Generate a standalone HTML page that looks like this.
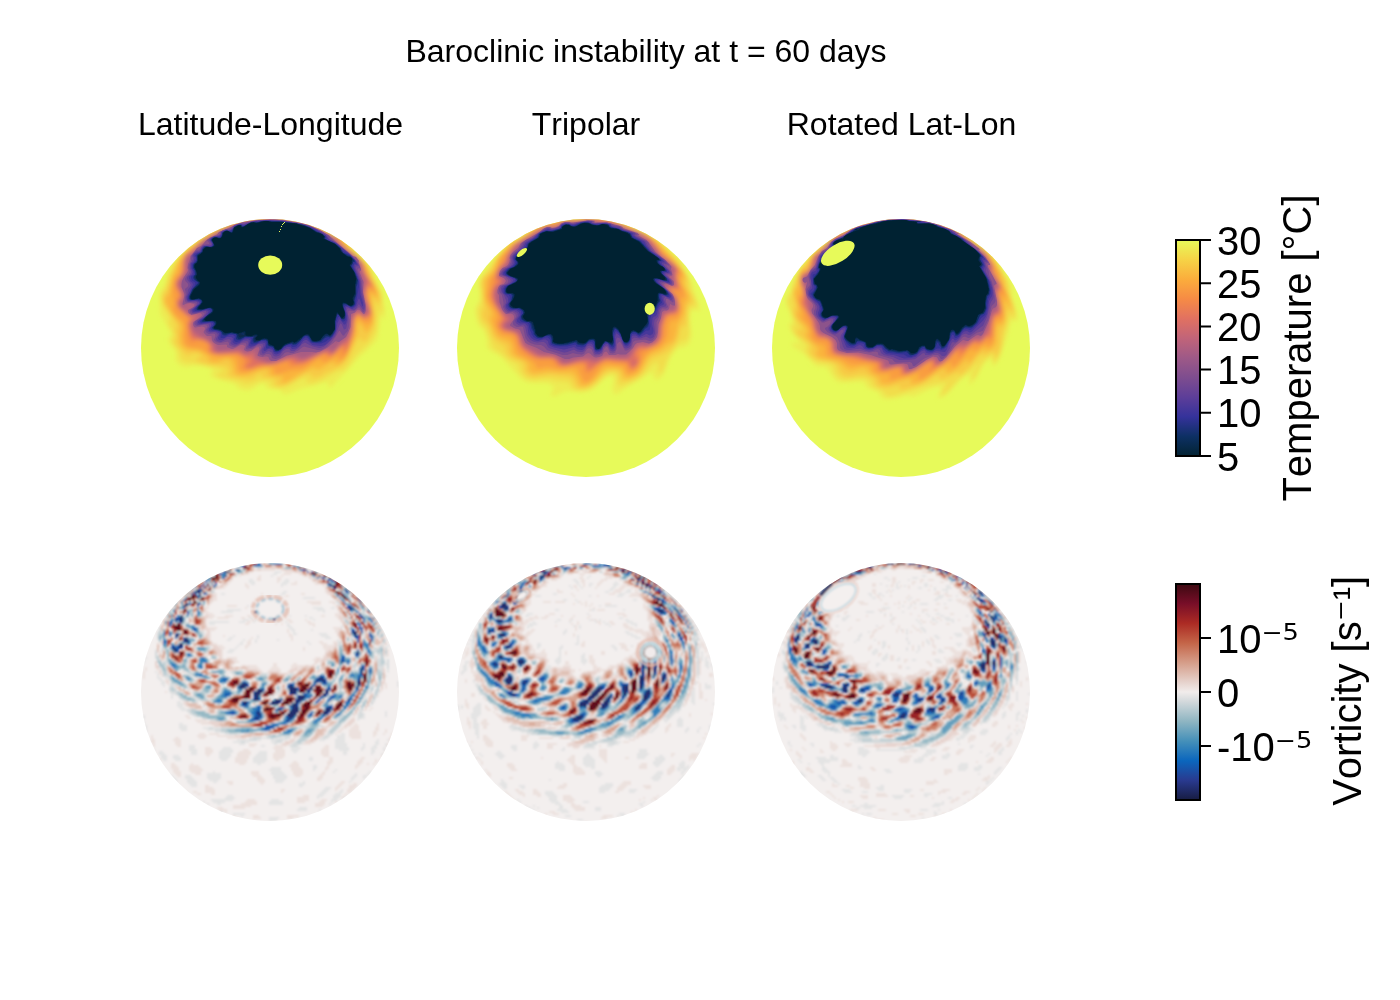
<!DOCTYPE html>
<html><head><meta charset="utf-8"><title>Baroclinic instability</title>
<style>html,body{margin:0;padding:0;background:#fff}svg{display:block}
text{font-family:"Liberation Sans",sans-serif;fill:#000;font-kerning:none}
.sup{font-family:"DejaVu Sans",sans-serif}
</style></head><body>
<svg width="1400" height="1000" viewBox="0 0 1400 1000">
<defs>
<linearGradient id="gT" x1="0" y1="0" x2="0" y2="1"><stop offset="0.0000" stop-color="rgb(231,250,90)"/><stop offset="0.0909" stop-color="rgb(246,211,70)"/><stop offset="0.1818" stop-color="rgb(251,173,60)"/><stop offset="0.2727" stop-color="rgb(246,139,69)"/><stop offset="0.3636" stop-color="rgb(225,113,97)"/><stop offset="0.4545" stop-color="rgb(193,100,121)"/><stop offset="0.5455" stop-color="rgb(158,89,135)"/><stop offset="0.6364" stop-color="rgb(126,77,143)"/><stop offset="0.7273" stop-color="rgb(93,62,153)"/><stop offset="0.8182" stop-color="rgb(53,50,155)"/><stop offset="0.9091" stop-color="rgb(13,48,100)"/><stop offset="1.0000" stop-color="rgb(3,35,51)"/></linearGradient>
<linearGradient id="gB" x1="0" y1="0" x2="0" y2="1"><stop offset="0.0000" stop-color="rgb(60,9,17)"/><stop offset="0.0909" stop-color="rgb(120,14,40)"/><stop offset="0.1818" stop-color="rgb(172,43,36)"/><stop offset="0.2727" stop-color="rgb(196,101,72)"/><stop offset="0.3636" stop-color="rgb(213,157,137)"/><stop offset="0.4545" stop-color="rgb(230,210,204)"/><stop offset="0.5000" stop-color="rgb(241,236,235)"/><stop offset="0.5455" stop-color="rgb(210,216,219)"/><stop offset="0.6364" stop-color="rgb(142,181,194)"/><stop offset="0.7273" stop-color="rgb(69,144,185)"/><stop offset="0.8182" stop-color="rgb(11,102,189)"/><stop offset="0.9091" stop-color="rgb(41,58,143)"/><stop offset="1.0000" stop-color="rgb(23,28,66)"/></linearGradient>
</defs>
<rect width="1400" height="1000" fill="#fff"/>
<text x="646" y="62" font-size="32" text-anchor="middle">Baroclinic instability at t = 60 days</text>
<text x="270.5" y="135" font-size="32" text-anchor="middle">Latitude-Longitude</text>
<text x="586" y="135" font-size="32" text-anchor="middle">Tripolar</text>
<text x="901.5" y="135" font-size="32" text-anchor="middle">Rotated Lat-Lon</text>
<!--SPHERES-->
<defs><clipPath id="c0"><circle cx="270" cy="348" r="129"/></clipPath><clipPath id="c1"><circle cx="586" cy="348" r="129"/></clipPath><clipPath id="c2"><circle cx="901" cy="348" r="129"/></clipPath><clipPath id="c3"><circle cx="270" cy="692" r="129"/></clipPath><clipPath id="c4"><circle cx="586" cy="692" r="129"/></clipPath><clipPath id="c5"><circle cx="901" cy="692" r="129"/></clipPath><filter id="b0" x="-5%" y="-5%" width="110%" height="110%"><feGaussianBlur stdDeviation="4"/></filter><filter id="b1" x="-5%" y="-5%" width="110%" height="110%"><feGaussianBlur stdDeviation="1.3"/></filter><filter id="b2" x="-5%" y="-5%" width="110%" height="110%"><feGaussianBlur stdDeviation="0.5"/></filter><filter id="b3" x="-5%" y="-5%" width="110%" height="110%"><feGaussianBlur stdDeviation="0.9"/></filter></defs><g clip-path="url(#c0)"><circle cx="270" cy="348" r="130" fill="#e7fa5a"/><g transform="translate(141 219) scale(0.5)" fill-rule="evenodd"><g filter="url(#b0)"><path fill="#edeb53" d="M293 350l27-11 28-6 24-8 2 1 0 10 2 1 4-1 35-36 21-24 6-6 6-3 15-17 5-3 2-3 4-9 4-36 2-8 2 2 4 10 1-3 0-16-5-34 4 5 0-2-8-17-14-27 0-2 2 1-1-2-12-16-22-24 63-72-224 0-234 0 55 66-22 22-8 10-7 18-8 24-2 4-4 2-3 10 1 40 4 6 18 32 0 4-5 6 0 4 3 8 11 14 1 6-1 10 3 7 6 5 10 4 6 0 10-3 10 0 14 2 14 5 3 2-7 8 1 2 3 4 8 3 33 9 5 2 6 8 10 4 8 1 7-1 4-2 11-8 6-3 6 0 2 1 1 6 3 2 26 4 3 2 2 6z"/><path fill="#f2dd4b" d="M281 338l13-4 22-12 8-4 4 0 2 1 1 7 3 2 6 1 10-2 16-7 26-15 4-2 6 1 4-1 10-11 14-20 14-14 10-7 4-6 8-13 4-4 2-9 4-33 2-7 2 2 4 10 2-2-2-15-4-22-10-28-15-28 1-2-12-14-22-22 53-64-205 0-198 0 37 54-19 14-13 14-6 8-7 17-4 4 0-1 0-4 10-16-7 6-9 26-5 22-8 12-1 8 3 14 11 18 5 10 0 2-5 2-1 2 3 6 7 12 3 6-1 6-4 6 0 4 3 4 11 14 5 18 4 2 4 2 26 4 46 10 3 2 0 2-12 6-1 2 1 2 9 4 32 6 16 8 10-1 20-7 14-1 7 3 0 8 3 2 6 1zM454 94l0-1 1 1z"/><path fill="#f7ca44" d="M280 334l8-2 8-3 24-14 10-5 8-1 6 8 6 0 8-2 12-8 12-4 10-5 13-8 7-8 16-32 8-13 2 0 3 7 3 1 8-3 4-6 9-20 2-12 0-14-4-32 1-1 2 2 6 13 2 0 2-6 4 0 0-7-4-14-13-25-2-8-1-5-3-7-13-18-30-30 43-58-187 0-161 0 22 40-9 5-29 21-9 9-7 9-6 10-13 34-6 20-6 9-2 5 0 8 3 8 25 40 0 2-4 6 4 16-3 10 1 2 4 6 18 19 4 0 4-3 6-2 8 1 6 3 1 2-1 2-10 4 3 4 13 4 12 3 28 3 6 2 4 4 0 4-3 8 3 2 10 3 32 4 9-3 7-8 6-2 1 2-1 4 1 2 5 1 22 3 2 2-1 8 0 2 5 1zM420 63l-2-3 3 2zM422 64l-1 0 1-1z"/><path fill="#fab43e" d="M286 328l13-6 21-13 22-11 4-1 6 4 4 0 22-14 6-2 2 1 2 5 2 2 4-1 4-3 10-8 8-13 14-34 2-8 1-14 1-5 2-1 2 1 8 14 4 5 4-2 8-11 2-9 1-12-5-34-1-8 1-2 2 0 8 11 2 1 2-8-2-10-14-28-5-14 1-2-2-5-12-13-32-26 0-2 8 5-13-13 34-50-22 0-25 42-30-16 11-26-208 0 8 20-1 2-32 14-20 12-32 26-6 7-4 8-12 31-8 36-2 2-4 4-2 6 2 8 11 18 19 24 1 6-3 8 0 4 1 18 3 6 5 4 5 3 20 2 10 4 13 9 1 2-1 6 7 2 10 1 15-7 7 0 4 2 2 2 5 12 2 12 4 4 7 1 12-1 28-10 8-2 6 0 4 2-1 8 3 3 6 1 20 1 0 3-3 8 1 1z"/><path fill="#f99d40" d="M275 310l28-8 13 0 6-1 6-3 22-15 8-3 2 0 2 6 4 1 8-2 18-12 2 1 1 8 1 2 4-1 4-3 6-6 4-8 10-25 4-13 2-22 2-7 2-2 4 1 6 9 2 2 6-1 6 1 3-3 2-8 0-10-6-32-1-14 2-2 2 1 8 11 2-4-2-8-4-10-11-20-2-8-2-6-5-8-5-6-36-32-3-2 10 4-10-9-14-9-36-18 9-22-43 0-3 12-3 0-10-2 1-10-125 0 5 18-23 9-30 17-27 20-9 8-6 8-5 12-4 20-3 5-6 4-4 13-2 18 4 24-1 4-2 4 0 4 5 10 6 5 8 5 3 6 2 12-2 12 1 12 1 6 5 4 8 4 18 1 18 11 10 4 8 2 24-1 8 2 6 5 2 20 2 2 4 2 12 1 26-9 18-2 11 2 0 2-2 8 3 1z"/><path fill="#f2854b" d="M215 300l23-6 30-3 22-7 4 0 2 2 1 2-1 4 2 2 28-4 10-4 14-10 15-6 5 0 4 6 4 0 6-4 18-15 2 0 0 1-1 12 1 2 2 0 3-4 4-6 8-22 4-18 1-19 4-9 6-4 2 2 6 7 2 2 7-5 5 2 1-2 2-6-1-10-3-10-5-9-2-11 2-6 2-12 2 1 8 8 1-1-1-6-5-10-11-18-3-6 2-4-6-10-13-13-20-17-12-10-2-3 6 2 0-1-6-4-18-10-36-17-22-6-32-5 1-8-38 0 1 6-12 1-4-1 0-6-23 0 1 10-1 0-5 1-14 4-38 15-32 19-18 17-8 4-5 6-7 14-2 24-4 6-8 10-1 10 1 4 6 9 2 5-1 4-5 4-1 4 0 4 2 8 5 6 19 16-4 10 0 6 2 20 4 8 0 4 3 1 6-4 6-1 9 2 6 2 7 6 0 2-2 6 1 4 5 4 6 2 12 1 24-1 7 0 7 2 6 4 6 7 1 3-5 8 1 4 3 2z"/><path fill="#df7062" d="M219 298l21-7 18 0 10-2 28-8 6 1 3 4 3 2 8 1 10-2 42-21 4 1 4 6 4 0 6-4 14-15 6-3 2 0 0 3 0 8 0 2 6-9 7-21 2-12 2-20 4-8 5-5 2 0 10 9 2-1 6-4 4 1 0-1 2-5-2-9-7-15-2-10-1-6 3-8 1-12 2 1 8 8 1-1-1-5-16-25-2-8 1-4-5-8-12-13-24-19-13-12 7 2-6-5-16-9-40-18-24-6-29-4 0-8-28 0 0 6-31 2-2 1-14 2-18 5-36 14-31 20-9 8-12 13-2 1-4 0-6 6-3 6-2 8 0 16-1 4-4 8-8 10-2 8 2 4 6 12 2 6-1 4-6 6 0 6 1 5 4 5 15 14 9 4-5 8-2 6 5 23 6 4 16 2 6 2 6 3 4 4 2 4-2 8 2 4 4 2 12 2 36-2 20 9 8 5 1 2-2 4-9 6 0 2 4 2z"/><path fill="#c56676" d="M266 288l26-9 10-2 6 1 6 6 12-1 46-20 4 1 2 6 4-1 6-4 14-15 12-7 2-5 4-7 2-11 2-20 5-10 5-3 2 0 8 8 2 1 6-6 4-3 1-3-8-22-2-16 3-10 0-13 2 0 6 5-10-16-4-10-2-6 1-2-1-4-8-11-10-9-10-6-11-8-15-16 6 0-12-6-38-19-12-4-20-5-35-6 1-6-16 0 0 6-44 3-22 5-14 5-26 12-30 17-12 10-16 18-2 1-2-1-4 4-4 12 1 18-4 8-9 12-1 6 1 6 7 12 2 6-2 4-6 8 0 4 2 6 5 4 4 4 10 9 8 1 6-1 3 1-1 2-8 5-6 7 0 8 5 14 7 6 18 5 10 7 6 6-2 8 1 2 5 3 8 1 40-3 2 1 4 4 10 2 12-4 0 1 0 5 1 4 3 2 10 6 14 3z"/><path fill="#a85c83" d="M264 288l10-3 20-9 12-2 7 0 7 5 6 0 28-9 22-10 2 0 2 6 2 1 2-1 4-3 12-14 12-11 4-6 5-14 2-20 2-6 7-6 4-2 2 2 6 7 2 1 4-3 2-5 1-8-7-30 0-8 3-8-4-16 1-4-6-18 0-2 1-2 0-2-5-6-7-8-7-4-4-2-19-16-14-14 5 0-1 0-47-24-12-4-18-4-44-6-28 1-28 3-16 4-14 5-22 10-10 7-14 6-13 10-7 6-22 25 0 1-2-2-2 1-1 7 1 1 2 1-2 6 0 12-14 20-1 4 1 6 7 14 1 6 0 4-7 10 0 4 1 3 4 4 8 1 0 6 7 6 15-1 4 1 0 2-2 4-13 8-1 8 2 4 6 8 8 3 0 3 16 8 16 14 3 4-3 4 2 2 6 1 14-1 12 0 16-5 4 3 0 5 4 2 6 0 4 0 8-6 6-1 1 2-2 8 1 5 14 4 7 5 7 2zM92 180l-2 0 0-2 1-4 1-2 6-1 4 1-2 4zM118 228l-3-4 1-2 2 0 2 0 0 2z"/></g><g filter="url(#b1)"><path fill="#8c528b" d="M270 284l6-3 16-8 10-2 18-5 10 0 12 0 8 1 8-2 14-7 18-14 1 0 1 5 0-5 1 2 3 0 14-10 5-10 4-10 1-26 8-3 4-5 4-1 2 1 6 7 2 1 2-2 2-6 0-8-6-28 1-20-8-20 1-2 2-1 0-3-5-14 1-2-6-8-6-2-36-30-4-4-9-8-15-8-25-12-14-4-28-4-25-3-26 1-38 4-16 6-12 6-10 4-10 4-4 5-14 6-9 7-3 4-6 6-8 4-8 10-5 6-2 10-3 6-1 8 1 4-1 4-7 10-4 8-1 6 0 6 5 12 1 4-4 18 1 2 8-3 6-1 8 2 1 2-2 4-11 6 1 6 6 4 17-4 3 2 1 2-1 2-5 4-11 8-1 4 1 4 3 3 14-2 5 1 1 4-3 6 1 2 6 6 9 0 1 8 2 4 4 3 6 3 16-1 2 1 0 4 2 1 8 3 4-1 13-7 5 0 4 2-2 8 6 3 8-1 10-7 5-1 2 4-4 12 1 2 8 2 6-1 4 0 3 1 1 4 4 4z"/><path fill="#744892" d="M269 280l9-3 10-10 6-1 6 2 4 0 10-5 8-6 4-2 28 7 8-1 9-5 9-8 10-14 6-10 2 0 2 4 4 5 2 0 2-3 5-6 3-10 1-12-3-12 1-6 3-1 8 1 10-8 2 2 6 8 2 0 2-5 0-9-5-26-2-22-8-22 1-3 4-1 0-2-5-10-7-8-32-28-14-10-4-6-15-10-21-9-26-7-33-6-15 0-30 0-12 2-18 5-7-1-12 4-9 8-8 1-5 1-7 4 0 4-2 2-17 6-7 4 3 4 2 2-1 2-12 2-8 9-6 2-6 7-3 4-1 10-4 8-1 6 2 4 0 4-2 4-5 6-2 4 1 4 4 4 2 4-2 4-5 4 2 10-2 8 0 6 2 3 12 0 6 1 2 2-1 4-9 6-2 2 0 4 2 3 6 1 16-4 5 2 0 2-4 6-14 8-2 4 0 2 3 3 2 1 14-3 6 2 1 3-4 6 1 4 2 2 4 2 8-1 4 1 1 4-3 8 4 4 8 2 10-2 6-1 2 3 0 4 2 1 4 2 4 1 4-1 10-6 8-1 2 1 1 3-1 6 0 2 4 1 10-2 8-6 6 0 2 1 1 2-4 10 1 5 6 2 6-3 6 0 4 2 2 6z"/><path fill="#5e3f99" d="M274 274l4-2 6-8 6-4 6-1 2 2 2 3 6 0 9-6 7-8 6-3 2 1 7 4 7 3 14 3 8-3 9-7 13-14 2-5 8-20 2 0 2 2 4 10 4-2 2-8 2-11 0-6-3-10 1-4 2-2 10 4 2 0 4-3 4-7 2-2 2 3 6 8 2 0 1-3 0-6-6-24-2-24-10-26 1-3 5-1 0-2-5-8-8-10-30-24-16-10-4-6-19-12-17-8-18-5-34-5-34-2-19 2-9 1-14 5-10 0-7 2-5 2-2 4-4 3-4 1-6-1-8 3-2 2 0 4-4 3-10 2-7 3-3 4 4 6 1 2-1 2-4 1-10 0-5 3-3 7-8 2-6 5-1 4 1 4 0 2-2 6-3 2-1 6 0 4 2 6 0 4-2 4-4 2-2 4 1 4 5 6 2 4-2 4-4 6-1 8-3 6 1 6 3 4 14-1 4 1 1 2-1 4-11 10 0 2 2 4 5 0 18-4 4 0 1 2 0 2-3 4-4 4-11 8-2 4 1 3 4 1 13-2 6 0 1 2 0 4-3 4 0 4 5 3 10-1 4 3 2 3-4 8 2 4 8 2 10-5 6-1 3 2 1 2-1 4 1 2 4 2 4 1 6-2 10-6 8-1 2 1 1 3-2 8 1 1 4 1 6-2 10-6 8 0 2 1 1 3-4 8 1 6 2 1 2 0 6-4 4-1 6 3 2 5 2 2 4 1z"/><path fill="#47379a" d="M273 270l5-2 8-9 6-3 7 0 3 4 8-1 8-6 6-9 4-2 4 0 11 10 17 2 8-2 12-11 8-12 2-5 3-16 3-7 2 0 8 10 2 0 2-3 2-6 0-6-3-14 1-6 4 0 8 4 4-2 4-4 4-12 2-3 2 3 4 11 2 2 0-1 0-6-5-16-2-28-10-26 0-6 1-1 4 1 1-2-5-8-9-10-29-24-14-7-7-9-24-14-13-4-20-5-30-5-32-1-28 3-16 6-6-2-8 2-6 3-2 4-4 3-4 1-6-1-6 3-4 2 0 4-3 3-11 1-5 3-3 4 4 6 0 5-4 2-12-1-4 4-4 7-8 3-4 2-1 4 2 2 0 4-2 6-4 2-1 4 0 6 3 6 0 4-2 4-4 2-1 4 2 6 5 4 1 4-11 22-1 7 2 3 2 0 14 0 4 1 2 1 0 4-13 12 0 2 3 2 6 0 18-4 5 2 0 2-2 4-6 6-10 6-2 2-1 4 2 1 4 1 14-2 5 0 1 2 0 4-4 6 0 2 1 2 3 1 10 0 6 3 1 2-3 8 2 4 6 0 10-6 8 0 4 2-1 8 3 3 4 1 6-2 10-7 8-1 4 3-2 9 1 2 3 1 8-2 10-6 6 0 4 1 1 4-4 8 1 4 2 0 6-4 4 0 5 2 3 7 4 2z"/><path fill="#313295" d="M276 266l4-3 6-7 6-3 8-1 2 4 2 0 6-1 6-6 8-9 4-3 4 0 2 2 6 8 3 1 17 1 8-3 14-10 7-12 1-17 4-10 2-2 2 1 4 8 2 1 2 0 3-3 1-10-4-14 2-4 6-1 6 4 2 0 4-2 3-3 7-38 0-8-4-12-8-18 2-6 0-1 4 0 0-1-2-6-7-6-5-5-12-7-12-12-6-5-13-5-2-2-1-6-4-2-25-14-10-4-19-5-30-4-32-2-8 1-8 2-4-1-8 1-6 2-10 6-3 0-3-3-8 2-5 3-7 7-4 1-6-1-7 3-1 2-1 4-3 4-4 1-6-1-6 2-3 4 5 6-1 6-5 2-8-2-3 0-4 4-3 8-8 3-3 3-1 2 2 2 0 6-3 4-4 4-1 4 0 4 3 6 1 6-1 2-4 2-1 4 2 5 5 3 2 2-2 6-6 8-2 6-4 6-1 4 0 2 4 3 14-1 6 3 1 3-1 2-6 4-5 6 0 2 1 2 8 0 16-4 6 2 1 2-2 4-5 6-12 8-2 2 0 2 2 2 4 0 14-2 4 1 2 1 0 4-2 2-3 4 0 2 3 3 10 0 6 3 2 2-1 8 1 2 6 0 10-6 8 0 3 2 1 2-2 4 1 4 1 1 4 1 6-2 10-6 10 0 3 2-2 8 1 2 2 1 8-1 10-6 6 0 4 1 1 3-1 8 0 2 2 1 6-2 2 0 4 3 2 5 1 1 5 1z"/><path fill="#1c3179" d="M275 264l5-3 6-7 6-3 8-2 2 1 2 2 6-1 6-5 8-9 4-3 4 0 3 2 5 8 2 2 8 1 10-1 8-8 6-2 4 1 4-3 4-6 3-8 0-16 3-12 4 0 6 9 4 0 2-3 1-8-4-14 0-4 3-1 4 0 8 5 5-2 3-4-1-6 4-14 0-14 2-6 1-6-5-14-8-16 3-8 4 0 0-2-4-4-6-7-8-3-5-2-6-10-9-8-6-3-6-1-9-6-1 0 1-4-5-5-12-5-14-9-12-5-16-3-30-4-30-1-8 0-8 3-4 0-2-1-8 1-16 8-2-1-2-2-8 1-5 3-5 8-1 2-9-3-8 3-2 2 0 4-2 5-4 1-8-2-5 2-3 4 4 7 1 3-1 2-5 2-9-1-4 1-3 4-2 6-10 6 1 10-2 4-5 4-1 2 0 6 3 4 1 6 0 4-3 2-1 4 3 4 6 4 1 2-11 12-7 16 0 4 4 2 14-1 4 0 2 3 1 4-10 10-1 2 2 2 8 1 14-5 7 2 1 4-2 4-16 12-3 4 1 2 4 0 16-1 3 1 2 2 0 2-1 3-4 5 2 3 14 3 3 2 1 5 4 2 4 0 8-4 6 0 5 1 2 2-1 8 4 2 4 0 10-6 4 0 12 0 0 2-1 2 0 4 1 2 2 2 6-1 8-5 10 0 3 4 0 4 1 4 9 2 3 2 2 6 2 1z"/><path fill="#0c2f60" d="M274 264l6-4 6-6 6-3 10-3 2 2 6-1 8-6 6-8 4-2 6 0 4 3 4 8 4 2 4 0 8-2 12-10 4 0 4 1 4-4 6-11 0-16 4-14 2 0 2 1 4 8 2 1 4 0 2-4 0-8-4-12 0-6 2-1 4 1 10 5 4-2 3-3-1-8 4-12 0-16 3-12-5-14-9-14 4-4 1-5 2-1-2-4-6-5-6-2-8-5-6-10-10-8-20-10-1-2 1-2-4-4-6-4-6-2-14-8-13-6-15-3-30-4-18 0-12-1-6 0-12 3-4-1-8 1-16 9-2-1-2-3-6 1-7 3-5 10-4 0-6-3-4 1-5 4-1 5-2 4-4 1-6-2-6 2-3 4 5 8-1 4-5 3-8-2-4 1-4 4-2 6-9 6-1 2 1 4-1 6-2 3-4 3-1 6 1 4 2 2 2 6-1 4-3 2 0 4 5 6 4 2 1 2-12 12-7 14 0 4 1 2 2 2 14-2 4 1 3 1 1 4-9 10-1 4 1 2 9 0 14-4 3 0 3 2 1 4-2 2-14 12-4 6 5 1 16-1 3 2 2 4-2 4-4 2 1 4 14 3 4 3 2 4 4 1 12-3 10 2 2 1 1 7 3 2 4-1 8-4 18 0 2 1-3 2 0 4 1 3 2 1 7-2 7-3 8 0 4 3 0 5 2 4 8 2 4 7 2 2z"/><path fill="#082a4c" d="M274 262l6-2 6-7 4-3 12-3 2-1 2 2 4-1 10-7 4-6 4-2 4 0 4 1 6 10 4 2 4 0 8-2 6-8 6-4 4 0 4 3 4-4 6-10 0-16 4-15 2 0 6 7 2 3 4-1 1-4 1-6-5-14 1-5 2-1 4 1 10 5 4-2 2-4-1-8 4-10 0-18 2-12-5-14-7-10-1-4 4-2 0-6 2-2-4-6-8-2-8-6-4-4-2-5-10-9-21-10-2-2 3-2-4-4-6-4-8-2-12-8-18-6-10-3-32-3-16 0-14-2-16 4-4 0-2-2-6 1-16 9-3 0-1-4-6 1-8 4-2 8-2 2-4 0-4-3-6 0-4 4-1 6-3 4-4 0-6-1-6 2-2 3 4 8 0 4-6 3-8-1-4 1-4 5-1 4-3 4-4 1-3 3 0 10-2 4-4 2-1 6 3 6 2 6 0 4-3 2 0 4 5 6 3 2 1 2-2 4-10 8-7 14 0 4 4 3 12-2 4 1 4 2 1 4-8 10-1 2 0 3 8 0 14-4 4 1 3 2 1 4-2 2-13 10-4 6 5 2 14 0 4 1 2 3 0 2-5 6 1 4 14 2 2 2 4 4 2 1 12-2 10 1 4 2 2 6 2 1 10-3 12 1 10-2 1 1-4 4 0 2 1 3 2 1 6 0 8-4 6 0 4 2 0 6 2 4 9 2 3 7zM206 232l-8-2 6-2 2 1z"/><path fill="#032333" d="M274 262l5-2 5-7 4-3 14-5 2 0 1 1 1 1 4-2 18-14 4-1 4 1 6 11 4 2 4 0 8-2 6-8 4-4 4-1 6 4 4-4 6-10-1-15 4-16 1-2 2 2 4 6 4 4 3-2 2-2 0-8-5-14 1-4 1-1 6 1 6 5 4 0 4-2 1-3-2-10 5-10 0-16 2-12-4-14-9-14 1-1 3-3 1-8-2-3-8-2-8-6-5-5-1-4-10-10-22-10-2-2 3-2-5-6-12-3-12-9-19-6-9-3-20-1-8-2-22 0-6-2-6 0-16 4-4 0-2-1-6 1-6 2-6 5-6 2-2-1-1-4-5 1-8 5-2 8-2 2-2 0-6-4-5 0-5 4-1 6-3 4-4 1-6-2-5 1-3 4 5 10 0 2-5 3-10-1-4 2-4 4 0 4-10 8 0 10-2 4-4 2-1 6 3 6 2 6 0 4-2 2 0 4 5 6 3 2 0 2-1 4-11 9-7 13 0 4 1 2 4 1 12-3 4 2 2 2 2 4-8 10-1 2 1 2 6 0 16-3 2 0 5 3 0 2-1 4-4 4-9 6-4 6 4 2 13-1 6 1 1 4-1 4-4 4 0 2 2 1 10 2 5 3 3 3 4 1 12-2 12 3 14-5 1 2 0 6 1 1 10 1 8-3 4 0 1 1 0 2-4 4 1 4 6 0 10-4 6 1 3 3 0 4 2 4 9 4 3 6z"/></g></g><ellipse cx="270.2" cy="265.1" rx="12" ry="9.6" fill="#e7fa5a"/><path d="M279 231h1v1h-1zM280 229h1v1h-1zM281 226h1v1h-1zM282 224h1v1h-1zM283 223h1v1h-1zM284 222h1v1h-1z" fill="#e7fa5a"/></g><g clip-path="url(#c1)"><circle cx="586" cy="348" r="130" fill="#e7fa5a"/><g transform="translate(457 219) scale(0.5)" fill-rule="evenodd"><g filter="url(#b0)"><path fill="#edeb53" d="M196 354l22-10 28 3 10-1 8-2 10-5 20-19 12-6 4 1 3 3 0 4-2 18 2 8 3 3 6-2 18-13 25-14 23-15 2 0 2 1 1 10 2 2 3 1 4 0 6-4 6-7 12-32 10-14 8-7 8 0 4-1 9-8 2-6 2-8-3-34 1-12 3-5 6-1 4 0 6 4-1-8-3-12-14-40-15-28 1 0 4 2-2-4-9-12-19-18-18-16-12-8 31-48-139 0-179 0 21 38-10 7-28-45-48 0 50 62-42 49-5 9-4 12-1 8 2 14 0 10-2 7-6 11-2 8 5 24 3 5 10 10 4 11 3 10-2 8 1 4 6 7 17 9 8 6 19 22 18 19 7 5 13 4 30 0 6 2 7 4 3 2 0 2-6 10-1 4 3 2z"/><path fill="#f2dd4b" d="M256 342l8-2 6-4 8-5 18-17 6-4 6-2 6 1 4 3 2 4 0 12 2 5 4 2 10-3 18-8 11-6 11-10 14-16 8-4 3 0 2 2-1 16 2 3 2 0 6-6 10-25 9-14 15-18 4-2 6 1 6-8 3-11-2-32 1-12 2-4 2-1 4-1 8-3 0-1 0-4-13-28-1-2 2-6-3-10-7-14-14-20 0-1 8 5-1-2-13-14-24-23-16-12-19-11 19-36-277 0 18 36-21 12-4 1-32-49-25 0 44 58-26 30-13 22-10 10-4 5-2 7 3 32-1 10-6 12 1 12 3 13 12 14 14 37 3 4 13 9 12 11 20 10 2 4 2 8 3 6 7 7 6 5 14 2 28-2 20 5 16 1 6 2 6 10 4 3 10 2z"/><path fill="#f7ca44" d="M255 338l7-2 8-4 8-6 16-17 6-3 6-2 10-1 6 3 3 4 2 12 3 2 10 0 14-5 9-5 8-8 13-21 4-5 24-10 12-7 8-8 6-7 4-8 5-20 3-6 2-1 4 1 2-2 1-8 2-28 3-5 6-3 2-2-2-10-11-24 0-6 3-2 0-5-5-9-8-12-16-20-16-16-1-2 4 0-4-4-11-8-15-11-34-17 0-2 9-24-235 0 15 32-1 0-36 22-10 10-19 22-9 20-17 18-3 4-1 8 3 12 1 20 2 14-1 4-4 8 1 10 13 16 5 16 5 10 8 7 12 7 2 4 3 10 5 6 6 5 15 5 6 4 2 4 1 12 3 4 3 4 6 2 6 2 34-4 36 4 4 2 6 4 5 12 3 3 8 2z"/><path fill="#fab43e" d="M256 334l8-3 6-5 8-7 13-15 5-4 4-2 16 0 10 2 4 4 4 10 4 3 8 0 8-4 8-4 6-7 12-23 6-7 6-4 14-5 16-13 8-3 3-3 5-10 4-22 12-22 3-20 7-12-2-8-9-18-2-6 0-2 5-8 0-4-4-8-8-9-17-21-19-18-1-2 3-2-6-4-14-10-14-8-45-20 5-16-87 0 0 6-19 2-4 0-1-8-80 0 11 26-38 25-14 9-8 7-14 19-8 22-12 14-5 8-2 26 1 10 2 7 9 15 2 6 0 2-4 8 0 4 11 28 3 4 8 6 13 5 6 4 2 7 1 12 4 4 5 4 16 6 6 4 3 6 0 10 4 4 4 2 5 1 28-4 22 2 22 0 4 2 6 6 8 17 4 2z"/><path fill="#f99d40" d="M261 326l9-6 18-23 4-4 6-2 8 0 26 3 3 4 4 10 3 2 8-1 9-5 7-8 9-20 5-6 8-6 18-8 9-10 7-14 1-18 3-8 4-4 8 0 2-1 7-11 2-12-3-19 2-1 6 1 2-4-1-9-8-18-2-8 0-4 4-2 1-2-1-8-7-10-23-22-20-22-1-2 4 0 0-2-12-8-18-10-57-22 3-12-53 0-1 6-56 5-34 9-14 6-43 26-9 8-10 11-8 7-5 8-3 12-4 8-4 9-8 9-2 4-1 14-3 14 0 6 4 10 11 18 4 6 0 6-4 10 2 10 5 8 4 6 6 3 14 2 4 4 3 5 6 20 3 6 30 16 4 4 2 6 2 3 6 0 14-3 26 5 10-1 14-2 8 0 4 4 10 22 4 2z"/><path fill="#f2854b" d="M265 306l19-16 14-7 9 1 13 2 18 1 3 3 5 11 4 1 6-3 6-7 3-6 2-10 0-10 31-14 6-4 4-6 3-8 1-20 6-17 8-5 12-1 5-5 1-4 0-10-3-12-4-8-11-12-1-2 21 6 2-2-6-18-2-9 0-5 5-4-2-6-11-12-22-17-2-5-21-26 5 2 0-2-18-10-42-17-30-9-22-3-22 0-36 3-16 3-4 5-8 2-4 0-2-1-4 0-26 10-38 24-6 5-5 6-11 18-4 9-8 9-5 8-5 12-2 13-4 11-3 14 0 4 4 10 15 24 3 6 1 4-7 10 0 4 2 4 5 5 4 2 16 3 6 4 4 4 3 14 2 4 4 6 5 5 12 8 12 6 8 1 16 0 10 1 2 3 6 8 6 3 10 0 23-5 12 0 5 2 0 10 1 2 3 3z"/><path fill="#df7062" d="M265 300l5-2 5-4 13-8 6-4 6-1 42 4 2 3 4 10 2 1 4-2 6-5 3-8-1-6-5-4 0-2 0-6 2-2 3-4 4-2 12 1 8-3 10-4 6-6 4-4 2-6 2-22 6-18 6-5 16-3 4-6 1-6-1-8-3-10-5-6-9-10-2-6 3-1 12 5 4-4 1-2-4-12-1-12 0-3 4-2 0-3-3-6-7-6-25-20-3-8-13-16-9-8 5 0-11-7-18-7-14-4-8-5-8-3-29-8-13 1-2-1 3 0-2-2-19-1-48 4-10 2-6 5-6 3-6 0-4-2-4 1-14 5-50 31-6 5-11 17-5 16-10 8-4 8-4 12 0 4 8 3 1 3-12 10-4 8-1 8 2 10 3 8 19 28-2 4-5 8-1 4 2 4 6 5 16 3 8 4 4 6 5 16 3 5 6 5 12 9 11 5 7 2 20-1 8 2 4 3 6 8 4 3 12 0 24-7 12 0 5 4 1 2-1 6 1 2z"/><path fill="#c56676" d="M218 290l24-6 12-2 8 1 14 5 18-8 4-1 30 2 10 0 6-2 4-4 9-15 7-5 6-1 8 1 6 0 10-4 6-5 3-4 3-8 2-20 6-22 4-3 20-4 2-4 1-9-4-14-13-16-4-6 1-2 3-1 12 5 2-2 1-6-2-8-1-14 0-4 3-2 0-2-10-12-24-18-3-4 0-4-7-8-6-8-14-10-3-4-3-2-11-5-17-5-4-2-2-2-9-4-24-6-21 0-2-2 1-2-18 0-24 3-12-1-14 2-4 2-6 4-6 3-6 1-6-2-12 4-49 30-6 4-14 20-2 4-1 8-2 4-10 9-4 5-3 8-1 6 2 2 8 2 1 4-2 4-11 8-3 8-1 8 2 12 4 10 14 19 6 3 2 2-1 4-5 3-4 5-2 4 1 2 5 5 14 3 10 4 4 5 4 15 4 6 24 18 10 3 18 0 10 1 6 4 8 9 4 2zM355 292l3-6-1-2-1-1-4 2-1 3 1 4z"/><path fill="#a85c83" d="M221 288l21-7 18-3 4 0 12 4 6-1 16-6 30 3 12-1 6-5 10-15 6-5 8-2 10 3 4 0 8-3 6-5 4-5 2-6 2-22 6-22 4-4 6 0 8-4 6 0 3-4 1-8-3-12-16-18-3-6 2-2 4 0 10 4 2-2 1-8-4-6 2-4-1-10 1-8-12-14-15-10-6-6-3-4 0-2-8-8-5-8-17-10-1-2 2-2-4-2-11-6-15-3-6-3 0-2-8-4-25-6-21 0-2-1-1-1 2 0-2-2-15 0-28 4-10-1-14 2-3 1-5 6-6 2-6 1-6-3-12 4-8 7-38 21-2 2-7 10-7 6-6 8-2 6 0 8-2 4-11 8-5 5-2 8 0 4 10 4 1 5-3 5-9 5-3 4-1 10 2 18 7 14 8 10 2 2 10 2 3 4-3 6-9 6-2 4 2 2 3 3 22 7 4 6 4 14 4 6 4 4 16 7 8 7 6 2 18 1 8 1 9 4 9 9 4 1z"/></g><g filter="url(#b1)"><path fill="#8c528b" d="M224 280l8-3 20-2 6-5 4-2 4 1 8 7 4 1 6-1 6-2 4-7 4-2 2 1 4 6 2 0 10 0 6-2 4 1 12 0 6-5 8-8 4-7 4-3 12-2 12 3 6-2 6-5 4-6 2-10 1-16 5-12 2-12 4-3 6 0 4-3 2-10 6 3 4 0 0-9-2-8-3-6-13-12-4-6 1-2 3-1 12 5 4-2 0-4-1-4-9-8 2-2 4-1 1-1-3-12 1-4-1-2-9-10-22-18-14-20-4-4-15-8-2-2 3 0-4-4-9-3-15-5-5-2-1-2-5-2-26-7-24 0-2-1 2-2-6-1-10 0-28 4-4 0-4-1-8 0-8 3-4 5-8 3-6 1-4-2-6 0-8 4-4 4-20 12-11 6-9 6-6 10-10 8-5 6-2 6 1 2-1 6-3 6-4 3-7 3-5 6-2 6 0 4 10 4 3 4 1 2-4 6-8 2-3 4-2 6 0 6 3 4 1 14 3 8 1 4 3 6 6 6 10-1 4 2 2 3 0 6-7 10-1 2 1 2 9 5 6 1 4 2 9 22 2 4 5 3 18 7 14 8 22 5 20 9z"/><path fill="#744892" d="M284 272l6-3 4-9 4-4 2 0 2 2 4 10 6 1 4-2 3-7 1-10 4-4 2 0 2 2 8 15 2 0 4-1 6-4 2-5 2-7 4-3 11-1 9-1 10 3 4-1 4-4 3-5 2-6 0-22 5-9 3-13 3-5 8 0 4-3-4-10 0-6 4 0 10 7 1-3 0-6-3-6-16-16-4-6 1-2 3-1 4 1 10 4 2 0 1-2 0-2-1-4-7-8-3-4 2-1 6 0 1-1-1-4-9-12 0-2 5 1 0-1-8-10-22-16-9-12-2-6-4-4-20-10 0-2 2-2-1 0-8-4-18-5-9-7-9-1-8-4-10-2-22 1-4-1 0-1 1-2-2 0-9-1-30 6-4-1-4-1-8 0-7 3-5 5-6 3-10 1-2-2-4 0-6 1-16 12-10 8-12 4-7 6-6 10-5 6-6 4-5 6-2 4 1 2 0 6-3 6-4 4-8 4-5 6-2 4 1 2 10 4 4 4 2 4-2 4-3 2-10 4-4 6 1 6 5 6 3 14 0 6-1 4 1 2 3 6 4 3 2 1 9-2 6 4 1 6-5 8-1 4 1 4 3 2 4 2 2 0 6-1 4 1 5 22 4 6 6 4 9 3 12 1 6 3 6 7 32 10 8 0 12-4 8 2 10 1 4-2 6-9 4-2 5 2 5 12 4 1z"/><path fill="#5e3f99" d="M284 270l6-4 2-9 6-4 2 0 2 1 4 8 2 2 4 1 4-2 1-3 1-19 2-4 2 0 4 2 4 8 4 10 4 2 6-2 4-4 1-5 1-8 4-3 12 2 12-4 8 4 4-1 3-2 3-8-2-18 1-8 7-7 2-13 4-5 8-2 2-1 0-2-4-10 0-4 2-2 2 0 10 6 3-2-1-6-4-6-16-14-4-6 1-2 3-1 6 1 10 4 2 0 1-2 0-2-2-4-8-8-2-2 0-2 1-1 6 0 2-1-1-4-8-8-3-4 0-3 4 1 1 0 0-2-7-8-23-16-7-10-3-6-3-4-20-10-1-2 2-2-1-2-7-2-15-4-10-6-12-2-6-4-10-2-20 1-6-1-1-4-9 0-26 6-6 0-6-2-6 0-6 2-6 6-6 3-8 2-8-3-5 2-16 10-9 8-12 6-6 4-2 4-1 2-3 4-5 6-7 4-5 6-1 4 1 4 0 4-2 6-5 4-8 4-6 6-1 4 2 2 10 4 5 4 2 4-1 2-5 4-12 4-2 6 1 6 5 6 4 10 0 6-3 6 1 4 3 4 3 3 4 0 8-1 7 4 1 6-5 8 0 4 1 2 5 4 3 1 6-1 3 2 2 4 3 15 6 8 6 4 8 2 8-1 6 0 4 3 4 7 2 2 30 9 6-1 14-5 6 4 10 1 4-2 6-9 4-2 2 0 6 4 3 11 3 2z"/><path fill="#47379a" d="M284 266l6-4 4-10 4-2 4 0 4 8 2 2 4 1 2-2 3-5-1-18 2-7 2 0 4 3 6 9 4 11 2 2 2 1 4-1 4-5 2-3 1-8 1-4 2-1 6 0 6 4 4-2 10-5 2 0 6 3 5-3 2-6-3-14 1-12 3-3 2 0 3-3 4-14 3-4 6-2 2-2-3-10-1-6 2-1 2 0 12 5 2-2-1-4-3-4-18-18-4-4 2-3 4 0 14 5 4 0 0-1-1-5-9-8-2-4 2-3 6 1 2-2-2-4-12-12 0-2 2-2 2 1 1-1-7-8-21-14-8-10-4-8-3-2-12-6-6-4-2-2 1-2-2-2-17-5-12-5-12-3-2-1 0-3-5-1-9-2-18 2-6-2-4-2-4-1-12 1-16 5-6 0-6-2-4 0-8 2-4 6-5 3-11 2-8-2-6 2-12 6-10 10-10 6-7 4-5 10-7 6-6 4-6 6-1 6 1 2 1 6-2 4-5 4-8 4-6 6-1 2 1 4 15 6 5 4-1 2-3 4-6 4-8 2-4 6 0 4 1 4 7 6 3 4 0 8-4 6 1 6 3 3 2 2 14-1 6 4 2 6-5 8-1 4 1 2 5 3 10 0 2 2 3 3 2 16 6 8 5 4 8 2 10-3 6 0 4 3 2 8 3 2 7 3 20 4 20-5 8 5 8 1 4-2 6-9 4-2 4 0 2 1 2 3 4 12 4 2z"/><path fill="#313295" d="M283 264l5-3 4-10 6-4 4 1 4 6 2 2 4 1 2-2 1-5-1-12 0-6 2-6 2-2 2 1 4 3 4 8 6 13 2 2 2 1 4-2 4-4 1-4 1-7 2-5 6-1 9 5 5-4 8-7 4 0 3-1 2-8-1-12 2-8 2-4 4 0 2-2 8-16 5-4 1-1-3-9 0-6 1-1 2 0 12 5 3-2-1-4-3-6-8-6-10-8-5-6 2-2 6-1 12 4 6 1 0-2-2-4-9-8-2-4 2-2 7 0 0-4-11-10-3-4 0-2 0-1 5-1-1-2-8-6-16-12-18-20-14-7-4-3 0-4-3-2-15-5-10-4-12-3-7-6-11-1-8 2-8 0-7-1-5-3-4-1-12 1-14 6-6-1-4-2-6 0-8 2-2 2 0 4-4 2-14 3-4 1-6-2-8 3-8 5-4 5-3 3-9 5-7 5-3 4 0 2-3 4-17 13-4 7 0 2 3 6-1 4-6 6-9 4-6 6 0 2 2 4 5 2 11 4 3 2 0 2-1 4-4 2-13 6-4 6 0 6 2 4 8 2 2 4-1 10-4 6 1 4 5 4 5 1 8-1 8 4 1 6-4 8 1 5 4 3 10 2 3 2 3 12 3 6 0 2 4 6 5 3 8 2 10-4 6 0 4 4 1 5 0 4 1 1 6 3 10 1 16 0 16-4 2 1 0 2 2 1 10 2 6-2 6-8 8-2 4 5 2 12 3 2z"/><path fill="#1c3179" d="M282 262l6-2 4-10 5-4 3 0 10 8 2-2 2-6-2-8 0-10 2-5 2-3 2 0 4 4 6 8 5 14 3 3 2 0 4-1 3-4 1-4 1-10 3-3 4-1 6 2 2 3 4 0 4-3 6-8 6-4 2-6-1-14 2-6 3-3 4 0 4-3 2-4 4-10 5-6-3-8 1-6 3-1 10 4 5-1-1-4-5-6-17-14-5-6 1-2 6 0 4 0 10 4 5 0-1-4-10-10-1-4 1-2 8 1 1-1-1-2-14-14-1-2 1-2 4 0-2-4-22-16-18-20-14-6-6-9-6-3-10-2-6-4-16-3-2-2-2-3-4-2-10 0-6 2-6 0-8-2-8-3-6 0-8 1-8 4-6 2-5 0-5-3-8 0-4 2-3 3-1 2-4 2-14 4-10 0-8 2-8 4-2 5-3 3-13 8-5 4-1 6-4 3-16 13-3 4-1 4 4 6-1 4-6 6-9 3-6 7 0 4 3 2 15 6 3 4 0 2-3 2-15 8-4 4-1 4 0 4 2 3 10 1 2 4-2 10-5 6 1 4 2 3 4 2 14 0 6 4 2 3 0 2 0 2-4 4 0 6 6 5 10 1 2 2 3 12 4 6 0 4 7 7 4 1 4 0 8-4 8 0 2 1 2 3 1 6 0 2 1 3 8 3 8 1 14-1 16-5 2 1 2 2 2 2 10 1 4-2 8-7 6-2 4 2 1 2 1 14 2 2z"/><path fill="#0c2f60" d="M285 260l3-3 6-10 2-2 4 0 8 6 4-1 1-6-1-10 0-8 1-4 2-4 3 1 4 3 6 9 6 15 2 1 2 1 4-2 3-4 1-11 4-5 2-1 4 0 4 2 2 2 2 0 5-3 7-9 4-3 3-6-1-12 2-8 2-3 6 0 3-3 6-14 4-4-2-10 1-4 2-2 12 4 3-2-1-4-5-6-17-12-4-6 2-2 4-1 14 4 6 0-1-5-9-8-2-4 2-2 6 0 1-2-2-4-9-6-4-4 0-4 5-2-2-2-22-16-17-19-15-7-5-9-6-3-10-2-8-4-14-3-3-1-2-4-3-1-10-1-6 2-6 1-8-2-6-3-8-1-8 2-9 5-5 1-6-1-4-3-6 0-7 3-2 2 0 2-3 2-16 5-10-1-10 3-5 3-3 8-15 8-5 4-1 6-4 4-17 12-3 8 4 6 0 4-7 6-9 4-6 6 0 4 3 2 3 2 11 4 3 2 1 2 0 2-3 2-15 8-4 6-1 4 2 4 3 2 7 0 3 2-3 12-4 4 0 6 5 4 6 1 8-1 7 4 2 4 0 2-4 6 1 6 6 4 4 2 4 0 4 2 1 2 2 8 4 8 0 4 5 6 4 1 6 0 10-5 6 0 2 2 1 2 2 6-1 4 1 2 5 2 10 1 14-1 18-5 2 1 0 2 2 2 10 1 6-2 6-7 8-1 2 1 2 4 0 10 1 4 3 1z"/><path fill="#082a4c" d="M285 260l3-4 6-9 2-3 2 0 10 5 3-1 1-6-1-10 0-8 1-5 2-2 4 1 4 3 6 9 4 13 4 3 2 1 4-1 2-4 2-12 2-5 4-1 2 0 6 2 2 2 2 0 5-4 5-8 4-3 4-7-1-12 1-6 3-4 7-1 4-5 7-14-1-12 0-2 2-2 12 3 4-1-2-4-4-6-16-12-5-6 1-3 4-1 6 1 10 3 4 0-2-6-8-8-1-2 1-3 7 1 1-4-4-4-8-4-3-4-1-4 2-2 2 0 1 0-2-4-21-14-18-19-14-7-2-3-1-3-3-2-6-3-8-3-8-4-14-2-4-2 0-3-4-2-10-1-6 3-6 0-6-1-9-4-9 0-6 1-8 5-6 2-4-1-6-3-6-1-6 3-2 2 0 3-4 2-16 5-10-1-10 3-4 3-1 3-3 4-14 8-5 4-1 6-4 4-6 6-6 2-5 4-4 8 1 2 4 4 0 4-7 6-9 4-5 6-1 3 3 3 3 2 11 4 3 2 1 2-3 5-16 7-4 6 0 6 2 2 10 1 4 3 0 2-3 8-5 6 0 6 2 2 4 2 14 0 7 4 2 6-4 6 0 4 5 5 6 2 4 0 4 3 6 16 0 4 6 7 4 1 4 0 12-5 6 0 3 5 1 4-1 4 1 2 6 3 8 1 16-2 16-5 2 1 1 2 3 2 8 2 6-3 6-6 8-1 2 1 2 3 0 10 2 4 2 2z"/><path fill="#032333" d="M283 260l3-3 7-11 3-2 2 0 10 3 2-1 2-6-2-8 0-8 1-6 3-3 4 1 5 4 4 8 5 14 3 4 3 0 2 0 4-4 2-6 0-8 3-4 3-2 4 1 6 4 4-1 2-3 12-15 1-6-1-10 2-6 4-4 4 0 2-1 4-5 5-14 0-10 1-3 2-2 12 2 2-1 0-2-4-6-5-4-11-7-5-5-1-4 2-2 6 0 12 4 4-1 1-1-1-2-9-10-1-4 2-1 6 0 1-1 0-2-3-4-6-3-6-5-1-4 0-2 5 0-2-4-9-6-11-7-18-19-15-8-5-8-6-3-8-2-9-5-13-1-9-7-7-2-8 3-6 0-8-1-6-3-10-1-6 2-10 5-4 1-6-1-4-3-8 0-4 3-2 1 0 4-2 1-16 5-14-1-7 3-5 2 0 4-3 4-14 8-5 4-2 6-4 5-16 12-3 3-1 4 5 6 0 4-5 5-11 5-5 6-1 2 3 4 4 2 10 3 4 2 0 3-1 2-5 4-13 6-4 6 0 6 3 2 10 0 4 3-3 9-6 8 0 4 5 4 6 2 8-1 8 5 2 4-1 4-3 4 1 4 7 6 8 0 4 2 5 16 0 6 2 2 3 4 4 1 6 0 10-5 6 0 4 4 1 6-1 4 1 2 5 2 8 1 6 0 26-7 2 0 2 3 2 2 10 1 4-2 6-6 8-1 4 1 1 2 1 14 2 3z"/></g></g><ellipse cx="521.9" cy="252.5" rx="6.3" ry="2.5" transform="rotate(-39 521.9 252.5)" fill="#e7fa5a"/><ellipse cx="649.7" cy="308.8" rx="5.1" ry="6.1" fill="#e7fa5a"/></g><g clip-path="url(#c2)"><circle cx="901" cy="348" r="130" fill="#e7fa5a"/><g transform="translate(772 219) scale(0.5)" fill-rule="evenodd"><g filter="url(#b0)"><path fill="#edeb53" d="M235 360l15-2 22-6 4 0 2 4 6-1 34-16 16-4 4 0 0 3-6 18 2 3 4-1 12-8 26-28 16-11 3-1 1 2-2 18 2 1 4-2 9-13 15-27 10-9 2-2 2 2 4 14 2 0 4-4 6-10 5-12 9-27 4-13 6-24 2-2 2 0 6 4 1-2 1-6-2-16-10-30 0-2 5 0-2-6-9-20-13-22 5 5 0-1-13-20-1-1 72-64 0-27-306 0-222 0 0 11 78 74-23 31-5 10-8 26-2 3-4 0-1 5 0 16 8 20 3 12 0 4-6 4 0 6 10 17 12 15-2 2-12-3-2 1 0 4 4 4 22 15 20 21 6 3 12 0 6 3 10 16 9 10 7 2 8 1 28-2 10 0 3 3 3 6 4 4 18 7 4 3 4 8 4 2 6 2z"/><path fill="#f2dd4b" d="M242 354l62-19 44-9 1 2-1 2-10 20 0 2 4 0 10-7 21-23 24-20 13-14 2 0 0 2-10 21-2 7 0 2 2 0 6-6 11-24 15-15 4-3 2 1 4 14 2 0 4-4 4-9 4-10 7-32 10-34 1-3 2-1 8 5 2-3 0-6-4-16-12-34 0-2 6 2-2-7-9-17-14-20 1-1 6 5-2-2-24-30 69-74-285 0-181 0 55 66-22 23-13 17-13 25-7 29-1 3-4 1-1 2-1 4 2 6 5 12 10 26-1 4-6 4 0 4 2 6 8 9 18 15 2 6-4 4 0 4 7 10 9 8 8 4 20 3 9 3 3 4 4 14 8 8 6 2 6 2 32-4 10 2 7 4 3 8 4 4 20 8 6 8 2 2 6 1zM452 95l0-1 1 0z"/><path fill="#f7ca44" d="M258 342l18-4 20-6 14-7 20-13 4 0 1 8 3 1 10-3 22-11 2 1 2 3 4 0 16-13 18-23 6-5 2 0 4 3 4 1 10-8 4-1 2 2 4 9 2 0 2-5 6-17 2-24 8-24 2-25 2 0 12 7 0-4-4-15-14-37-1-6 5 3 1-3-7-12-18-27 8 6-1-3-10-10-15-15-33-27 27-44-204 0-141 0 35 52-10 8-14 10-9 10-7 11-8 6-8 13-7 22-5 10-2 8-1 8 6 22-5 8 0 6 5 12 11 14 2 4-2 3-8 2-1 1 0 4 4 4 18 14 6 6 1 6-3 8 2 4 4 4 5 4 6 4 26 4 9 4 4 4 5 13 6 5 6 2 6 1 22-4 10 1 10 4 6 3 3 3 2 8 5 5 8 2 12 0 24-5 1 2-3 6z"/><path fill="#fab43e" d="M284 330l10-2 10-5 28-20 10-5 5 0 1 8 2 2 6-1 16-10 18-18 1 1 1 9 0 1 2-1 20-22 6-7 4-1 6 5 8-3 8-9 2-4 1-26 2-8 3-3 6 2 2-2 2-5 2-14-2-24 0-4 4 1 8 10 2 0 0-1-4-16-18-45 0-3 4 3 0-3-20-30 7 4-10-10-15-14-40-28 21-38-185 0-131 0 30 48-17 15-10 6-8 9-6 10-4 14-2 3-4 2-4-3-2 2-4 8-2 10-2 21 0 1-6 1-1 7 8 32 0 4-5 6 1 4 5 8 12 12 4 6 1 6-5 6 2 4 24 23 0 3-4 6 0 4 3 2 7 4 26 5 8 2 7 5 11 10 4 2 8 0 16-5 10 1 8 10 18 10 3 10 4 2 11 1 30-10 14-2 3 1-1 8 0 2z"/><path fill="#f99d40" d="M238 322l28-6 28-9 1 1-3 10 0 2 2 2 6-1 10-5 22-16 24-15 2 1 0 8 1 2 3 1 4-2 8-8 16-20 8-7 4 0 2 4 2 1 4-2 14-12 4-1 6 5 2 0 2-2 4-6 2-7 2-26 2-8 4-4 8 1 3-5 0-16-5-26 1-2 3-1 8 4 0-1-4-15-20-44 0-5-16-23 7 5-9-8-6-5-2 1-25-18-1-2 5 2-7-6-26-14 13-30-236 0 12 28-21 10-20-38-17 0 26 44-25 23-8 5-6 4-6 10-3 14-3 7-4 4-8 1-3 6-2 6 0 8 4 16 0 6-1 3-6 4-1 3 2 10 9 20 1 4-3 4 0 2 10 12 6 8 2 8-1 10 4 6 7 6 14 3 4 3 2 6-1 10 1 2 8 4 24 5 12 8 6 2 8 1 20-2 12 2 3 2 1 10 6 4 12 2 18 0 0 2-6 8 2 2z"/><path fill="#f2854b" d="M265 312l7-2 12-5 26-17 8-2 2 1 1 3-8 14 1 1 30-17 8-7 16-17 4-1 1 1 0 4-1 8 0 2 2 0 6-6 11-14 11-10 4 0 6 4 4-2 13-12 3 0 4 4 2 0 2-4 1-4 1-25 2-9 4-6 8-1 2-3 1-2-1-12-6-19-1-9 1-3 4 0 3-3 0-6-5-10-13-20-1-4 4 1 2 0-1-3-10-16 2-2-1-2-5-6-17-16-32-22 6 1-4-3-16-9-19-7 2-2 8-22-64 0-1 9-3-1 1-8-96 0 3 12-17 6-3 0-5-18-17 0 8 22-43 24-8 6-18 20-10 5-6 9-1 12-5 10-6 6-6 2-3 2-2 6 0 8 5 12 1 14-1 5-4 5 0 6 2 4 18 30 3 14 7 20 4 3 14 0 5 3 3 2 2 4 2 16 4 6 16 4 22 4 14 4 35 6 3 3 0 9 4 4 10 0 20-6 6 0 4 0 2 2-1 10 3 2z"/><path fill="#df7062" d="M268 310l6-2 12-5 24-16 8-4 4 0 1 3 0 10 1 0 4-1 10-4 8-7 20-20 6-5 4-1 2 7 2 1 24-21 4-1 6 4 2-1 14-13 4-1 4 0 2-25 2-11 4-4 8-3 3-4 0-10-7-30 1-4 6 0 0-6-3-8-15-26-1-3 4 1 2 0-11-20 0-2-6-8-11-11-36-25 4 0-2-1-14-8-22-9 9-22-52 0-2 10-1 0-16-2-1-2 1-6-84 0 2 12-1 0-27 8-10 4-40 22-7 4-23 24-10 6-3 6 1 8-9 16-5 5-8 3-2 4 0 10 5 12 2 18-1 4-3 6 0 4 20 32 3 16 6 13 4 5 16 2 6 5 4 5 0 14 3 6 5 2 8 2 30 3 18 6 28 5 4 4-1 8 1 3 4 1 8 0 22-6 8 0 3 2-1 8 1 2zM342 15l-2-1 2 0z"/><path fill="#c56676" d="M274 306l14-5 22-16 10-4 3-1 3 2 2 10 2 0 6-2 14-10 16-19 8-7 4-1 6 4 22-16 4 0 4 4 4-1 6-8 9-12 9-32 4-3 7-3 2-4-1-10-6-28 2-4 4-1 1-5-3-8-15-26-1-3 4 1 1-2-3-6-10-14 2-2-6-6-12-12-34-22 4 0-20-11-22-9 3 0 6-20-40 0-2 10-1 1-28-5 1-6-31 0 0 6-4 1-5-1 0-6-35 0 2 12-28 7-14 5-47 26-27 29-6 4 0 1 2 2 0 2-2 8-14 18-2 3-6 2-3 5 0 8 5 12 4 28 1 10 4 10 11 18 2 14 2 6 4 5 2 3 16 4 10 6 2 6 1 12 3 6 4 2 10 3 32 2 19 7 25 4 5 4 0 2-2 6 1 2 2 2 8-1 22-5 10 0 3 4-1 6 1 2 3 1zM338 14l-1 0 2 0z"/><path fill="#a85c83" d="M276 304l11-4 21-16 12-6 4 0 3 2 3 9 8-1 11-8 17-21 10-9 4-1 6 3 2-1 20-13 2 0 6 3 2-1 6-7 6-9 12-34 2-4 8-4 1-2 0-10-6-30 1-3 5-1 0-4-18-32-1-5 4 1 2-2-5-8-11-14 2 0 1-2-19-16-34-22 6 0-2-1-16-8-25-9 2-2 6-18-31 0-3 12-1 0 0-1-36-5 0-6-17 0 0 6-17 1-8-1-1-6-24 0 2 10-43 13-10 5-38 22-10 12-15 14-4 6-5 16-6 7-8 12-8 3-2 5 0 6 5 11 3 20 2 5 6 11-2 6 0 6 14 22 1 12 1 4 6 8 18 6 8 6 3 6 0 12 3 4 6 4 8 2 32 1 24 7 24 6 3 2-1 8 2 3 6 0 24-5 8 1 3 3 0 6 1 2 4 1zM336 13l-2-1 2 0z"/></g><g filter="url(#b1)"><path fill="#8c528b" d="M278 300l10-4 22-15 12-6 7 1 2 2 3 6 2 1 4-1 9-8 17-21 12-10 4-3 8 2 2 0 16-11 4-1 6 2 4-4 11-24 7-24 2-3 6-3 2-4 0-8-6-30 1-2 4-2 0-2-17-32 0-4 4 0 0-2-9-14-14-14 1-1 2 1-1-2-18-14-27-16 6 0-1 0-17-9-28-9 0-2-3 0-1-1-30-6-32-3-12 0-34 3-49 13-10 6-15 10-18 8-8 6-8 12-10 6-6 8-3 6-5 14-9 10-7 13-8 3-1 4 1 3 4 3 4-2 0 2-3 12 1 8 1 6 3 6 8 8 2 4 0 4-3 6 1 6 14 20 2 6 0 6 2 4 5 4 17 8 7 6 3 6 0 10 2 4 4 2 14 4 22-1 26 5 11 4 21 6 3 2 2 6 3 1 24-2 8 1 2 2 2 8zM412 61l0-1 1 0z"/><path fill="#744892" d="M285 294l5-4 14-11 18-7 10 0 2 2 4 6 4-1 8-7 14-20 12-10 6-6 4-1 4 2 4 1 16-11 8-2 4-2 10-21 7-28 6-6 2-4-2-12-5-26-6-14-1-8-5-14 2-2 2 0 1-2-11-13-21-19-5-6-31-20 3-2-14-6-32-10 0-2-4-1-22-3-28-3-30 0-28 5-42 12-10 4-16 12-15 6-8 6-8 14-11 6-4 6-3 4-6 20-9 7-3 5-2 8 2 10 1 6-6 8-1 8 4 8 10 12 3 4 1 6-3 6 0 6 6 8 10 9 4 0 10-4 4 0-2 7-6 6-4 2 0 2 5 6 19 10 5 10 1 12 4 4 10 3 26-1 18 3 14-2 4 2 1 5 3 1 20 6 4 1 6 6 4 1 26-1 4 2 2 6z"/><path fill="#5e3f99" d="M270 282l16-2 16-12 4 1 0 3 4 0 8-1 8-3 6 0 4 2 4 4 4 0 4-2 3-6 5-8 1-6 3-5 2-1 4 1 4-2 6-7 4-6 4-2 4-1 6 3 4-1 24-18 8-17 7-28 2-4 3-4 1-4-1-16-4-14-11-22 2-6-4-12 1-1 4 0 0-1-12-14-25-22-4-4-29-18-1-2 1 0-47-18-19-2-28-3-27 1-27 4-40 10-11 6-20 14-16 6-7 8-5 10-13 9-4 4-8 24-4 4-6 5-2 6-1 4 3 8 0 8-1 4-5 8 0 8 4 5 10 11 4 6 1 4-3 8 0 4 3 6 3 4 6 4 2 1 14-6 4 0 2 1 0 6-9 12 0 4 2 2 5 5 6 2 6-3 6-6 5 0 0 4-5 6-1 6 5 17 3 5 3 1 6 1 22-3 10 4 8 2 6-1 8-3 4-1 4 2 2 6 6 4 18 4 13 6z"/><path fill="#47379a" d="M278 278l10-3 10-10 4-2 4 0 2 4 6 2 6-1 6-3 4-1 16 2 4-6 4-11 6-9 2-1 4 4 2-1 6-4 6-9 4-4 6-1 6 3 4-2 22-22 5-7 3-6 2-10 2-16 6-10 1-6-1-10-4-12-13-24 3-8-4-12 4 0 1-2-12-12-26-22-6-6-31-20-19-6-25-6-3-2-43-5-30 2-22 3-42 12-8 4-18 14-14 5-6 5-3 4-3 8-19 16-10 30-6 2-3 4-1 6 4 22-6 6-1 6 2 5 16 15 2 4 1 6-3 8 1 6 5 6 6 3 14-6 4 0 4 1-1 6-9 12-1 2 2 6 5 3 6 1 12-9 4-1 2 1 0 5-4 8-1 6 7 16 2 3 14 1 8-5 4-1 4 2 5 6 9 2 6-1 10-4 6 0 3 1 4 8 5 4 16 2 20 7z"/><path fill="#313295" d="M279 276l9-4 10-10 4-3 4 1 4 4 6 2 6-1 4-4 4-2 6 0 2 3 6-2 6-5 10-23 2-1 1 1 3 6 2 0 6-3 5-9 5-5 6-1 6 2 4-2 11-10 7-12 8-6 4-12 2-20 5-10 1-6-4-21-14-23 4-8-5-12 1-1 2-1 1-2-12-12-25-18-4-6-16-8-10-7-16-9-16-5-16-3-13 0 6-2-39-5-28 2-18 3-48 13-28 18-12 6-6 4-2 3 0 4-2 4-19 16-7 20-2 6 2 2-2 4-2 3-6 2-1 1 1 16 1 4 2 2 0 4-1 4-6 6-1 2 5 8 10 9 4 7 2 6-3 12 0 2 5 4 4 3 14-6 6 0 4 1 1 2-1 4-10 12 0 6 4 5 6 1 10-8 6-2 3 0 1 2 0 4-4 10 0 6 6 12 5 4 5 1 4-1 8-5 6-1 6 2 2 8 8 2 8-1 8-5 6 0 4 1 2 5 8 7 22 3 12 1 6 4 6 1z"/><path fill="#1c3179" d="M282 272l8-3 8-11 4-2 3 0 3 5 4 2 6 1 4-1 2-1 4-8 2-6 2-1 1 1 1 4 4 4 0 3 6-1 4-4 4-8 3-6 3-10 2-3 2-1 2 1 2 3 0 3 4 1 4-3 6-8 4-5 4-1 8 1 4-1 10-9 6-14 8-5 3-5 2-6-1-8 2-11 1-5 3-2 1-2 1-8-4-20-14-25 4-5-5-10 0-6 3-1-1-1-13-13-21-15-5-6-18-10-10-7-21-9-11-4-14-2-12 1-3-1 0-2 8 0-1-1-24-1-4-2-8 0-28 1-14 2-24 6-30 9-26 18-10 4-6 4-3 4 1 2 0 2-18 18-1 2 2 0 0 2-6 6-5 6-2 10 2 2 0 4-4 5-6 7-2 4 1 10 1 2 4 2 0 4-2 4-5 8 1 6 2 2 12 8 4 10 1 6-4 8 0 2 3 5 6 2 2 0 10-5 8 0 4 1 1 3-1 2-11 14 0 6 5 4 4 1 2-1 10-9 6-1 2 1 2 3 0 2-5 12-1 6 4 6 8 7 8 1 4-2 1-4 3-1 8 0 6 3 2 8 6 3 8-2 8-5 8 0 4 2 5 6 7 5 4 0 16 3 14-2 3 2 5 5z"/><path fill="#0c2f60" d="M281 272l9-4 6-10 4-3 6 0 2 5 6 2 4 0 4-1 4-7 2-9 2-1 5 2 5 11 4-1 4-5 6-9 2-13 3-3 3-2 2 1 2 2 2 5 2 0 4-2 6-9 6-5 2-1 6 1 6-1 8-7 7-14 3-4 4 0 2-3 4-9-1-10 2-10 1-4 3-4 2-8-5-22-14-24 3-2 2-4-5-8 0-6 2-2 0-2-12-11-23-17-4-4-19-10-8-7-19-7-2-2-11-4-14-1-12 0-4-1 0-2 7 0-1-1-22-1-6-2-34 1-14 2-24 6-29 9-7 6-20 12-12 5-4 3-2 4 1 2 0 2-15 14-3 4 2 2-1 2-6 6-6 8-1 8 2 2 0 4-12 16 1 10 4 2 2 4-2 6-5 8 0 2 3 6 4 4 6 2 2 4 4 12 0 4-4 6 1 4 3 3 4 2 14-6 8 0 4 1 0 2 0 2-12 14-1 4 1 4 4 3 4 1 14-10 4-1 3 1 1 6-5 14 0 2 3 6 10 7 4 1 4 0 2-2 2-4 2-1 14 3 1 2 1 6 4 4 10-1 8-6 8 0 4 1 6 7 6 4 4 0 16 3 16-2 2 1 4 6z"/><path fill="#082a4c" d="M284 270l6-4 6-10 4-2 6 0 2 5 4 2 6 1 4-2 3-4 2-12 3-3 2 1 4 4 4 9 4 0 4-5 6-9 2-13 2-4 2-1 4 0 2 2 2 5 4 0 4-4 4-7 6-5 2-1 4 2 4 0 8-4 4-5 2-9 3-5 4-2 3-1 4-3 3-8-1-10 2-12 1-4 4-2 1-10-5-20-14-24 0-2 3-1 1-3 0-2-5-6 2-10-9-10-25-18-4-4-19-10-5-6-10-5-13-3-1-2-10-4-6-1-22 0-2-1-1-2 7 0-22-2-6-2-34 1-12 2-26 6-29 9-2 2 0 2-17 8-6 6-12 4-6 4-2 4 3 2-1 2-14 12-3 6 1 2-1 2-7 7-5 7-2 6 1 2 2 0 0 4-4 8-8 10 1 10 5 2 1 4-1 4-7 12 4 6 5 3 4 1 2 4 5 14 0 4-4 4 1 5 2 3 4 2 16-5 8 0 3 1-1 4-10 13-2 3 1 4 3 4 4 1 14-9 4-1 4 1 1 2 0 2-6 16 0 2 5 6 8 6 4 1 4-1 1-8 3-1 16 7 2 2 0 6 4 3 8 0 10-6 8-1 4 1 7 7 5 4 6-1 14 4 16-2 3 1 5 6zM172 22l-1 0 2 0zM170 23l-1-1 1 0 1 0z"/><path fill="#032333" d="M284 268l6-3 4-9 6-3 6 0 2 5 4 2 6 1 4-1 3-4 2-14 3-3 2 1 5 4 3 10 4 0 4-5 6-9 1-12 3-6 4-1 2 1 2 2 2 4 2 1 4-3 5-8 7-6 2-1 2 2 4 1 6-2 7-6 5-14 4-3 4-1 3-4 3-8 0-8 1-12 2-4 3-4 1-8-5-22-14-24 4-2 0-2-6-8 3-8 0-2-1-2-9-10-25-17-3-3-8-6-11-4-4-6-8-4-16-4-2-2 1 0-9-4-6-1-22 1-3-2 0-2 6 0-23-2-4-2-16 0-26 2-18 6-14 2-18 6 0 2-3 2-9 3-14 6-7 5 1 2-3 2-1 1 0-2-13 5-4 4 0 2 3 0-2 4-13 12-3 6 1 0 0 2-13 15-2 7 0 2 3 0 0 4-4 8-9 10 2 9 1 1 3 2 2 4-2 5-5 9-1 3 4 5 4 2 4 1 3 5 5 14-4 8 1 6 3 2 4 1 4 0 4-3 6-2 8 0 4 2 1 2-1 2-12 13-1 5 0 2 3 4 4 1 4-1 6-6 4-3 6-1 2 1 2 3 0 2-6 17 3 5 9 7 4 1 4-2 0-7 2-2 2 0 7 5 9 3 2 1 2 7 4 3 7 0 9-7 10 0 3 1 8 8 5 3 4-1 16 4 14-2 4 2 4 4zM168 22l3-2-1 0-4 2z"/></g></g><ellipse cx="837.8" cy="253.3" rx="19" ry="8.9" transform="rotate(-32 837.8 253.3)" fill="#e7fa5a"/></g><g clip-path="url(#c3)"><circle cx="270" cy="692" r="130" fill="#f3efee"/><g transform="translate(141 564) scale(2)" fill="none" stroke-width="1.02" filter="url(#b2)"><path stroke="#212d6e" d="M0 0m48 3h1m33 0h1m-41 1h2m-2 2h1m54 3h1m-65 1h1m60 0h1m0 1h2m-68 1h1m66 0h2m-70 1h1m1 0h1m71 0h1m-76 1h3m-1 1h1m-1 1h1m-2 1h1m-7 3h2m4 0h1m-8 1h2m81 1h2m-2 1h1m1 0h1m2 2h1m-90 1h1m-2 1h2m89 0h1m-94 1h1m1 0h2m-1 1h1m85 5h2m-90 1h1m87 0h2m-91 1h2m88 0h1m-86 1h1m-2 1h3m-2 1h2m-5 1h2m-2 1h2m-5 1h1m2 0h1m-4 1h2m-1 1h1m90 0h1m-1 1h1m-9 4h1m9 3h1m-1 1h1m-1 1h1m-1 1h1m-22 2h2m18 0h1m-22 1h4m17 0h1m-23 1h1m3 0h1m16 0h2m-60 1h3m55 0h2m-61 1h4m21 0h2m9 0h1m22 0h1m-60 1h3m22 0h4m6 0h2m22 0h1m-51 1h3m13 0h4m6 0h1m8 0h1m-37 1h4m13 0h4m5 0h1m8 0h2m-38 1h4m15 0h2m14 0h2m-36 1h2m20 0h3m9 0h1m-35 1h2m19 0h4m-26 1h3m8 0h3m8 0h3m22 0h1m-53 1h2m12 0h5m7 0h2m-28 1h2m12 0h4m7 0h2m-3 1h3m-2 1h3m14 0h2m-27 1h2m5 0h4m13 0h3m-37 1h1m15 0h5m12 0h3m-36 1h2m13 0h5m13 0h2m-34 1h1m13 0h4m-20 1h2m15 0h2m-3 1h1"/><path stroke="#1557ad" d="M0 0m59 0h1m-9 1h1m29 2h1m-41 1h1m41 0h1m1 0h1m-47 1h2m0 2h1m48 0h1m-58 1h1m59 0h1m1 0h1m-64 1h1m4 1h1m-8 1h1m5 0h1m57 0h1m-66 2h1m72 1h2m-72 1h1m-4 5h1m-2 1h1m74 0h2m-2 1h1m-81 2h1m84 0h1m-86 1h1m86 1h1m-94 1h2m-1 1h1m92 0h1m-97 1h1m3 0h1m95 0h1m-102 1h1m94 1h1m-84 1h1m82 0h2m-85 1h2m77 0h2m3 0h1m-6 1h1m4 0h1m-97 1h1m99 0h1m-7 1h1m5 0h2m-99 1h1m89 0h2m6 0h1m-8 1h1m6 0h1m-105 1h1m9 0h1m-7 2h2m1 0h1m-4 1h1m1 0h2m1 0h1m-3 1h1m88 2h1m0 1h1m-9 1h2m-2 1h2m1 1h1m6 2h1m0 1h1m2 1h1m-1 1h1m-25 2h1m18 0h1m-22 1h1m2 0h1m-51 1h2m44 0h1m4 0h1m15 0h1m-58 1h1m36 0h1m1 0h1m1 0h1m-40 1h1m20 0h2m10 0h1m4 0h2m-40 1h1m19 0h1m19 1h2m-34 1h1m16 0h1m4 0h1m8 0h1m-9 1h1m-43 1h3m29 0h1m2 0h1m4 0h1m10 0h1m-52 1h1m13 0h1m21 0h1m3 0h1m1 0h1m7 0h1m2 0h2m-41 1h1m33 0h1m3 0h2m8 0h1m-35 1h1m6 0h1m10 0h1m5 0h1m9 0h1m-52 1h1m25 0h1m7 0h1m15 0h1m-54 1h1m27 0h1m-28 1h2m25 0h1m15 0h1m-37 1h2m9 0h2m4 0h1m16 0h1m2 0h1m-38 1h1m8 0h1m-24 1h3m10 0h1m1 0h1m34 0h1m-50 1h2m10 0h1m26 0h2m7 0h1m-37 1h2m25 0h1m6 0h1m-36 1h1m2 0h1m13 0h1m-19 1h4m15 0h1m-3 1h2m-11 2h4m-5 1h4m-4 1h1"/><path stroke="#2d7fbb" d="M0 0m58 0h1m7 0h4m-21 1h2m6 0h3m16 0h1m-30 2h1m32 0h1m-40 2h1m-1 1h1m44 0h1m1 1h1m2 0h1m2 1h1m0 1h2m-66 1h1m61 0h1m-68 1h1m-2 1h1m5 0h1m-6 2h1m-2 1h1m1 0h1m3 0h1m-4 1h1m69 0h1m0 1h1m-79 1h1m78 0h1m8 0h1m-9 1h1m-78 1h1m77 0h1m-82 2h1m83 1h1m-78 1h1m-1 1h1m-11 1h1m90 0h1m1 1h1m2 0h1m-100 1h1m98 0h1m-101 1h1m2 0h1m90 1h2m-96 1h1m8 0h1m1 1h1m1 0h1m-17 3h1m5 0h1m-4 1h1m91 0h1m-86 1h1m-11 1h1m0 1h1m11 0h1m83 0h1m2 0h1m-101 1h1m11 0h1m87 0h2m-1 1h2m-1 1h1m-6 1h1m4 0h1m-96 1h1m94 0h2m-92 1h2m89 0h1m-92 1h2m75 0h2m5 0h1m-78 1h2m-3 1h4m70 0h1m-74 1h3m68 0h1m-87 1h2m12 0h1m73 0h1m-89 1h3m10 0h3m80 0h1m-96 1h1m12 0h2m83 0h1m-17 1h1m10 0h1m1 0h1m-3 1h1m-83 1h3m75 0h1m3 0h1m4 0h1m-86 1h3m57 0h1m1 0h1m12 0h3m1 0h1m1 0h1m-88 1h1m16 0h3m65 0h1m-70 1h2m-2 1h3m10 0h1m33 0h1m2 0h1m-29 1h1m14 0h1m-1 1h1m9 0h1m7 0h1m-47 1h1m11 0h1m12 0h1m4 0h1m28 0h1m4 0h1m-71 1h1m6 0h1m44 0h1m12 0h2m-68 1h4m11 0h1m50 0h1m-67 1h1m39 0h1m1 0h1m22 0h1m-67 1h2m1 0h1m39 0h1m1 0h1m4 0h1m6 0h1m1 0h2m4 0h2m-48 1h1m22 0h2m5 0h1m6 0h1m2 0h1m5 0h1m-68 1h2m19 0h1m21 0h1m7 0h1m3 0h1m-57 1h3m10 0h1m37 0h1m4 0h1m8 0h1m1 0h1m-52 1h1m10 0h1m27 0h1m9 0h2m-54 1h1m2 0h1m4 0h2m14 0h1m18 0h1m1 0h1m6 0h2m-48 1h2m43 0h2m-47 1h2m1 0h1m-18 1h2m3 0h1m7 0h2m28 0h1m-43 1h2m10 0h2m3 0h1m37 0h2m-44 1h1m3 0h1m11 0h1m10 0h1m6 0h1m6 0h1m-38 1h1m11 0h1m3 0h1m12 0h2m-37 1h1m17 0h1m2 0h1m11 0h3m-19 1h1m14 0h2m-22 1h6m-10 1h1m4 0h1m-7 1h1m-9 1h1m6 0h2m1 0h1m9 0h3m-4 1h3"/><path stroke="#639fbd" d="M0 0m64 0h2m4 0h1m-15 1h1m3 0h1m17 0h2m-2 1h1m-30 1h1m29 0h1m-32 1h2m37 0h1m-46 1h1m-3 1h1m-8 1h2m5 0h1m-7 2h1m1 0h1m-2 1h1m-9 1h1m4 0h1m4 0h1m62 0h1m1 1h1m-2 1h1m-2 1h1m0 1h1m1 0h1m-2 1h1m-81 1h1m80 0h1m4 0h1m-89 2h1m3 0h1m6 0h1m-12 1h1m88 0h1m-5 1h1m4 0h1m-92 1h2m85 0h1m3 0h1m-95 1h1m11 0h1m78 0h1m5 0h1m-98 1h1m12 0h1m75 0h1m1 0h1m6 0h1m-86 1h1m-15 1h1m3 0h1m3 0h1m4 0h1m-8 1h1m91 0h1m2 0h1m-101 1h1m4 0h1m93 0h1m-104 1h1m95 0h1m2 0h1m-97 1h1m100 0h1m-93 1h3m78 1h1m-78 1h1m-18 1h1m2 0h1m12 0h2m-14 1h1m3 0h1m85 0h1m-95 1h1m17 0h1m-21 1h1m1 0h1m11 0h1m-12 1h1m11 0h3m84 0h1m-100 2h1m2 0h1m8 0h1m88 0h1m-103 1h2m4 0h1m93 0h1m-84 1h4m80 0h1m-98 1h1m13 0h3m82 0h1m-99 1h1m90 0h1m-8 1h1m8 0h1m-85 1h1m-12 2h1m7 0h1m76 0h1m2 0h1m1 0h1m-91 1h2m13 0h1m69 0h1m2 0h1m1 0h1m-91 1h1m2 0h1m12 0h1m64 0h2m2 0h2m-83 1h1m2 0h1m73 0h1m-79 1h2m90 0h1m-93 1h1m97 0h1m-80 1h5m57 0h1m16 0h1m-86 1h1m17 0h1m57 0h3m-82 1h2m3 0h1m53 0h1m13 0h1m6 0h1m6 0h1m-100 1h2m5 0h1m1 0h1m7 0h2m9 0h1m15 0h2m24 0h3m12 0h1m5 0h2m6 0h1m-99 1h2m5 0h2m18 0h1m15 0h2m11 0h2m25 0h1m-83 1h3m22 0h1m7 0h1m62 0h1m-95 1h2m28 0h1m10 0h1m1 0h1m24 0h1m2 0h1m2 0h2m18 0h1m-81 1h2m13 0h1m11 0h2m31 0h1m15 0h1m2 0h2m-82 1h3m17 0h1m6 0h1m1 0h1m51 0h1m-73 1h1m1 0h1m6 0h1m34 0h1m26 0h1m-65 1h2m56 0h1m4 0h1m-84 1h2m10 0h1m4 0h1m38 0h1m11 0h2m7 0h1m5 0h1m-84 1h3m8 0h1m4 0h1m14 0h1m38 0h1m5 0h1m5 0h1m-81 1h1m7 0h5m41 0h1m12 0h2m10 0h2m-74 1h1m2 0h1m14 0h1m10 0h1m31 0h1m6 0h1m3 0h1m-74 1h1m3 0h1m13 0h1m53 0h1m-34 1h1m28 0h1m-14 1h2m8 0h1m-50 1h2m1 0h1m12 0h1m2 0h1m2 0h1m31 0h1m-62 1h2m7 0h2m14 0h1m3 0h1m20 0h1m4 0h2m-62 1h2m12 0h1m12 0h1m31 0h2m-59 1h1m4 0h1m42 0h1m-14 1h1m7 0h1m12 0h1m-61 1h4m13 0h1m32 0h1m-50 1h2m18 0h1m11 0h1m-19 1h3m14 0h1m3 0h1m13 0h1m-24 1h1m6 0h1m13 0h2m-20 1h1m-9 1h1m5 0h1m-20 1h6m1 0h6m4 0h1m11 0h1m6 0h3m-36 1h4m17 0h1m3 0h1m6 0h3m-14 1h3m8 0h1"/><path stroke="#96b9c5" d="M0 0m52 0h1m-5 1h1m28 0h1m2 0h2m-10 1h3m-24 1h1m-8 1h1m5 0h1m-17 2h1m-3 2h1m1 0h1m60 2h1m-62 1h1m58 0h1m-58 1h1m-10 1h1m75 0h1m-74 1h1m1 0h1m71 0h1m-82 1h1m73 0h1m-69 2h1m71 1h1m2 0h1m-76 1h1m80 0h1m-94 1h1m13 0h1m71 0h2m-85 1h1m2 0h1m-7 1h1m10 0h1m82 0h1m-88 1h2m85 0h1m-98 1h1m9 0h1m-10 1h1m9 0h1m-13 1h1m8 0h1m2 0h1m3 0h1m82 0h1m-98 1h1m88 0h1m7 0h1m-6 1h1m5 0h1m-96 1h1m2 0h1m90 0h1m4 0h1m-106 1h1m7 0h1m2 0h1m-2 1h1m93 0h1m-93 1h1m3 0h1m88 0h1m-107 1h1m13 0h1m83 0h1m9 0h1m-105 1h1m98 0h1m3 0h1m-91 1h2m80 0h1m4 0h1m2 0h1m-110 1h2m19 0h1m85 0h1m3 0h1m-92 1h1m84 0h1m1 0h1m-108 1h1m93 0h1m-84 1h1m91 0h1m2 0h1m-100 1h1m4 0h2m-11 2h1m1 0h1m17 0h1m66 0h1m-87 1h1m14 0h1m3 0h1m66 0h2m19 0h1m-108 1h1m85 0h2m8 0h1m5 0h1m-103 1h1m8 0h1m76 0h1m15 0h1m-103 1h1m85 0h1m14 0h2m-103 1h1m15 0h1m2 0h1m3 0h1m62 0h1m2 0h2m4 0h1m-96 1h1m7 0h1m11 0h1m-25 1h1m6 0h1m4 0h2m10 0h1m60 0h2m-87 1h1m11 0h1m6 0h1m81 0h1m-101 1h1m8 0h2m75 0h1m2 0h1m-89 1h1m7 0h4m5 0h1m69 0h1m16 0h1m-105 1h1m6 0h1m3 0h2m15 0h2m72 0h1m-87 1h2m6 0h1m5 0h1m5 0h3m55 0h1m1 0h1m5 0h1m-88 1h1m12 0h2m6 0h1m1 0h2m39 0h1m6 0h2m5 0h1m10 0h1m-101 1h1m5 0h3m17 0h1m43 0h1m11 0h1m21 0h1m-89 1h1m2 0h1m4 0h1m18 0h1m2 0h2m9 0h3m4 0h1m4 0h1m7 0h1m6 0h1m4 0h2m4 0h1m8 0h1m-105 1h1m2 0h1m6 0h1m12 0h1m12 0h1m6 0h1m2 0h1m9 0h1m6 0h1m7 0h1m9 0h1m3 0h1m5 0h2m5 0h2m4 0h1m-104 1h1m36 0h1m7 0h2m13 0h1m16 0h1m1 0h1m3 0h1m7 0h1m6 0h1m-97 1h1m2 0h1m51 0h1m21 0h1m3 0h1m-80 1h3m9 0h1m58 0h2m14 0h1m-67 1h2m25 0h1m-38 1h3m10 0h1m3 0h1m62 0h1m-80 1h2m6 0h1m4 0h1m15 0h1m16 0h1m3 0h1m29 0h1m-94 1h2m6 0h1m2 0h1m17 0h1m36 0h1m12 0h3m9 0h1m-91 1h3m4 0h1m3 0h1m6 0h1m55 0h1m-74 1h4m4 0h1m1 0h1m5 0h1m31 0h2m6 0h1m13 0h1m8 0h1m2 0h1m-81 1h4m9 0h1m45 0h1m12 0h1m1 0h1m-43 1h3m22 0h1m11 0h1m16 0h1m-61 1h1m4 0h1m24 0h1m6 0h2m3 0h1m1 0h1m13 0h2m2 0h1m-63 1h1m7 0h1m8 0h2m39 0h1m-57 1h1m2 0h1m5 0h1m18 0h1m-36 1h1m8 0h1m25 0h1m11 0h1m13 0h1m-79 1h5m7 0h1m8 0h1m11 0h1m7 0h1m17 0h1m17 0h2m-78 1h6m5 0h3m61 0h2m-75 1h12m13 0h1m5 0h1m27 0h1m2 0h1m9 0h2m-71 1h5m33 0h1m11 0h2m11 0h2m3 0h2m-65 1h1m2 0h1m11 0h1m22 0h1m9 0h1m13 0h2m-54 1h5m3 0h1m12 0h1m5 0h1m9 0h1m13 0h1m-15 1h1m2 0h1m-4 1h3m-38 1h5m4 0h1m15 0h3m6 0h3m-44 1h4m39 0h1m-43 1h6m4 0h2m29 0h1m-16 1h1m3 0h1m6 0h1m1 0h2m-19 1h1m14 0h3"/><path stroke="#bccdd3" d="M0 0m41 3h1m-6 3h1m48 0h1m1 1h1m4 0h1m1 2h1m1 1h1m-71 2h1m68 0h1m5 0h1m-78 1h1m74 0h1m-76 1h1m10 0h1m-3 1h1m68 0h1m2 0h1m-84 1h1m7 0h1m66 0h1m5 0h1m-4 1h1m-73 1h1m-12 1h1m10 0h1m79 0h1m-93 1h1m13 0h1m-15 1h1m92 0h1m-95 2h1m7 0h1m1 1h1m76 0h1m-89 1h1m9 0h1m5 0h1m80 0h1m-1 1h1m1 0h1m-101 1h1m0 1h1m87 0h1m9 0h1m-11 1h2m10 0h1m-93 1h1m80 0h1m14 1h1m-96 1h1m80 0h1m-96 2h1m8 0h1m10 0h1m-21 1h2m19 0h1m77 0h1m11 0h1m-111 2h1m7 0h1m5 0h2m77 0h1m1 1h1m10 0h1m4 0h1m-97 1h1m90 0h1m4 0h1m-104 1h1m80 1h2m-90 1h1m21 0h1m66 0h1m10 0h1m2 0h1m4 0h2m-109 1h1m20 0h1m78 0h1m5 0h2m-108 1h1m18 0h2m73 0h1m11 0h3m1 0h1m-98 1h1m80 0h1m6 0h1m6 0h1m-99 1h1m12 0h2m72 0h1m10 0h1m-113 1h1m13 0h2m11 0h1m1 0h1m66 0h1m2 0h1m7 0h1m4 0h1m-113 1h1m6 0h1m104 0h1m-113 1h1m4 0h1m79 0h1m2 0h1m23 0h2m-112 1h2m8 0h1m1 0h1m70 0h2m12 0h1m3 0h1m8 0h1m-112 1h1m1 0h1m10 0h1m83 0h1m7 0h1m-105 1h1m77 0h1m10 0h1m-88 1h1m8 0h1m16 0h1m2 0h1m76 0h1m-108 1h2m10 0h2m21 0h1m3 0h1m46 0h1m8 0h1m1 0h1m9 0h2m-109 1h2m12 0h1m15 0h1m49 0h1m9 0h1m11 0h1m4 0h3m-107 1h1m11 0h1m6 0h1m6 0h1m18 0h4m10 0h2m12 0h2m12 0h1m11 0h1m-100 1h1m10 0h1m4 0h1m13 0h1m12 0h1m39 0h1m5 0h1m9 0h1m-88 1h1m25 0h1m-38 1h1m4 0h1m3 0h2m34 0h1m10 0h2m21 0h1m1 0h1m22 0h1m-80 1h2m43 0h1m21 0h1m11 0h1m-101 1h1m48 0h1m30 0h2m17 0h1m-104 1h1m5 0h2m8 0h1m60 0h1m6 0h2m14 0h1m2 0h1m-104 1h2m17 0h1m5 0h1m16 0h1m10 0h1m4 0h1m25 0h1m15 0h1m2 0h1m-101 1h1m8 0h1m2 0h2m14 0h2m2 0h1m48 0h2m16 0h1m-100 1h1m7 0h1m4 0h1m7 0h1m6 0h2m1 0h1m10 0h1m17 0h1m1 0h1m20 0h1m5 0h1m9 0h1m-99 1h1m57 0h1m15 0h1m17 0h1m-92 1h1m4 0h1m2 0h1m64 0h1m22 0h1m-95 1h1m7 0h3m2 0h1m15 0h2m1 0h1m41 0h1m2 0h1m12 0h1m-87 1h1m31 0h1m17 0h1m17 0h1m16 0h2m-75 1h2m55 0h1m-42 1h1m5 0h1m12 0h1m16 0h1m19 0h2m-40 1h1m37 0h1m-86 1h2m12 0h1m3 0h1m3 0h1m58 0h1m-82 1h2m11 0h1m14 0h1m30 0h1m-59 1h2m10 0h1m9 0h1m5 0h1m6 0h1m21 0h1m13 0h1m2 0h1m-73 1h2m15 0h1m50 0h1m2 0h1m1 0h1m-71 1h2m9 0h1m18 0h1m38 0h1m-64 1h1m4 0h1m17 0h1m38 0h1m-43 1h1m10 0h1m20 0h1m10 0h1m-37 1h1m8 0h1m10 0h1m13 0h2m-16 1h1m3 0h1m8 0h2m-51 1h2m5 0h1m2 0h1m15 0h1m3 0h1m4 0h1m3 0h1m8 0h2m-58 1h3m29 0h1m4 0h1m4 0h1m12 0h2m-55 1h2m12 0h1m37 0h2m-27 1h1m15 0h1m-22 1h2m1 0h3m10 0h1m3 0h1m-20 1h1m14 0h3m-4 1h3m-4 1h2"/><path stroke="#d5dadc" d="M0 0m63 0h1m-16 2h1m9 0h2m11 0h1m-22 1h1m36 0h1m-48 1h1m5 0h1m41 0h1m-41 1h1m-2 1h1m38 1h1m2 0h1m2 1h1m-60 1h1m-1 3h1m2 2h1m59 1h1m-73 1h1m6 0h1m72 1h1m-87 1h1m79 1h1m3 0h1m-4 1h1m-69 1h1m81 0h1m-89 1h1m87 0h2m-96 1h2m93 0h1m-5 1h2m-92 1h1m82 0h1m4 0h1m1 0h1m-81 1h1m72 0h1m11 0h1m-94 1h2m77 0h1m-90 1h1m3 1h1m99 0h1m-96 1h1m93 0h1m-104 1h1m106 0h1m-111 1h1m-1 1h1m94 0h1m2 0h1m9 0h2m-89 1h1m80 0h1m7 0h1m-112 1h1m-1 1h1m19 0h1m76 0h1m12 0h2m-112 1h1m3 0h1m3 0h1m13 0h1m74 0h1m5 0h1m7 0h1m-13 1h1m-99 1h1m9 0h1m6 0h1m72 0h1m5 0h1m-7 1h1m16 0h1m-84 1h1m86 0h1m-94 1h1m6 0h1m81 0h2m4 0h1m-113 1h1m3 0h1m96 0h1m4 0h2m4 0h1m-116 1h1m14 0h2m87 0h1m4 0h2m-111 1h1m4 0h1m88 0h1m14 0h1m1 0h2m2 0h1m-116 1h2m17 0h1m10 0h1m78 0h1m-110 1h1m16 0h1m91 0h1m-108 1h1m83 0h2m12 0h1m10 0h2m1 0h1m1 0h1m-113 1h2m10 0h1m83 0h1m10 0h2m3 0h1m-112 1h1m5 0h2m82 0h1m1 0h1m13 0h2m1 0h1m1 0h1m-112 1h1m75 0h1m18 0h1m1 0h1m5 0h1m2 0h3m2 0h1m-112 1h1m10 0h1m82 0h1m11 0h1m1 0h1m2 0h1m-114 1h1m8 0h1m15 0h1m52 0h1m17 0h1m1 0h1m10 0h2m-95 1h1m2 0h1m4 0h1m7 0h1m2 0h1m5 0h1m59 0h1m8 0h1m-108 1h1m10 0h1m21 0h1m13 0h3m12 0h1m10 0h1m-76 1h3m10 0h1m17 0h1m32 0h1m4 0h1m22 0h1m11 0h1m2 0h1m1 0h1m-104 1h1m11 0h1m48 0h1m17 0h1m21 0h1m1 0h1m-107 1h1m7 0h1m34 0h1m4 0h1m14 0h1m6 0h2m-23 1h1m11 0h1m1 0h1m20 0h1m1 0h1m-86 1h3m36 0h1m8 0h1m36 0h1m13 0h1m3 0h1m-104 1h1m15 0h1m3 0h1m23 0h1m2 0h1m32 0h1m18 0h1m1 0h1m2 0h1m-106 1h1m1 0h1m6 0h1m11 0h1m4 0h1m2 0h1m23 0h1m1 0h1m-56 1h1m2 0h1m12 0h1m38 0h1m36 0h1m6 0h1m3 0h1m-103 1h3m1 0h1m6 0h1m1 0h2m4 0h1m33 0h1m22 0h1m2 0h1m3 0h1m2 0h1m12 0h1m3 0h1m-102 1h1m3 0h1m10 0h1m-7 1h1m39 0h1m49 0h2m-99 1h1m6 0h1m5 0h1m3 0h1m6 0h1m20 0h1m-44 1h1m5 0h1m1 0h1m3 0h1m7 0h1m11 0h1m54 0h1m1 0h1m5 0h1m-92 1h1m1 0h1m7 0h1m5 0h1m73 0h1m-1 1h1m-85 1h1m36 0h1m10 0h1m26 0h1m-40 1h1m5 0h1m17 0h1m15 0h1m-85 1h2m2 0h1m10 0h1m1 0h1m69 0h1m-87 1h1m7 0h1m33 0h1m34 0h1m7 0h1m-85 1h1m8 0h1m43 0h1m7 0h1m18 0h1m3 0h2m-84 1h1m14 0h3m1 0h1m24 0h1m28 0h1m3 0h1m4 0h2m-13 1h2m3 0h1m5 0h1m-75 1h2m15 0h1m49 0h1m-56 1h1m36 0h1m13 0h1m2 0h1m-19 1h1m13 0h1m-29 1h1m9 0h5m5 0h2m5 0h1m2 0h1m-66 1h2m4 0h8m31 0h1m2 0h1m5 0h1m6 0h1m2 0h1m-62 1h3m47 0h1m6 0h1m2 0h1m-58 1h2m15 0h1m2 0h3m13 0h1m4 0h1m4 0h1m9 0h1m-53 1h4m45 0h3m-33 1h1m6 0h5m17 0h2m-38 1h4m3 0h2m1 0h2m4 0h2m5 0h1m3 0h1m7 0h2m-39 1h4m10 0h3m7 0h1m3 0h1m-33 1h2m15 0h3m7 0h1m2 0h1m-5 1h4m-5 1h3"/><path stroke="#e4e4e4" d="M0 0m71 0h1m-25 1h1m27 0h1m-29 1h1m12 0h1m21 0h1m-41 1h1m43 0h1m-36 1h1m15 0h3m-21 1h1m16 0h2m-3 1h1m-12 2h2m16 0h2m-20 1h3m14 0h3m-19 1h2m13 0h3m-3 1h1m-35 2h1m61 0h1m-28 1h2m28 0h1m-62 1h2m28 0h2m-8 1h1m4 0h1m-6 1h1m16 0h6m11 0h1m-80 1h1m44 0h1m40 0h1m-88 1h1m4 0h1m1 0h1m6 0h1m31 0h1m32 0h1m-36 1h1m1 0h1m2 0h1m30 0h1m-80 1h1m33 0h1m14 1h1m17 0h5m4 0h2m-54 1h7m15 0h1m22 0h4m16 0h1m-69 1h6m12 0h2m7 0h1m23 0h1m14 0h1m-85 1h1m44 0h1m37 0h1m-89 1h1m3 0h1m2 0h1m43 0h1m5 0h1m7 0h1m-58 1h1m28 0h2m11 0h1m1 0h1m14 0h2m-64 1h1m28 0h3m3 0h1m12 0h1m15 0h1m14 0h1m2 0h1m-83 1h2m10 0h10m5 0h3m4 0h1m11 0h1m3 0h1m-49 1h1m9 0h3m36 0h1m38 0h1m-86 1h1m45 0h2m25 0h1m9 0h1m6 0h1m-44 1h2m24 0h1m-26 1h2m8 0h1m34 0h1m-113 1h1m10 0h1m11 0h1m44 0h1m-46 1h1m44 0h2m11 0h4m18 0h1m4 0h1m4 0h1m-107 1h1m15 0h1m14 0h1m11 0h1m31 0h4m16 0h2m-68 1h2m12 0h1m33 0h3m-87 1h1m1 0h1m16 0h1m15 0h2m6 0h1m5 0h1m10 0h1m29 0h1m5 0h1m17 0h1m-73 1h1m6 0h1m25 0h1m14 0h1m4 0h1m-79 1h1m23 0h2m33 0h1m13 0h1m1 0h1m19 0h2m-108 1h1m9 0h1m7 0h1m1 0h1m13 0h1m49 0h1m17 0h1m2 0h1m3 0h1m-114 1h1m36 0h1m70 0h1m-112 1h1m19 0h1m16 0h3m-37 1h1m32 0h3m72 2h2m2 0h1m-122 1h2m9 0h1m105 0h2m1 0h1m-121 1h1m10 0h1m10 0h1m10 0h1m81 0h1m-116 1h1m8 0h1m23 0h1m-22 1h1m9 0h1m7 0h1m74 0h1m15 0h1m-100 1h1m3 0h1m61 0h1m31 0h1m-113 1h1m21 0h1m55 0h1m19 0h1m5 0h1m5 0h1m-96 1h1m4 0h1m6 0h2m11 0h2m56 0h1m15 0h1m-117 1h1m2 0h1m11 0h1m2 0h1m18 0h1m78 0h1m-116 1h1m12 0h3m14 0h1m6 0h1m17 0h1m10 0h1m1 0h1m23 0h1m-93 1h1m16 0h1m17 0h1m19 0h1m34 0h2m22 0h1m-115 1h2m2 0h2m7 0h1m6 0h1m-20 1h2m39 0h1m32 0h1m9 0h1m1 0h1m1 0h2m19 0h1m-109 1h2m26 0h1m79 0h1m9 0h1m-119 1h2m2 0h1m7 0h1m10 0h1m25 0h1m38 0h1m13 0h1m15 0h1m-118 1h1m2 0h1m1 0h1m24 0h1m27 0h1m45 0h1m12 0h1m-57 1h1m41 0h1m1 0h1m-94 1h2m26 0h1m62 0h1m-101 1h1m10 0h1m43 0h1m3 0h1m11 0h1m29 0h1m-101 1h2m16 0h1m16 0h1m4 0h1m11 0h2m17 0h1m25 0h1m1 0h1m1 0h1m1 0h1m-104 1h1m2 0h1m4 0h1m8 0h1m4 0h1m7 0h1m19 0h1m35 0h1m-87 1h1m11 0h1m37 0h1m2 0h1m2 0h1m39 0h3m3 0h1m-98 1h1m7 0h1m5 0h1m25 0h1m26 0h1m23 0h1m3 0h1m-98 1h2m8 0h1m57 0h1m23 0h1m5 0h1m-99 1h3m16 0h1m56 0h1m15 0h1m1 0h1m-95 1h3m34 0h2m51 0h1m5 0h1m-96 1h3m10 0h1m17 0h1m54 0h1m-86 1h3m5 0h1m12 0h2m9 0h1m56 0h1m-87 1h1m49 0h1m36 0h1m11 0h1m-99 1h1m12 0h1m64 0h1m5 0h1m2 0h1m10 0h1m-122 1h1m24 0h1m81 0h1m2 0h1m10 0h1m-122 1h1m28 0h1m64 0h1m12 0h1m1 0h2m-78 1h1m8 0h1m2 0h3m21 0h1m24 0h1m2 0h1m9 0h1m-108 1h1m-1 1h1m17 0h2m68 0h1m10 0h1m-100 1h2m16 0h4m38 0h1m29 0h1m-90 1h1m16 0h4m8 0h3m2 0h4m16 0h2m22 0h2m-80 1h1m17 0h3m10 0h4m-35 1h1m34 0h3m18 0h2m33 0h1m-52 1h2m4 0h2m18 0h1m6 0h1m4 0h1m19 0h2m-40 1h1m16 0h1m11 0h1m2 0h1m3 0h4m-48 1h2m4 0h3m5 0h4m2 0h1m15 0h1m2 0h1m4 0h4m-54 1h6m4 0h2m5 0h3m3 0h2m16 0h3m5 0h5m16 0h1m4 0h1m-78 1h4m2 0h2m11 0h2m3 0h1m5 0h1m4 0h1m15 0h5m15 0h2m-70 1h3m14 0h2m7 0h1m4 0h1m16 0h6m8 0h1m5 0h2m3 0h1m-99 1h3m33 0h2m12 0h1m3 0h1m18 0h6m8 0h1m4 0h2m4 0h1m-99 1h3m14 0h4m30 0h5m17 0h7m6 0h2m3 0h3m3 0h1m-116 1h1m17 0h4m12 0h6m29 0h4m20 0h5m6 0h1m4 0h2m4 0h1m-113 1h2m14 0h3m11 0h7m13 0h4m13 0h2m23 0h2m12 0h2m-108 1h3m13 0h3m11 0h6m13 0h5m38 0h2m12 0h1m4 0h1m-111 1h3m3 0h3m20 0h6m12 0h6m-53 1h3m3 0h4m19 0h5m12 0h7m21 0h2m-75 1h2m4 0h3m20 0h3m13 0h7m21 0h2m-30 1h6m-4 1h2m26 1h2m-23 1h5m16 0h2m-24 1h6m16 0h1m10 0h1m-62 1h1m28 0h6m25 0h1m17 0h1m-82 1h7m25 0h7m35 0h1m5 0h1m-99 1h1m6 0h3m8 0h7m26 0h7m33 0h2m3 0h2m-98 1h2m5 0h4m7 0h7m26 0h7m32 0h2m4 0h1m-96 1h2m5 0h4m7 0h5m28 0h5m33 0h1m-89 1h1m5 0h5m8 0h2m29 0h4m10 0h1m22 0h1m-81 1h4m51 0h3m-57 1h3m51 0h2m11 1h3m-4 1h3m6 0h1m-11 1h3m6 0h2m-12 1h3m5 0h3m-57 1h3m42 0h3m5 0h4m3 0h1m-62 1h5m41 0h1m7 0h3m2 0h2m-68 1h11m19 0h4m26 0h3m-67 1h1m4 0h6m22 0h7m24 0h1m-63 1h1m4 0h2m24 0h7m23 0h1m-16 2h4m-5 1h5m6 0h1m-51 1h2m5 1h6m-2 1h1m13 1h5m-5 1h4"/><path stroke="#ece1de" d="M0 0m60 0h1m15 0h1m-5 1h1m-17 1h1m4 0h1m21 0h2m-28 1h1m2 0h7m3 0h1m13 0h1m-46 1h1m14 0h2m16 0h5m7 0h1m4 0h1m-38 1h2m17 0h4m4 0h1m-31 1h1m9 0h1m10 0h1m10 0h1m1 0h1m6 0h1m-33 1h2m8 0h2m15 0h1m-41 1h1m12 0h2m8 0h2m15 0h1m-43 1h2m23 0h1m8 0h1m8 0h2m-54 1h1m5 0h1m2 0h1m8 0h1m22 0h3m9 0h3m-52 1h1m2 0h2m9 0h2m37 0h1m-52 1h2m11 0h1m38 1h1m-1 1h1m-57 1h2m22 0h1m19 0h2m11 0h1m-57 1h1m34 0h2m-53 1h1m14 0h2m23 0h1m-26 1h2m59 0h1m8 0h1m-77 1h1m4 0h1m47 0h7m4 0h3m-78 1h1m14 0h1m31 0h1m18 0h5m6 0h1m14 0h1m-97 1h1m13 0h1m3 0h1m9 0h5m49 0h1m2 0h1m1 0h1m-89 1h3m7 0h1m7 0h2m18 0h1m8 0h1m1 0h1m2 0h1m-53 1h1m17 0h1m65 0h1m2 0h1m-84 1h1m8 0h1m4 0h2m78 0h1m-86 1h1m4 0h4m32 0h1m28 0h3m-69 1h1m2 0h3m5 0h4m7 0h2m3 0h1m8 0h1m22 0h2m5 0h2m1 0h1m5 0h1m-74 1h3m2 0h6m6 0h2m5 0h1m10 0h1m3 0h1m25 0h1m18 0h1m-86 1h1m22 0h2m12 0h1m3 0h2m7 0h1m16 0h1m10 0h1m-79 1h1m20 0h2m19 0h2m7 0h2m33 0h1m-87 1h1m19 0h2m13 0h1m2 0h1m13 0h3m15 0h1m-17 1h1m16 0h2m-72 1h5m58 0h4m-71 1h1m1 0h2m1 0h3m36 0h1m23 0h2m12 0h1m-102 1h1m23 0h1m38 0h1m23 0h2m5 0h1m-73 1h1m1 0h1m39 0h1m42 0h1m1 0h1m-99 1h1m2 0h1m9 0h1m6 0h1m32 0h2m22 0h1m4 0h1m17 0h1m-108 1h1m19 0h1m20 0h1m19 0h1m28 0h1m13 0h1m-102 1h1m16 0h1m19 0h1m20 0h1m26 0h1m-68 1h1m17 0h2m34 0h2m5 0h2m6 0h1m17 0h1m-87 1h2m15 0h2m35 0h3m3 0h1m18 0h1m-107 1h1m25 0h1m2 0h3m11 0h2m37 0h6m21 0h1m2 0h1m-83 1h3m10 0h1m28 0h1m9 0h5m12 0h1m12 0h1m-88 1h1m5 0h1m40 0h1m10 0h2m1 0h1m2 0h1m6 0h1m1 0h1m7 0h1m7 0h1m-115 1h1m30 0h1m51 0h1m30 0h1m-114 1h1m21 0h1m7 0h1m82 0h1m-97 1h1m4 0h2m4 0h1m1 0h1m50 0h1m11 0h1m1 0h1m4 0h1m6 0h1m3 0h1m1 0h1m-115 1h1m18 0h1m11 0h1m2 0h5m39 0h3m24 0h1m-104 1h1m24 0h1m9 0h2m38 0h2m1 0h1m18 0h1m-62 1h2m39 0h2m15 0h2m8 0h2m-71 1h1m19 0h2m8 0h2m8 0h2m13 0h1m3 0h1m-92 1h1m16 0h1m7 0h2m4 0h1m4 0h1m1 0h6m8 0h2m7 0h7m2 0h1m9 0h1m-93 1h1m4 0h1m46 0h5m6 0h4m6 0h2m1 0h2m16 0h2m23 0h1m-120 1h1m5 0h2m18 0h1m13 0h1m5 0h1m9 0h2m4 0h6m4 0h1m3 0h1m26 0h1m-105 1h1m11 0h1m6 0h2m38 0h1m2 0h1m5 0h1m3 0h1m2 0h1m10 0h1m1 0h1m1 0h1m9 0h1m-101 1h1m7 0h2m3 0h1m16 0h1m11 0h1m29 0h1m7 0h1m6 0h1m-88 1h1m8 0h1m5 0h1m17 0h1m11 0h3m30 0h1m4 0h1m-84 1h1m25 0h1m7 0h1m2 0h1m32 0h1m-60 1h2m13 0h1m5 0h1m1 0h1m8 0h1m9 0h2m61 0h1m-106 1h1m8 0h2m3 0h1m32 0h1m4 0h1m5 0h1m3 0h1m-62 1h1m55 0h2m1 0h1m48 0h2m-105 1h1m4 0h1m98 0h1m-106 1h1m26 0h1m77 0h1m-88 1h1m9 0h2m15 0h1m38 0h1m17 0h2m-109 1h1m7 0h1m3 0h1m14 0h1m27 0h1m45 0h1m5 0h1m-86 1h1m34 0h1m24 0h1m7 0h1m10 0h1m-90 1h2m29 0h1m8 0h1m3 0h1m33 0h1m6 0h1m2 0h1m5 0h1m-86 1h1m21 0h1m50 0h1m-65 1h1m40 0h1m6 0h1m11 0h1m10 0h1m-93 1h1m8 0h1m18 0h1m14 0h1m-44 1h1m6 0h1m28 0h2m-37 1h1m1 1h1m8 0h1m56 0h1m24 0h1m-87 1h4m78 0h2m1 0h1m-82 1h1m3 0h1m60 0h1m-64 1h2m35 0h1m28 0h1m5 0h1m-86 1h2m82 0h1m-84 1h2m80 0h2m-80 1h6m11 0h1m6 0h1m9 0h1m35 0h1m6 0h1m-77 1h6m33 0h1m15 0h1m19 0h1m2 0h1m-77 1h5m46 0h1m11 0h1m8 0h1m2 0h1m1 0h1m10 0h1m-83 1h1m55 0h1m2 0h1m5 0h1m1 0h2m1 0h3m9 0h1m-26 1h1m6 0h3m2 0h4m8 0h2m-54 1h1m12 0h1m2 0h1m17 0h2m3 0h5m8 0h2m3 0h1m-31 1h1m5 0h2m4 0h6m6 0h2m4 0h1m3 0h1m-98 1h3m2 0h5m12 0h1m15 0h1m29 0h1m6 0h6m6 0h2m3 0h1m3 0h1m-121 1h1m22 0h5m5 0h9m13 0h1m43 0h6m6 0h1m8 0h1m-121 1h1m11 0h2m10 0h3m11 0h7m2 0h1m23 0h2m11 0h1m15 0h5m14 0h2m-121 1h2m9 0h4m54 0h1m8 0h1m40 0h1m-120 1h2m10 0h3m66 0h1m37 0h1m-119 1h1m10 0h3m34 0h4m12 0h1m3 0h1m6 0h4m38 0h1m-118 1h1m11 0h2m34 0h3m10 0h6m19 0h2m29 0h1m-92 1h3m31 0h5m20 0h3m-62 1h4m15 0h3m13 0h5m18 0h4m28 0h1m-91 1h4m13 0h6m12 0h5m18 0h4m28 0h1m-91 1h3m13 0h7m11 0h6m18 0h4m27 0h1m-89 1h1m14 0h6m12 0h6m19 0h3m26 0h1m-74 1h7m12 0h5m23 0h2m14 0h2m8 0h1m-112 1h1m37 0h6m14 0h2m25 0h2m13 0h2m6 0h1m1 0h1m-73 1h6m23 0h2m15 0h3m12 0h3m6 0h1m1 0h1m-105 1h2m8 0h1m23 0h3m23 0h4m14 0h2m13 0h2m3 0h1m2 0h1m-102 1h3m6 0h5m45 0h5m14 0h1m13 0h2m-94 1h4m5 0h6m45 0h5m12 0h2m13 0h1m-92 1h3m5 0h7m44 0h6m11 0h1m-77 1h4m5 0h5m25 0h4m17 0h5m10 0h1m-75 1h3m7 0h3m25 0h4m17 0h5m9 0h2m-74 1h2m36 0h4m17 0h3m9 0h2m-33 1h3m27 0h3m-33 1h4m26 0h2m-47 1h3m13 0h3m38 0h2m-58 1h2m14 0h1m38 0h2m5 0h2m-76 1h2m64 0h2m4 0h4m-76 1h4m61 0h2m5 0h3m-75 1h5m33 0h2m25 0h1m5 0h3m-80 1h2m4 0h5m33 0h1m32 0h2m-77 1h2m5 0h2m65 0h1m-22 1h3m17 0h1m-24 1h6m16 0h1m-48 1h4m21 0h6m6 0h3m-41 1h6m20 0h4m7 0h3m5 0h1m-48 1h8m29 0h5m-46 1h9m32 0h4m-53 1h3m5 0h6m-13 1h4m-1 1h1m3 2h1m9 0h3m14 0h6m-32 1h2m7 0h4m13 0h3"/><path stroke="#e7d4cf" d="M0 0m62 0h1m-2 1h1m4 0h1m-21 1h1m15 0h6m-25 1h1m12 0h1m1 0h2m11 0h5m2 0h1m-34 1h1m31 0h3m2 0h1m-36 1h1m3 0h1m28 0h1m2 0h1m-49 1h1m7 0h1m2 0h1m35 0h1m1 0h1m-43 1h1m2 0h1m38 0h1m-45 1h1m3 0h1m43 0h1m-53 2h1m5 0h1m47 0h3m-54 1h1m62 0h1m-65 1h2m52 0h1m10 0h1m-78 1h1m8 0h1m57 0h1m-61 1h2m58 0h2m-65 1h1m4 0h1m58 0h2m8 0h1m-73 1h1m3 0h1m70 0h1m-89 1h1m15 0h1m-9 1h1m6 0h2m63 0h1m-66 1h1m76 0h1m-4 1h1m-11 1h2m-74 1h1m4 0h1m66 0h1m2 0h1m5 0h1m1 0h1m2 0h1m-95 1h1m10 0h1m72 0h1m9 0h1m-82 1h1m67 0h1m-74 1h1m73 0h1m15 0h1m-91 1h1m5 0h2m65 0h1m4 0h1m9 0h1m2 0h1m-106 1h1m11 0h1m7 0h1m66 0h2m1 0h2m-93 1h1m13 0h1m74 0h1m2 0h1m13 0h1m-93 1h1m74 0h2m-85 1h1m8 0h1m91 0h1m-108 1h1m16 0h2m2 0h1m68 0h1m-90 1h1m9 0h1m6 0h1m2 0h1m86 0h1m-105 1h1m14 0h1m2 0h1m65 0h2m1 0h1m10 0h1m-81 1h1m68 0h1m17 0h1m-88 1h1m64 0h1m3 0h1m-90 1h1m8 0h1m9 0h2m68 0h1m14 0h1m-105 1h1m13 0h1m5 0h1m65 0h1m2 0h1m14 0h1m2 0h2m-94 1h1m81 0h1m-101 1h1m89 0h1m1 0h1m17 0h1m-113 1h1m1 0h1m24 0h1m61 0h1m7 0h1m13 0h1m2 0h1m-96 1h1m1 0h1m1 0h1m4 0h2m59 0h1m-72 1h1m9 0h3m57 0h1m-86 1h1m25 0h3m54 0h1m14 0h1m11 0h1m-114 1h1m15 0h1m8 0h1m4 0h2m53 0h1m4 0h1m2 0h1m10 0h1m8 0h1m-113 1h1m7 0h1m15 0h1m4 0h2m52 0h1m17 0h1m10 0h1m-91 1h1m7 0h1m52 0h1m-54 1h1m51 0h4m10 0h1m11 0h1m-108 1h1m26 0h1m2 0h3m2 0h1m42 0h1m1 0h3m2 0h1m9 0h1m11 0h1m-111 1h1m38 0h1m40 0h1m2 0h1m19 0h1m-104 1h1m32 0h1m4 0h1m51 0h1m18 0h1m-110 1h2m32 0h1m9 0h1m30 0h2m1 0h2m5 0h2m3 0h1m2 0h1m1 0h1m2 0h1m2 0h1m7 0h1m-109 1h1m6 0h1m25 0h1m4 0h1m2 0h1m3 0h1m23 0h1m2 0h1m2 0h1m6 0h1m14 0h1m10 0h1m-84 1h1m9 0h5m4 0h6m17 0h3m1 0h1m9 0h3m24 0h1m4 0h1m-113 1h1m42 0h1m6 0h1m4 0h5m5 0h2m2 0h1m3 0h1m5 0h1m15 0h1m16 0h1m-85 1h1m21 0h1m4 0h1m4 0h4m4 0h1m4 0h1m2 0h1m16 0h1m14 0h1m-69 1h1m31 0h1m14 0h1m5 0h1m-47 1h1m26 0h1m31 0h1m-95 1h1m14 0h1m26 0h1m10 0h1m4 0h1m30 0h1m10 0h1m-109 1h1m29 0h1m14 0h1m23 0h1m2 0h1m30 0h2m2 0h2m-99 1h1m40 0h1m3 0h1m2 0h1m16 0h1m31 0h1m-104 1h1m40 0h1m11 0h1m6 0h1m20 0h1m18 0h1m2 0h1m-97 1h1m11 0h1m2 0h1m30 0h1m15 0h1m11 0h1m10 0h1m10 0h1m-92 1h1m9 0h1m30 0h1m26 1h1m12 0h1m-74 1h1m28 0h1m28 0h1m19 0h1m-40 1h1m9 0h1m27 0h1m-81 1h2m25 0h2m22 0h1m2 0h1m12 0h2m12 0h1m-94 2h2m7 0h1m59 0h1m3 0h1m9 0h1m8 0h1m-93 1h1m8 0h1m58 0h1m10 0h1m-79 1h1m48 0h1m23 0h1m12 0h1m2 0h2m-89 1h2m3 0h1m69 0h1m2 0h1m8 0h1m-80 1h1m17 0h1m35 0h1m19 0h2m-15 2h1m11 0h1m-63 2h1m25 0h1m11 0h1m-33 1h1m32 0h1m21 0h2m-73 1h8m16 0h1m34 0h2m2 0h1m6 0h2m-71 1h4m10 0h3m22 0h1m21 0h1m6 0h2m-68 1h3m37 0h1m15 0h2m7 0h1m-36 1h1m5 0h1m16 0h3m-1 1h1m-30 1h1m23 0h1m3 0h1m-40 1h2m11 0h2m24 0h1m-45 1h3m5 0h5m16 0h3m7 0h1m2 0h2m-41 1h2m33 0h1m2 0h1m-14 1h2m7 0h1m1 0h2m-16 1h4m6 0h4m-15 1h3"/><path stroke="#e0c1b6" d="M0 0m53 1h1m11 0h1m-22 1h2m9 0h1m12 0h3m9 0h1m-36 1h1m6 0h1m0 1h1m26 0h1m-38 1h1m6 0h1m37 0h1m-3 3h2m1 0h2m-60 1h1m8 0h2m46 0h1m-61 1h1m12 0h1m-7 1h1m4 0h1m60 0h1m-75 1h2m1 0h1m4 0h1m1 0h1m-13 1h1m5 0h2m-11 1h2m71 0h1m-75 1h2m11 0h1m-15 1h2m1 0h1m11 0h1m59 0h1m3 0h1m-4 1h1m-77 1h1m11 0h1m65 0h1m11 0h1m-12 1h1m6 0h2m-90 1h1m2 0h1m11 0h1m-17 1h1m6 0h1m-2 1h1m76 0h1m-70 1h1m67 0h1m-70 1h1m-18 1h1m2 0h1m2 0h1m95 0h1m-15 1h1m-86 1h1m12 0h3m-19 1h1m17 0h1m73 0h1m2 0h1m-98 1h1m12 0h1m6 0h1m72 0h1m-94 1h1m18 0h2m69 0h1m2 0h1m-95 1h1m19 0h2m-22 1h1m10 0h1m8 0h2m71 0h1m14 0h1m-109 1h1m9 1h1m4 0h1m73 0h1m1 0h1m10 0h1m-97 1h1m10 0h1m71 0h1m3 0h1m8 0h2m-95 1h1m3 0h1m75 0h1m4 0h1m7 0h1m-82 1h2m79 0h1m-95 1h1m14 0h1m66 0h1m5 0h1m10 0h2m1 0h1m-103 1h1m15 0h1m82 0h3m-94 1h1m7 0h1m68 0h1m13 0h2m-111 1h1m17 0h1m81 0h1m-101 1h1m88 0h1m17 0h1m-108 1h1m11 0h2m4 0h1m8 0h2m59 0h1m-83 1h1m11 0h2m9 0h1m56 0h2m14 0h1m-93 1h1m8 0h1m3 0h1m4 0h2m55 0h2m3 0h1m3 0h1m1 0h1m-96 1h2m82 0h2m-85 1h2m14 0h1m79 0h1m2 0h1m-86 1h1m3 0h1m9 0h2m3 0h2m51 0h1m-80 1h1m2 0h1m3 0h1m3 0h1m7 0h1m3 0h3m1 0h2m45 0h1m25 0h1m-94 1h1m11 0h1m2 0h1m1 0h1m2 0h1m45 0h1m7 0h1m9 0h2m4 0h1m-102 1h1m24 0h1m5 0h1m45 0h2m12 0h1m-78 1h1m10 0h1m3 0h1m1 0h2m1 0h2m1 0h3m28 0h2m1 0h1m1 0h1m4 0h1m-79 1h1m2 0h1m14 0h1m48 0h1m1 0h2m-51 1h1m22 0h3m22 0h1m1 0h1m2 0h1m29 0h2m-84 1h3m14 0h1m16 0h1m11 0h1m22 0h1m12 0h1m4 0h1m-102 1h1m29 0h1m6 0h1m13 0h1m4 0h1m1 0h1m42 0h1m-73 1h2m12 0h1m11 0h1m1 0h1m24 0h1m18 0h1m-103 1h1m50 0h1m5 0h1m17 0h1m6 0h1m3 0h1m-79 1h1m27 0h1m9 0h1m-35 1h1m2 0h1m23 0h1m30 0h1m11 0h1m13 0h1m1 0h1m-55 1h1m-46 1h2m10 0h1m40 0h1m19 0h1m3 0h1m-77 1h3m4 0h1m45 0h1m-52 1h1m1 0h1m11 0h1m34 0h1m34 0h1m-84 1h1m1 0h1m10 0h2m-1 1h1m32 0h3m31 0h1m11 0h1m-72 1h1m69 0h1m-65 1h1m63 0h1m-83 1h1m1 0h1m24 0h1m29 0h1m23 0h1m-91 1h5m28 0h1m28 0h1m27 0h1m-90 1h6m18 0h1m40 0h1m-63 1h3m4 0h1m10 0h2m2 0h1m39 0h1m18 0h1m-75 1h3m11 0h1m36 0h1m-52 1h1m1 0h1m12 0h1m45 0h1m6 0h1m4 0h1m-55 1h1m-7 1h1m34 0h1m-38 1h2m15 0h1m23 0h1m-18 1h1m24 0h1m-53 1h1m2 0h1m20 0h1m15 0h1m7 0h1m4 0h2m-58 1h3m6 0h1m3 0h2m26 0h1m13 0h2m-56 1h4m26 0h1m5 0h1m2 2h2m7 0h4m-15 1h1m2 0h1m7 0h3m-37 1h3m4 0h4m11 0h1m2 0h1m7 0h4m-41 1h5m32 0h2m-3 1h2m-3 1h1"/><path stroke="#d7a491" d="M0 0m61 0h1m5 1h1m2 0h1m4 1h1m1 0h1m-23 1h1m20 0h2m-26 1h1m28 1h2m7 0h2m-53 1h1m5 0h1m41 0h2m4 0h2m0 1h1m-55 1h1m-7 1h1m6 0h1m46 0h1m-61 1h2m69 0h1m-8 2h2m3 0h1m1 1h1m3 0h1m-80 1h1m-2 1h1m71 1h1m9 0h1m1 0h1m-75 1h1m62 0h1m11 0h1m-85 1h1m81 0h1m-89 1h1m1 0h1m11 0h1m66 0h1m-74 1h1m79 0h1m-90 1h1m89 0h1m-87 1h1m4 0h1m71 0h1m0 1h1m2 0h1m5 0h1m-91 1h1m6 0h1m73 0h1m1 1h1m4 0h1m6 0h1m-101 2h1m11 0h1m1 0h1m78 0h1m7 0h1m-92 1h1m1 0h1m3 0h1m75 0h1m9 0h1m-91 1h1m3 0h1m78 0h1m3 0h1m3 1h1m-16 1h1m2 0h1m-93 1h1m88 0h1m8 0h1m4 0h1m-105 1h1m90 0h1m10 0h1m-98 1h1m6 0h1m75 0h1m2 0h1m5 0h1m5 0h1m-96 1h1m3 0h1m75 0h2m2 0h1m-93 1h1m12 0h1m74 0h1m12 0h1m-14 1h1m12 0h1m-94 1h1m8 0h1m2 0h1m80 0h1m-97 1h1m14 0h2m76 0h1m-94 1h1m9 0h1m5 0h1m68 0h1m-80 1h1m6 0h1m74 0h1m8 0h2m-91 1h1m75 0h1m3 0h1m-84 1h1m74 0h1m3 0h1m-91 1h1m3 0h1m9 0h1m2 0h2m6 0h1m59 0h1m5 0h1m-92 1h1m2 0h1m19 0h2m59 0h1m-85 1h1m2 0h1m13 0h1m1 0h1m64 0h1m2 0h1m12 0h1m-85 1h1m67 0h1m14 0h1m-95 1h1m89 0h1m-70 1h3m3 0h1m53 0h1m10 0h1m-83 1h1m8 0h1m1 0h2m3 0h2m47 0h1m25 0h1m-94 1h1m17 0h2m73 0h1m-105 1h1m10 0h1m18 0h1m41 0h1m6 0h1m1 0h1m17 0h1m4 0h1m-93 1h1m1 0h1m4 0h1m48 0h1m2 0h1m1 0h1m30 0h1m-88 1h1m22 0h3m23 0h2m19 0h1m1 0h1m-88 1h1m3 0h1m12 0h2m23 0h2m6 0h3m10 0h2m3 0h1m8 0h1m-29 1h1m3 0h3m6 0h1m4 0h1m33 0h1m-97 1h1m15 0h2m8 0h1m4 0h1m3 0h1m60 0h1m-97 1h1m7 0h1m3 0h1m16 0h1m14 0h2m16 0h1m20 0h2m10 0h2m-89 1h1m8 0h1m11 0h1m6 0h2m25 0h1m17 0h1m13 0h1m-92 1h7m24 0h1m21 0h1m19 0h1m-74 1h1m3 0h3m5 0h1m2 0h1m3 0h1m3 0h1m23 0h1m29 0h1m-65 1h2m6 0h2m6 0h1m12 0h1m34 0h1m4 0h1m-80 1h2m7 0h1m1 0h1m32 0h1m30 0h1m-81 1h1m13 0h1m1 0h1m12 0h1m50 0h1m5 0h1m-86 1h1m46 0h1m19 0h1m12 0h1m-71 1h3m10 0h1m13 0h1m11 0h1m-9 2h1m6 0h1m19 0h1m9 0h1m-69 1h1m8 0h1m55 0h1m8 0h1m-76 1h1m3 0h1m4 0h1m6 0h1m10 0h1m3 0h1m10 0h1m5 0h1m7 0h1m8 0h1m-65 1h1m3 0h3m21 0h1m2 0h1m4 0h1m15 0h2m17 0h1m-70 1h5m7 0h2m38 0h2m-39 1h1m15 0h1m32 0h1m3 0h1m-69 1h1m14 0h2m27 0h1m7 0h1m8 1h1m-43 1h1m7 0h1m23 0h1m6 0h1m1 0h1m-49 1h1m14 1h1m14 0h1m4 0h1m-40 1h2m31 0h1m14 0h2m-51 1h3m2 0h1m6 0h2m7 0h1m15 0h1m-36 1h11m16 0h1m2 0h2m-5 2h1m-8 1h1m13 0h2m-23 1h4m16 0h2"/><path stroke="#cb7c63" d="M0 0m54 0h1m17 0h1m2 0h1m-21 1h1m6 0h3m3 0h2m3 0h1m-20 1h1m26 0h1m-28 1h1m31 1h1m-3 1h1m-41 1h1m-6 1h1m3 0h2m-8 1h1m4 0h2m52 0h1m-68 1h2m8 0h1m50 0h1m1 0h1m-62 2h1m68 1h1m-7 1h1m1 1h1m2 0h1m5 0h2m-1 1h2m-74 1h1m-8 1h1m1 1h1m1 0h1m1 0h1m68 0h1m-3 2h2m8 0h1m-85 1h1m3 0h1m75 0h1m4 0h1m-94 1h1m10 0h1m-13 1h1m8 0h2m2 0h1m-11 1h1m1 0h1m78 0h1m1 0h1m-3 1h1m4 0h1m-93 1h1m12 0h1m74 0h1m2 0h1m-1 1h1m-93 2h1m91 0h1m-93 1h1m15 0h1m84 0h1m-102 1h1m6 0h1m91 0h2m-1 1h1m-94 1h1m2 0h1m84 1h1m7 0h1m-104 1h1m6 1h1m6 0h1m73 0h1m-87 1h1m85 0h1m-89 1h1m1 0h1m14 0h2m69 0h1m7 0h1m4 0h1m-87 1h1m2 0h1m69 0h1m4 0h2m1 0h1m-96 1h1m13 0h1m2 0h2m68 0h1m2 0h1m-92 1h1m87 0h3m-2 1h1m3 0h1m-5 1h1m-69 1h2m61 0h1m6 0h1m-89 1h1m79 0h2m5 0h1m-86 1h1m2 0h1m7 0h1m66 0h1m16 0h1m-99 1h1m80 0h1m1 0h1m12 0h1m-93 1h2m4 0h1m71 0h2m11 0h1m3 0h1m-97 1h1m6 0h1m72 0h1m12 0h1m2 0h1m-90 1h1m6 0h3m-10 1h2m9 0h2m75 0h1m-100 1h1m10 0h1m6 0h1m3 0h2m64 0h2m-90 1h2m10 0h1m58 0h1m6 0h1m9 0h1m9 0h1m-99 1h4m13 0h2m51 0h2m6 0h1m-77 1h1m35 0h5m27 0h1m-68 1h1m17 0h1m2 0h1m17 0h1m8 0h3m15 0h1m-66 1h2m27 0h2m15 0h4m2 0h1m5 0h1m4 0h2m10 0h1m1 0h1m-30 1h1m8 0h1m4 0h1m21 0h1m-74 1h1m2 0h5m29 0h1m2 0h1m8 0h1m2 0h1m2 0h1m20 0h2m3 0h1m1 0h1m-78 1h1m2 0h1m4 0h1m12 0h2m7 0h3m-41 1h1m9 0h2m16 0h1m1 0h1m8 0h1m11 0h1m32 0h1m-87 1h1m3 0h1m53 0h1m6 0h1m11 0h1m7 0h1m-74 1h1m53 0h1m17 0h2m-74 1h1m17 0h1m16 0h1m13 0h1m9 0h1m6 0h1m5 0h1m-59 1h1m20 0h1m31 0h1m3 0h2m-63 1h3m13 0h1m9 0h3m13 0h1m17 0h1m0 1h1m-66 1h1m5 0h1m11 0h1m14 0h1m7 0h1m-42 1h1m46 0h1m10 0h1m-69 1h3m6 0h2m45 0h1m16 0h1m-73 1h3m3 0h1m4 0h3m14 0h2m7 0h1m15 0h2m16 0h1m-66 1h1m3 0h1m16 0h1m23 0h2m9 0h1m7 0h1m-56 1h1m21 0h1m1 0h1m10 0h1m3 0h1m-28 1h1m7 0h1m13 0h1m6 0h1m5 0h2m-49 1h1m12 0h1m32 0h1m-26 1h1m7 0h1m9 0h1m5 0h1m-47 1h1m4 0h1m15 0h1m22 0h1m1 0h1m-32 1h1m3 0h2m22 0h1m1 0h1m-35 1h1m5 0h1m15 0h1m-37 1h2m9 0h1m18 0h4m-24 1h1m4 0h1m11 0h2m-2 1h1m-8 2h2m1 0h2"/><path stroke="#ba4d39" d="M0 0m55 0h1m1 0h1m15 0h2m-1 1h1m1 1h1m2 0h1m-27 1h1m27 1h1m-45 1h2m5 0h1m1 0h1m-12 3h1m61 0h1m-61 1h1m53 0h1m6 0h2m-1 1h1m-72 1h2m3 0h1m-2 1h1m66 0h1m-67 1h1m61 0h1m-65 1h1m1 2h1m-2 1h2m72 0h2m0 1h1m-87 1h1m86 0h1m-5 1h2m-82 1h1m75 0h1m-72 1h1m71 0h1m-86 2h1m95 0h1m-97 1h1m3 0h1m82 0h1m-89 1h1m10 1h1m81 0h1m-82 1h2m-2 1h2m-14 1h1m10 0h2m76 0h1m4 0h2m1 0h1m-99 1h1m99 0h1m-101 1h1m4 0h1m87 0h1m5 0h1m-102 1h1m98 0h1m2 0h2m-105 1h2m2 0h1m-5 1h1m12 0h1m83 0h1m-90 2h1m88 0h1m-96 1h1m-1 1h1m14 0h2m-18 1h1m15 0h2m75 0h1m2 0h2m-89 1h1m83 0h1m-83 1h1m78 0h1m5 0h1m-87 1h1m1 0h1m77 0h1m6 0h1m-92 1h1m1 0h1m81 0h1m-89 1h1m5 0h1m6 0h3m81 0h1m-98 1h1m1 0h1m79 0h1m14 0h1m-97 1h1m1 0h3m76 0h1m-72 1h2m81 0h1m1 0h1m-93 1h1m6 0h2m81 0h1m-78 2h4m65 0h1m10 0h1m-87 1h1m6 0h3m57 0h1m6 0h1m3 0h1m-9 1h1m3 0h2m2 0h1m-2 1h1m8 0h1m-96 1h2m77 0h1m14 0h1m-94 1h2m16 0h2m13 0h5m-4 1h3m13 0h2m-41 1h3m13 0h1m21 0h1m1 0h1m11 0h1m-52 1h2m35 0h2m33 0h1m-67 1h2m10 0h1m32 0h1m20 0h1m7 0h1m-86 1h2m17 0h1m11 0h1m7 0h1m14 0h1m7 0h1m8 0h1m5 0h1m7 0h1m-85 1h3m28 0h1m5 0h1m15 0h1m-24 1h1m9 0h1m30 0h1m5 0h1m-42 1h1m8 0h1m23 0h1m-25 1h1m-22 1h1m57 0h1m-64 1h1m8 0h1m17 0h1m13 0h1m20 0h1m-46 1h2m22 0h1m13 0h1m5 0h2m-64 1h1m37 0h1m23 0h1m-63 1h4m12 0h1m44 0h1m-65 1h4m25 0h1m-30 1h3m36 0h1m-9 1h1m17 0h1m-29 1h2m1 0h1m-16 1h3m29 0h1m-35 1h1m4 0h1m33 0h1m-25 1h1m4 0h1m12 0h1m11 0h1m-30 1h3m14 0h1m10 0h1m-33 1h5m15 0h1m-24 1h1m3 0h2m-7 1h4m8 1h1m2 0h1m-6 1h5m-4 1h1"/><path stroke="#9a2125" d="M0 0m56 0h1m-5 1h1m1 0h1m-4 1h1m1 0h1m-9 3h1m45 1h1m-54 1h1m52 1h1m1 1h1m3 2h3m-66 1h1m61 1h1m-71 2h1m71 0h1m1 0h1m4 1h1m-83 1h1m7 0h1m-9 1h1m2 0h1m76 0h1m0 1h1m-80 1h1m82 2h1m-88 1h1m85 3h2m-1 1h1m-82 1h1m81 0h1m-83 1h1m78 0h1m3 0h1m-92 1h1m87 0h1m-2 1h1m4 0h1m2 0h1m-99 1h1m90 0h1m4 0h1m2 0h1m-100 1h2m3 0h1m86 0h1m-86 1h1m-3 1h1m1 0h1m2 0h1m-1 1h1m82 0h1m-91 1h1m-1 1h1m-7 1h1m100 0h1m-8 1h1m6 0h1m-11 1h1m4 0h2m-89 1h2m80 0h1m2 0h1m2 0h1m-87 1h1m79 0h1m-86 3h2m91 1h2m-97 1h2m93 0h2m-1 1h1m-1 1h1m-13 2h1m-9 1h3m7 0h1m-11 1h1m2 0h1m-4 1h1m-1 1h1m0 1h1m-49 1h3m19 0h1m43 0h1m-69 1h2m33 0h2m22 0h1m-60 1h2m34 0h1m3 0h1m20 0h1m5 0h1m-67 1h2m18 0h1m23 0h1m7 0h1m8 0h1m-42 1h1m-14 1h1m10 0h1m22 0h1m8 0h1m9 0h1m-40 1h1m14 0h1m5 0h1m16 0h1m-51 1h1m6 0h1m3 0h1m21 0h1m-27 1h2m-14 1h3m24 0h1m10 0h1m-44 1h1m40 0h1m-41 1h1m2 0h1m11 0h1m14 0h1m9 0h1m14 0h1m-21 2h1m3 0h1m12 0h1m2 0h1m-35 1h1m14 0h1m2 0h1m14 0h1m-36 1h2m14 0h1m8 0h1m6 0h3m-35 1h1m5 0h1m1 0h1m-10 1h2m1 0h2m11 0h1m7 0h1m1 0h1m-41 1h1m13 0h1m17 0h1m-33 1h4m11 0h1m2 0h1m10 0h1m1 0h1m-3 1h3m-4 1h3m-22 1h3m8 2h2"/><path stroke="#5f0c1e" d="M0 0m52 2h1m-9 1h1m40 2h3m-51 1h2m50 0h1m2 0h1m-58 1h3m56 0h1m-59 1h1m1 0h1m58 2h2m-65 3h1m62 1h2m0 1h1m-75 1h3m72 0h2m-78 1h3m3 0h1m70 0h2m-81 1h1m1 0h1m5 0h1m-5 1h2m-2 1h1m80 1h1m-86 2h1m-2 1h1m-4 6h1m87 0h1m-91 1h4m87 0h1m-91 1h3m-2 1h2m2 0h1m-2 1h2m-1 1h1m84 6h1m-88 3h1m-2 1h2m-5 1h1m0 1h1m94 2h1m-1 1h1m-19 4h2m-2 1h2m16 0h1m-19 1h2m15 0h2m-2 1h2m-2 1h1m-66 1h3m55 0h1m6 0h1m-66 1h2m30 0h2m2 0h2m19 0h2m1 0h1m-27 1h4m4 0h1m14 0h3m-52 1h3m7 0h1m15 0h3m4 0h3m6 0h2m5 0h3m-53 1h3m8 0h2m13 0h4m4 0h4m5 0h1m7 0h1m-53 1h3m8 0h3m13 0h2m7 0h3m-39 1h2m8 0h3m23 0h2m-39 1h4m32 0h2m-43 1h3m3 0h2m19 0h3m-31 1h4m23 0h4m-30 1h2m13 0h3m7 0h4m8 0h2m14 0h1m-39 1h2m7 0h4m7 0h4m13 0h3m-20 1h3m14 0h2m-38 1h4m16 0h2m13 0h2m-38 1h3m17 0h3m-13 1h1m8 0h3m5 0h2m-25 1h1m2 0h4m8 0h2m6 0h1m-39 1h3m11 0h6m9 0h2m-16 1h2m12 0h1"/></g><g filter="url(#b3)"><ellipse cx="270" cy="608.9" rx="17.3" ry="12.6" fill="none" stroke="#dba593" stroke-width="4.2" opacity="0.55" stroke-dasharray="9 2 6 1.5"/><ellipse cx="270" cy="608.9" rx="13.2" ry="9.8" fill="none" stroke="#7fb3cb" stroke-width="2.4" stroke-dasharray="5 2.5" opacity="0.65"/><ellipse cx="270" cy="608.9" rx="11.2" ry="8.4" fill="#f3efee"/><circle cx="274.3" cy="619.3" r="1.3" fill="#1c2a6b"/><circle cx="255.6" cy="612.2" r="1.1" fill="#1c2a6b"/></g></g><g clip-path="url(#c4)"><circle cx="586" cy="692" r="130" fill="#f3efee"/><g transform="translate(457 564) scale(2)" fill="none" stroke-width="1.02" filter="url(#b2)"><path stroke="#212d6e" d="M0 0m75 1h1m-22 1h1m27 1h2m-41 1h2m40 0h1m1 0h1m-45 1h1m-2 1h2m-3 1h2m47 1h1m1 1h2m0 1h2m1 1h1m0 1h1m2 2h1m-78 2h1m72 0h2m0 1h2m-1 1h2m0 1h1m-81 1h3m-3 1h3m-3 1h4m-2 1h1m75 0h3m6 0h1m-9 1h3m6 0h1m-94 2h1m-2 1h1m3 1h2m4 0h1m-7 1h3m-7 4h1m1 0h1m-3 1h1m4 1h3m-3 1h3m87 0h1m-87 5h2m-3 1h2m-5 4h2m-2 1h2m2 1h1m5 0h2m-3 1h4m-16 1h2m11 0h2m60 0h1m4 0h2m-81 1h1m72 0h2m4 0h2m-7 1h1m5 0h1m-7 1h1m4 0h2m-7 1h1m4 0h1m-12 1h1m4 0h1m5 0h1m4 0h1m-78 1h1m65 0h1m5 0h1m4 0h2m-80 1h3m63 0h3m8 0h2m-80 1h4m63 0h3m8 0h2m-80 1h3m6 0h2m56 0h2m-68 1h2m6 0h1m57 0h2m-10 1h3m5 0h2m-23 1h3m10 0h3m5 0h2m-24 1h3m11 0h3m9 0h1m-28 1h4m11 0h2m9 0h3m9 0h1m-81 1h3m38 0h4m12 0h2m9 0h3m8 0h1m-78 1h1m37 0h4m6 0h1m6 0h1m9 0h3m9 0h1m-40 1h3m6 0h2m16 0h3m-32 1h3m7 0h2m17 0h2m-33 1h4m7 0h3m-15 1h4m8 0h3m-15 1h4m7 0h3m15 0h2m-20 1h2m15 0h2m-2 1h1m-30 3h3m-5 1h5m-5 1h4"/><path stroke="#1557ad" d="M0 0m74 0h1m-28 1h1m4 0h1m15 0h3m2 0h2m-22 1h1m1 0h1m-14 2h1m2 0h1m39 1h1m-45 3h1m-10 2h1m-1 1h1m63 0h1m-66 1h2m-2 1h1m68 0h2m0 1h1m-78 1h1m70 0h1m6 0h1m-2 3h1m-75 1h2m73 0h1m-76 1h1m-8 1h1m3 0h1m-5 1h1m77 0h2m7 0h1m-10 1h1m0 1h1m6 0h1m-91 1h1m84 0h1m8 0h1m-96 1h1m0 1h1m8 0h1m-8 1h1m2 0h1m2 0h1m-3 1h1m83 0h1m0 1h1m-92 3h1m-3 1h1m1 0h2m5 1h1m86 0h1m-1 2h2m-1 1h1m-86 1h1m84 0h1m-95 1h1m7 0h2m-4 1h1m2 0h1m-15 1h1m12 0h1m-14 1h1m0 1h1m5 2h1m86 0h1m-85 1h1m83 0h1m-84 1h1m1 0h1m3 0h1m2 0h1m73 0h1m-90 1h2m73 0h1m4 0h2m7 0h1m-91 1h1m2 0h1m71 0h1m14 0h1m-90 1h1m12 0h1m60 1h1m5 0h1m-13 2h2m4 0h1m6 0h1m-14 1h1m6 0h1m10 0h1m-80 1h1m60 0h2m5 0h1m8 0h1m-62 1h3m60 0h1m-72 1h3m5 0h3m-25 1h1m7 0h1m4 0h1m2 0h1m57 0h1m8 0h1m-84 1h2m11 0h1m1 0h1m47 0h3m8 0h1m-74 1h2m11 0h1m37 0h3m8 0h1m-50 1h1m39 0h1m8 0h1m24 0h1m-76 1h2m38 0h1m9 0h1m8 0h1m4 0h1m9 0h2m-83 1h2m58 0h1m-61 1h1m3 0h1m63 0h1m12 0h1m-80 1h1m1 0h1m47 0h1m18 0h1m7 0h1m1 0h1m-42 1h1m16 0h2m20 0h2m-67 1h1m23 0h1m12 0h1m-16 1h1m30 0h2m-29 1h1m6 0h1m18 0h2m-40 1h1m21 0h1m-24 1h2m20 0h1m16 0h1m-2 1h1m-29 2h2m-1 1h1m-7 2h1m-1 1h4"/><path stroke="#2d7fbb" d="M0 0m64 0h3m4 0h1m1 0h1m1 0h2m-29 1h1m22 0h2m3 0h1m-21 1h1m-3 1h1m26 0h1m-43 1h1m46 0h1m-49 1h1m5 0h1m39 0h1m4 0h1m-49 1h1m1 1h1m-2 1h1m48 0h1m-59 1h1m-1 1h1m56 0h1m8 0h1m-64 1h1m57 1h1m-63 1h1m-2 1h2m61 0h1m3 3h1m4 1h1m-85 1h2m2 0h1m6 0h1m73 0h1m-76 1h1m77 1h1m-10 1h1m2 0h1m-79 1h1m1 0h1m77 0h1m2 0h1m5 0h1m-9 1h1m-89 1h1m84 0h1m1 0h2m6 1h2m-86 1h1m-12 1h1m10 0h1m78 0h2m5 0h1m-95 1h1m4 0h2m82 0h1m5 0h1m-95 1h2m85 0h1m7 1h1m-99 1h2m-4 1h1m7 1h1m86 1h1m-91 1h1m3 0h1m85 0h1m-90 1h1m-12 1h1m17 0h1m75 0h1m6 0h1m-102 1h2m7 0h1m8 0h1m-19 1h2m5 0h1m1 0h1m8 0h1m84 0h1m-103 1h3m3 0h2m94 0h1m-102 1h1m10 0h1m89 0h1m-102 1h1m1 0h1m91 0h1m-94 1h1m92 0h2m-1 1h1m-88 2h1m3 0h3m4 0h2m-13 1h4m3 0h1m70 0h2m-83 1h1m7 0h2m65 0h1m-77 1h1m13 0h1m2 0h1m60 0h1m16 0h1m-95 1h1m2 0h1m73 0h1m16 0h2m-95 1h2m91 0h2m-101 1h1m73 0h1m5 0h1m18 0h1m-100 1h2m71 0h1m17 0h1m7 0h1m-99 1h2m11 0h1m72 0h1m11 0h1m-98 1h2m11 0h1m14 0h3m46 0h1m19 0h1m-97 1h2m7 0h1m19 0h1m53 0h1m8 0h1m-93 1h3m5 0h1m83 0h1m-92 1h3m23 0h1m38 0h1m21 0h1m-87 1h2m42 0h2m10 0h1m7 0h1m3 0h1m22 0h1m-90 1h1m12 0h1m1 0h1m25 0h3m30 0h1m13 0h2m-88 1h1m10 0h1m9 0h2m16 0h2m-9 1h3m36 0h1m1 0h1m-71 1h1m2 0h1m4 0h1m19 0h4m26 0h1m10 0h1m11 0h1m1 0h1m-78 1h1m21 0h2m23 0h1m-56 1h2m2 0h1m3 0h1m51 0h1m1 0h1m-44 1h6m49 0h1m6 0h1m2 0h1m-69 1h1m1 0h5m22 0h1m14 0h1m9 0h1m2 0h1m7 0h3m-69 1h4m35 0h1m4 0h1m12 0h1m-5 1h1m2 0h1m-42 1h1m1 0h1m34 0h1m2 0h1m7 0h1m-50 1h1m2 0h1m6 0h4m6 0h1m16 0h1m10 0h2m-49 1h2m18 0h2m14 0h1m9 0h4m-74 1h3m32 0h1m24 0h2m8 0h3m-72 1h7m25 0h1m2 0h1m7 0h1m25 0h2m-68 1h5m22 0h1m21 0h2m15 0h1m-42 1h1m5 0h1m16 0h2m-26 1h1m5 0h1m16 0h1m-24 1h1m20 0h1m-3 1h2m-13 3h4m-6 1h3"/><path stroke="#639fbd" d="M0 0m63 0h1m-15 1h1m17 0h1m-16 1h1m8 0h2m13 0h2m-25 1h1m30 0h1m-37 2h1m34 0h1m2 0h1m-3 1h2m-3 1h1m3 0h1m4 0h1m-64 2h1m1 0h1m2 0h1m62 0h1m-70 1h1m2 1h1m60 0h1m6 1h1m-4 1h1m2 0h1m-75 1h1m67 0h1m-69 2h1m-3 1h1m77 0h1m-78 2h1m78 1h2m1 2h1m2 0h1m-12 1h1m11 0h1m-1 2h1m-85 1h1m87 0h1m-97 1h1m6 0h1m86 0h2m-96 1h1m5 0h1m90 0h1m-90 1h1m79 0h1m-85 1h1m91 0h1m1 0h1m-16 1h1m6 0h2m-95 1h2m85 0h1m12 0h1m1 0h1m-16 1h1m-81 1h1m1 0h1m85 0h1m3 0h1m-105 1h1m4 0h2m3 0h1m4 0h1m81 0h1m-98 1h1m96 0h2m-99 1h2m8 0h1m1 0h1m81 0h1m3 0h1m-98 1h1m15 0h1m77 0h1m-88 1h1m10 0h1m74 0h2m7 0h1m-102 1h1m92 0h1m6 0h1m-103 1h1m94 0h2m-96 1h1m2 0h1m91 0h1m9 0h1m-93 1h1m91 0h1m-105 1h1m2 0h1m86 0h1m13 0h1m-104 1h2m6 0h1m80 0h1m3 0h1m9 0h1m-104 1h1m92 0h1m9 0h1m-98 1h1m13 0h1m69 0h1m2 0h1m9 0h1m-99 1h2m14 0h1m71 0h1m4 0h1m4 0h1m-97 1h1m13 0h1m76 0h2m3 0h1m-107 1h1m101 0h1m3 0h1m-107 1h1m21 0h1m83 0h1m-107 1h2m8 0h1m73 0h1m21 0h1m-106 1h1m73 0h1m1 0h1m24 0h1m2 0h2m-106 1h1m103 0h2m-105 1h1m12 0h1m17 0h2m40 0h1m16 0h1m12 0h2m-104 1h1m31 0h1m64 0h1m4 0h2m-103 1h1m95 0h1m4 0h1m-98 1h1m13 0h1m3 0h1m7 0h1m59 0h1m5 0h1m3 0h2m-101 1h1m27 0h1m17 0h1m20 0h1m24 0h3m4 0h2m-100 1h1m4 0h1m2 0h1m10 0h1m24 0h1m11 0h1m1 0h1m32 0h1m6 0h1m-93 1h1m19 0h2m26 0h1m3 0h1m6 0h1m31 0h2m-93 1h1m11 0h1m9 0h1m8 0h3m13 0h1m23 0h1m2 0h1m11 0h1m4 0h2m-92 1h2m9 0h1m7 0h2m8 0h1m3 0h1m11 0h1m24 0h1m19 0h1m-83 1h1m1 0h1m17 0h1m15 0h1m23 0h2m4 0h1m14 0h2m-93 1h2m8 0h1m19 0h1m2 0h1m21 0h1m5 0h1m14 0h1m6 0h1m2 0h1m4 0h1m-92 1h1m9 0h1m12 0h4m27 0h1m-53 1h1m16 0h1m6 0h1m26 0h1m2 0h1m-33 1h1m16 0h1m18 0h1m20 0h1m3 0h1m-71 1h1m4 0h1m24 0h1m15 0h1m8 0h1m10 0h1m2 0h1m-68 1h2m14 0h1m25 0h1m20 0h1m-81 1h2m37 0h1m27 0h1m-67 1h3m50 0h1m11 0h1m-65 1h5m23 0h1m2 0h1m6 0h3m7 0h1m2 0h1m12 0h1m3 0h1m-68 1h4m3 0h1m30 0h1m1 0h1m6 0h3m13 0h1m9 0h1m3 0h1m-75 1h2m7 0h3m32 0h1m1 0h1m9 0h1m3 0h2m11 0h1m-72 1h3m5 0h3m24 0h1m5 0h2m8 0h1m2 0h1m15 0h1m-68 1h2m2 0h2m9 0h1m8 0h1m22 0h1m2 0h1m14 0h1m-51 1h1m7 0h1m21 0h2m1 0h1m15 0h1m-42 1h1m19 0h2m1 0h1m14 0h2m-39 1h2m14 0h3m2 0h1m14 0h2m-23 1h5m15 0h1m-26 1h4m12 0h1m-15 1h1m12 0h2m-34 1h5m7 0h1m3 0h2m-17 1h3m7 0h3"/><path stroke="#96b9c5" d="M0 0m50 1h2m7 0h1m-14 1h1m21 0h4m-28 1h1m1 0h1m-7 1h1m12 0h1m25 0h2m2 2h1m8 0h1m-11 1h1m1 0h1m9 0h1m-62 1h2m59 0h1m-65 1h1m1 0h1m8 0h1m-11 1h1m57 0h1m-57 1h1m66 1h1m-76 1h2m65 0h1m10 0h1m-74 1h1m64 0h1m-70 1h1m68 0h1m1 0h1m1 1h1m4 0h1m-85 1h1m-3 3h1m86 0h2m-10 1h2m6 0h1m2 0h2m-13 1h1m7 0h1m5 0h1m-82 1h1m76 0h2m-92 1h1m6 0h1m4 0h2m78 0h1m1 0h1m-4 1h1m-94 1h1m11 0h1m-13 1h1m4 0h1m85 0h1m-90 1h1m5 0h1m-8 1h1m10 0h1m72 0h1m-90 1h1m88 0h2m-91 1h1m88 0h1m-90 1h1m89 0h1m11 0h1m0 1h1m-105 1h1m100 0h1m4 0h1m-106 2h1m91 0h1m8 0h1m-10 1h1m-75 1h1m-18 1h1m4 0h1m8 0h1m-2 1h1m93 0h1m-97 1h1m88 0h1m3 0h1m-90 1h1m71 0h1m-89 1h1m13 0h1m73 0h1m1 0h1m5 0h1m5 0h1m-106 1h1m92 0h1m-94 1h1m3 0h1m2 0h1m4 0h1m1 0h1m0 1h1m78 0h2m-95 1h1m17 0h1m83 0h1m5 0h1m-109 1h1m82 0h2m9 0h1m4 0h1m3 0h1m4 0h1m-109 1h1m6 0h1m21 0h1m52 0h1m2 0h1m11 0h1m1 0h1m8 0h1m-80 1h1m67 0h1m-96 1h1m4 0h1m90 0h1m-91 1h1m67 0h2m28 0h1m-106 1h1m7 0h1m-5 1h1m97 0h1m-98 1h1m29 0h1m42 0h1m8 1h1m1 0h1m7 0h1m-74 1h3m8 0h1m40 0h2m9 0h1m13 0h1m2 0h1m1 0h1m-103 1h1m25 0h1m11 0h1m55 0h2m-90 1h1m2 0h1m7 0h1m4 0h1m4 0h1m9 0h2m7 0h1m1 0h1m47 0h1m-96 1h1m11 0h1m3 0h1m10 0h2m19 0h1m7 0h1m30 0h1m6 0h1m5 0h1m-100 1h3m25 0h1m14 0h1m55 0h1m-93 1h1m17 0h1m14 0h1m2 0h1m2 0h1m32 0h1m10 0h1m-85 1h1m2 0h1m5 0h1m9 0h1m15 0h1m32 0h1m21 0h1m1 0h1m-92 1h1m32 0h1m57 0h1m-91 1h1m25 0h1m34 0h1m6 0h1m20 0h1m-99 1h1m8 0h2m17 0h1m4 0h1m21 0h1m21 0h1m4 0h1m5 0h1m3 0h1m3 0h3m-99 1h2m7 0h1m5 0h1m8 0h1m52 0h1m18 0h2m-97 1h2m19 0h1m8 0h1m26 0h1m9 0h1m27 0h1m-95 1h2m16 0h1m6 0h1m37 0h1m20 0h1m1 0h2m5 0h1m-92 1h2m16 0h1m2 0h1m12 0h1m6 0h1m15 0h1m2 0h1m1 0h1m7 0h1m4 0h1m5 0h1m3 0h1m-85 1h1m2 0h1m27 0h1m3 0h1m20 0h1m2 0h2m18 0h1m1 0h1m-81 1h1m28 0h1m4 0h1m20 0h1m1 0h2m12 0h1m5 0h1m2 0h2m-81 1h1m5 0h1m35 0h1m5 0h1m4 0h1m1 0h1m8 0h1m10 0h1m-75 1h1m37 0h1m8 0h1m3 0h1m11 0h1m3 0h1m-65 1h1m12 0h1m25 0h1m4 0h1m11 0h1m1 0h1m1 0h1m-59 1h1m11 0h1m31 0h1m11 0h4m9 0h1m-68 1h2m2 0h2m2 0h9m1 0h2m33 0h1m1 0h1m10 0h1m1 0h1m-54 1h2m1 0h2m31 0h1m9 0h2m2 0h1m-35 1h1m12 0h1m4 0h1m11 0h2m2 0h1m-41 1h1m2 0h1m32 0h1m2 0h1m-41 1h3m13 0h1m5 0h1m13 0h1m1 0h1m-23 1h5m6 0h1m1 0h1m5 0h3m-53 1h5m19 0h1m5 0h1m10 0h1m2 0h1m4 0h1m-48 1h8m5 0h2m4 0h1m19 0h4m-38 1h4m3 0h3m2 0h2m3 0h1m16 0h3m-4 1h1"/><path stroke="#bccdd3" d="M0 0m67 0h1m-10 1h1m13 1h1m2 0h1m-21 1h1m22 1h1m-42 1h1m4 0h1m39 0h1m3 1h1m-48 1h2m2 1h1m-14 2h1m66 0h1m-71 1h1m-2 1h1m8 0h2m58 0h1m-66 1h1m60 0h1m-68 1h1m1 0h1m76 0h1m-83 1h1m80 0h1m1 0h1m-85 1h2m2 1h1m77 0h1m4 0h1m-89 1h3m8 0h1m77 0h1m-87 1h1m86 0h1m-91 1h1m88 0h1m-13 1h1m9 0h1m0 1h1m-92 2h1m82 0h1m2 2h1m2 0h1m-85 1h1m77 1h1m-72 1h1m70 0h1m16 0h1m-98 1h1m3 0h1m5 0h1m79 0h1m-8 1h1m14 0h1m-9 1h1m-100 1h1m1 0h1m97 0h1m5 0h1m-105 1h1m6 0h1m5 0h1m76 0h1m15 0h1m-16 1h1m14 0h2m-16 1h1m5 1h1m-91 1h1m82 0h1m-84 1h1m98 0h1m-14 1h1m8 0h1m-102 1h1m4 0h1m78 0h1m16 0h1m3 0h1m-22 1h1m6 0h1m9 0h1m3 0h1m-112 1h1m6 0h1m7 0h1m76 0h1m-2 1h2m12 0h1m-106 2h1m5 0h1m4 0h1m97 0h1m-110 1h1m5 0h1m15 0h1m67 0h2m-83 1h1m11 0h1m61 0h1m-77 1h1m5 0h1m2 0h1m12 0h1m1 0h1m63 0h1m6 0h1m-102 1h1m100 0h1m6 0h1m-88 1h1m-19 1h1m18 0h1m52 0h1m-72 1h1m5 0h1m11 0h1m52 0h1m-55 1h2m12 0h1m-18 1h1m-12 1h1m24 0h1m46 0h1m-72 1h1m10 0h1m11 0h1m29 0h1m-43 1h1m8 0h1m13 0h1m1 0h1m15 0h2m10 0h1m24 0h1m9 0h1m-47 1h1m3 0h2m7 0h1m-25 1h1m10 0h1m9 0h1m32 0h1m-83 1h1m31 0h1m45 0h1m-99 1h1m8 0h1m10 0h1m25 0h2m56 0h1m-105 1h2m84 0h1m-86 1h1m77 0h1m-78 1h2m5 0h1m2 0h1m8 0h1m16 0h1m5 0h1m10 0h1m47 0h1m-101 1h1m1 0h1m32 0h2m-34 1h1m4 0h1m2 0h5m1 0h1m37 0h1m14 0h1m28 0h1m-99 1h1m2 0h1m17 0h1m73 0h1m1 0h1m-97 1h1m2 0h1m9 0h1m13 0h1m51 0h1m15 0h2m-95 1h1m2 0h1m14 0h1m4 0h1m13 0h1m46 0h1m6 0h3m-35 1h2m14 0h1m9 0h1m4 0h4m-87 1h1m16 0h3m32 0h1m30 0h1m1 0h1m-82 1h1m10 0h3m33 0h1m1 0h1m23 0h1m4 0h1m-76 1h1m32 0h1m9 0h1m9 0h1m20 0h1m-82 1h1m34 0h1m24 0h1m3 0h1m7 0h1m-57 1h1m16 0h1m10 0h1m-20 1h1m27 0h1m5 0h1m1 0h1m5 0h2m-50 1h1m5 0h1m3 0h1m8 0h1m20 0h1m8 0h2m2 0h1m-44 1h1m18 0h1m16 0h1m-37 1h1m4 0h1m11 0h1m6 0h1m11 0h1m-38 1h1m3 0h1m11 0h1m13 0h2m8 0h1m-40 1h1m10 0h1m18 0h1m-49 1h3m5 0h1m25 0h2m15 0h1m1 0h1m-52 1h3m15 0h4m7 0h1m11 0h1m4 0h5m-49 1h6m10 0h2m6 0h1m14 0h1m3 0h4m-28 1h3m16 0h1m1 0h2m-7 1h5m-7 1h5"/><path stroke="#d5dadc" d="M0 0m70 0h1m-5 1h1m6 1h1m-29 1h1m14 0h1m-12 1h1m4 0h1m16 0h2m-26 1h1m4 0h1m-15 2h1m42 0h1m6 0h1m-6 1h2m3 1h1m-63 2h1m10 0h1m55 0h1m-61 1h1m-1 1h1m59 0h1m-61 1h1m2 0h1m55 0h1m12 0h2m-85 1h1m8 0h2m73 0h2m-2 1h1m-88 1h1m9 1h1m1 0h2m-2 1h1m-7 1h1m1 0h1m76 1h1m-89 1h1m93 0h1m-96 1h1m15 0h1m-7 1h1m5 0h1m81 0h1m-100 1h1m97 0h2m-96 1h1m0 1h1m89 0h1m5 0h1m-103 1h1m14 0h1m87 0h1m-99 1h1m10 0h1m74 0h1m-93 1h1m86 0h1m5 0h1m11 0h1m-106 1h1m3 0h1m88 0h1m-94 1h1m105 0h1m-108 1h1m7 0h1m81 0h1m11 0h1m3 0h2m-108 1h1m9 0h1m81 0h1m15 0h1m-109 1h2m6 0h1m-12 1h1m16 0h1m92 0h2m-112 1h1m19 0h1m80 0h1m7 0h2m1 0h1m-113 1h1m3 0h1m95 0h1m8 0h4m-113 1h1m102 0h1m6 0h1m-106 1h1m6 0h1m8 0h1m86 0h1m-89 1h1m-21 1h1m6 0h1m1 0h2m88 0h1m4 0h1m-15 1h1m3 0h1m12 0h1m3 0h2m-114 1h1m111 0h2m-20 1h1m1 0h1m16 0h1m-106 1h1m95 0h1m8 0h1m-108 1h1m1 0h1m86 0h1m5 0h1m11 0h1m-107 1h2m12 0h1m81 0h1m9 0h1m-111 1h1m16 0h1m1 0h1m90 0h1m-84 1h1m1 0h1m51 0h1m16 0h1m11 0h1m-112 1h1m74 0h2m29 0h1m1 0h1m2 0h1m-4 1h1m2 0h1m-91 1h1m13 0h2m48 0h1m22 0h1m2 0h1m-96 1h1m19 0h1m38 0h1m19 0h1m15 0h1m-110 1h1m85 0h1m12 0h1m9 0h1m-109 1h1m15 0h1m56 0h1m28 0h1m-102 1h1m19 0h1m18 0h1m16 0h1m1 0h1m36 0h2m-79 1h1m28 0h2m20 0h1m14 0h1m-84 1h1m29 0h1m5 0h1m18 0h1m3 0h1m6 0h1m-37 1h1m30 0h1m-66 1h2m3 0h1m19 0h1m-26 1h1m5 0h2m72 0h1m3 0h1m2 0h1m-54 1h1m13 0h3m47 0h1m6 0h1m-105 1h1m1 0h1m6 0h1m7 0h1m1 0h1m-19 1h1m35 0h1m-7 1h1m8 0h2m61 0h1m-77 1h1m9 0h1m15 0h1m16 0h1m25 0h1m-81 1h2m32 0h1m34 0h1m16 0h1m-86 1h1m1 0h1m3 0h1m25 0h1m48 0h1m-88 1h1m8 0h1m20 0h1m50 0h1m1 0h1m6 0h1m-48 1h1m5 0h1m30 0h1m-63 1h2m61 0h1m3 0h1m1 0h1m1 0h1m-91 1h1m21 0h1m6 0h1m57 0h3m-89 1h1m29 0h2m30 0h1m11 0h1m10 0h2m-85 1h1m15 0h1m33 0h1m21 0h1m8 0h3m-81 1h1m66 0h1m9 0h3m-56 1h1m3 0h1m8 0h1m40 0h1m-73 1h1m42 0h1m5 0h2m1 0h1m4 0h1m-11 1h1m15 0h1m-27 1h1m-44 1h1m24 0h1m15 0h1m8 0h1m4 0h1m6 0h1m-62 1h4m20 0h2m1 0h1m19 0h1m12 0h1m-58 1h5m9 0h2m3 0h5m7 0h1m9 0h1m11 0h1m1 0h1m3 0h1m-56 1h3m51 0h1m-53 1h3m38 0h1m8 0h2m-41 1h5m5 0h1m3 0h1m14 0h1m4 0h6m-29 1h3m18 0h1m-9 1h1m5 0h1m-11 1h12m-15 1h5m6 0h3m-15 1h4"/><path stroke="#e4e4e4" d="M0 0m56 0h1m3 1h1m17 0h1m-5 1h1m-11 1h1m12 1h1m-29 1h1m3 0h1m12 1h1m-2 1h1m-35 1h1m26 0h2m22 0h1m-24 1h2m18 0h1m-44 1h1m23 0h1m5 0h2m10 0h3m10 0h1m-57 1h1m20 0h1m4 0h1m4 0h1m11 0h2m-23 1h1m4 0h1m14 0h2m23 0h1m-27 1h2m7 0h2m-52 1h1m38 0h2m8 0h3m-57 1h1m17 0h2m31 0h3m21 0h1m-67 1h3m24 0h1m13 0h3m24 0h2m-56 2h2m4 0h1m28 0h2m-72 1h1m41 0h1m-40 1h1m73 0h1m-70 1h1m44 0h1m2 0h6m15 0h1m-79 1h1m78 0h1m-48 1h2m16 0h2m14 0h1m-52 1h1m-3 1h3m2 0h3m27 0h1m49 0h1m-82 1h2m45 1h2m22 0h1m-56 1h2m5 0h1m8 0h1m1 0h1m2 0h1m12 0h2m12 0h1m18 0h1m-107 1h1m26 0h1m10 0h1m6 0h1m12 0h1m3 0h1m11 0h3m17 0h1m4 0h1m7 0h1m-95 1h1m5 0h1m5 0h4m34 0h2m11 0h3m14 0h1m1 0h1m12 0h1m-102 1h1m16 0h3m20 0h1m2 0h1m14 0h1m12 0h1m22 0h1m6 0h2m-111 1h1m24 0h1m25 0h1m48 0h1m9 0h1m-67 1h1m48 0h1m16 0h1m-113 1h1m44 0h2m29 0h2m21 0h1m-100 1h1m44 0h1m31 0h3m28 0h1m-110 1h1m4 0h1m47 0h1m26 0h3m19 0h1m10 0h1m-61 1h1m28 0h3m13 0h1m1 0h1m11 0h1m-114 1h2m11 0h1m40 0h1m-54 1h1m22 0h1m29 0h1m-56 1h1m1 0h2m7 0h1m15 0h1m7 0h2m17 0h2m37 0h1m5 0h1m16 0h1m-115 1h2m7 0h1m23 0h2m10 0h1m24 0h2m8 0h1m11 0h1m21 0h1m-115 1h1m2 0h1m5 0h1m23 0h1m10 0h2m25 0h2m20 0h2m18 0h2m-115 1h1m18 0h1m24 0h1m27 0h1m-69 1h1m39 0h1m70 0h1m-116 1h1m43 0h1m11 0h1m35 0h1m8 0h1m2 0h1m1 0h1m3 0h1m1 0h1m2 0h1m-114 1h1m2 0h1m19 0h1m18 0h1m10 0h2m44 0h1m10 0h1m2 0h1m-89 1h1m15 0h2m10 0h2m48 0h1m6 0h1m2 0h1m1 0h1m1 0h1m-111 1h1m21 0h2m9 0h3m10 0h3m57 0h1m1 0h1m-121 1h2m29 0h1m13 0h3m10 0h3m59 0h2m-122 1h1m21 0h1m23 0h1m12 0h1m20 0h1m39 0h2m1 0h1m-125 1h2m40 0h2m39 0h1m23 0h1m13 0h2m1 0h1m-125 1h2m25 0h1m13 0h3m78 0h1m2 0h1m-126 1h2m98 0h1m24 0h1m-127 1h2m6 0h1m32 0h1m35 0h1m37 0h1m-116 1h1m28 0h1m10 0h1m3 0h1m31 0h2m11 0h1m-46 1h1m23 0h2m48 0h1m-89 1h1m20 0h1m14 0h1m21 0h1m15 0h1m13 0h1m-113 1h1m59 0h1m2 0h1m18 0h1m7 0h1m-91 1h1m44 0h1m17 0h1m12 0h1m21 0h1m9 0h1m2 0h1m-111 1h2m108 0h1m4 0h1m-116 1h1m70 0h1m15 0h2m26 0h3m-92 1h1m16 0h1m28 0h1m36 0h1m5 0h3m-117 1h1m29 0h1m10 0h1m9 0h1m56 0h1m-98 1h1m20 0h2m6 0h1m6 0h1m19 0h1m39 0h2m-108 1h1m3 0h1m29 0h3m23 0h1m45 0h2m-106 1h1m39 0h1m63 0h2m-105 1h1m87 0h1m14 0h2m-93 1h1m20 0h1m69 0h2m-75 1h1m61 0h1m10 0h2m-109 1h2m5 0h1m12 0h1m4 0h1m42 0h1m39 0h1m9 0h1m-129 1h1m1 0h1m6 0h3m7 0h1m19 0h2m63 0h1m7 0h1m-113 1h1m1 0h1m5 0h4m8 0h1m28 0h1m-50 1h1m7 0h4m32 0h1m61 0h1m4 0h1m-104 1h4m64 0h1m32 0h2m-104 1h5m10 0h2m45 0h1m25 0h1m12 0h1m-102 1h4m31 0h1m22 0h1m22 0h1m4 0h1m2 0h1m10 0h1m-101 1h3m19 0h1m73 0h2m1 0h1m4 0h1m-104 1h2m22 0h1m1 0h2m7 0h1m7 0h1m1 0h1m49 0h3m4 0h3m-105 1h2m73 0h2m4 0h1m14 0h1m5 0h3m-105 1h3m72 0h2m4 0h1m10 0h1m9 0h3m-105 1h3m15 0h1m1 0h2m16 0h1m38 0h1m13 0h2m9 0h3m13 0h2m-120 1h3m15 0h2m4 0h2m17 0h1m40 0h1m5 0h2m15 0h1m5 0h1m4 0h1m-118 1h2m16 0h4m16 0h3m5 0h1m17 0h1m5 0h1m5 0h1m11 0h2m15 0h2m4 0h1m5 0h1m-118 1h2m21 0h3m33 0h1m27 0h2m16 0h1m5 0h1m5 0h1m-118 1h2m24 0h2m28 0h1m-56 1h1m36 0h1m40 0h1m-79 1h1m47 0h1m15 0h1m6 0h1m2 0h3m-30 1h2m12 0h1m7 0h1m-41 1h1m27 0h1m12 0h2m-44 1h3m23 0h1m10 0h1m3 0h2m40 0h1m-116 1h1m20 0h3m8 0h3m22 0h1m4 0h1m6 0h3m42 0h1m-94 1h3m8 0h2m13 0h1m9 0h6m-62 1h1m20 0h2m22 0h2m37 0h4m-75 1h2m69 0h4m-87 1h1m2 0h1m7 0h4m42 0h1m24 0h6m-84 1h1m7 0h4m40 0h3m23 0h5m6 0h2m-94 1h1m11 0h2m40 0h5m22 0h4m5 0h5m-41 1h6m30 0h5m-54 1h1m12 0h6m29 0h5m9 0h2m-65 1h4m10 0h6m29 0h4m9 0h3m-65 1h5m10 0h5m30 0h2m10 0h3m1 0h1m-67 1h5m13 0h2m41 0h6m-65 1h3m56 0h2m1 0h2m-46 1h3m28 0h3m9 0h2m-45 1h4m26 0h4m9 0h1m-43 1h2m26 0h4m11 0h1m-17 1h5m10 0h2m-92 1h1m23 0h1m51 0h3m10 0h2m-91 1h2m87 0h1m-91 1h4m49 0h4m-56 1h3m6 0h3m38 0h6m-55 1h2m7 0h2m37 0h6m-6 1h5m10 0h4m-46 1h4m23 0h3m12 0h3m-45 1h5m-4 1h5m-4 1h4m-20 1h1m15 0h4m-19 1h1m15 0h4m12 0h3m27 0h1m-45 1h3m39 0h2m-59 1h1m3 0h1m12 0h2m39 0h1m-58 1h2m3 0h1m10 0h2m16 0h3m-35 1h2m11 0h5m14 0h3m-20 1h4m25 1h3m-30 1h3m23 0h1m1 0h2m-24 2h3"/><path stroke="#ece1de" d="M0 0m55 0h1m-9 2h1m4 1h1m8 0h1m1 0h1m-1 1h1m12 0h1m-26 1h1m3 0h3m3 0h3m-28 1h1m15 0h1m9 0h1m11 0h2m-25 1h1m9 0h2m11 0h4m1 0h1m5 0h1m-51 1h1m8 0h1m2 0h3m12 0h2m8 0h3m6 0h1m-37 1h1m16 0h2m7 0h2m-29 1h1m18 0h1m6 0h2m11 0h2m-42 1h2m13 0h2m3 0h1m6 0h1m11 0h6m3 0h1m-33 1h1m9 0h1m11 0h3m3 0h1m1 0h1m-56 1h3m3 0h1m9 0h1m9 0h1m18 0h4m6 0h1m5 0h1m8 0h1m-66 1h1m10 0h3m25 0h4m7 0h2m-57 1h1m2 0h2m18 0h1m18 0h3m8 0h4m-58 1h1m3 0h1m20 0h1m11 0h1m15 0h5m-59 1h1m3 0h1m68 0h1m2 0h2m-76 1h3m72 0h1m-93 1h1m16 0h3m6 0h4m2 0h5m7 0h1m2 0h1m-48 1h1m17 0h2m21 0h1m3 0h1m1 0h1m2 0h1m6 0h3m16 0h1m16 0h1m1 0h1m-86 1h1m7 0h1m28 0h1m1 0h1m26 0h2m17 0h2m-80 1h1m33 0h1m24 0h2m18 0h1m-82 1h1m1 0h1m31 0h1m3 0h4m20 0h1m18 0h1m-81 1h1m61 0h1m18 0h1m-102 1h1m11 0h4m17 0h3m31 0h4m11 0h1m9 0h1m-67 1h1m4 0h2m6 0h1m5 0h1m7 0h1m16 0h2m10 0h1m19 0h1m-92 1h1m11 0h5m1 0h3m12 0h1m7 0h1m29 0h1m1 0h1m18 0h1m-106 1h2m21 0h4m18 0h1m10 0h1m1 0h1m25 0h3m-65 1h3m24 0h1m9 0h2m4 0h2m18 0h2m-67 1h1m1 0h2m22 0h1m2 0h1m10 0h1m5 0h2m4 0h2m11 0h1m-67 1h1m1 0h2m15 0h1m9 0h1m23 0h3m18 0h1m8 0h1m-81 1h1m25 0h1m24 0h4m15 0h1m10 0h1m-88 1h1m5 0h1m3 0h2m20 0h1m26 0h7m3 0h1m18 0h1m-96 1h1m6 0h1m3 0h2m2 0h3m51 0h8m4 0h1m-85 1h2m13 0h1m1 0h3m21 0h1m33 0h3m1 0h1m7 0h1m1 0h1m13 0h1m-105 1h1m17 0h2m22 0h1m34 0h2m5 0h2m-75 1h1m1 0h1m64 0h1m-86 1h1m16 0h1m3 0h1m3 0h2m65 0h1m19 0h1m-106 1h1m14 0h1m2 0h2m27 0h1m31 0h1m1 0h1m5 0h1m2 0h1m9 0h1m5 0h1m-89 1h3m25 0h2m17 0h3m6 0h3m2 0h1m3 0h1m22 0h2m-92 1h1m4 0h1m24 0h2m18 0h3m5 0h2m5 0h1m2 0h1m13 0h1m5 0h1m1 0h2m-121 1h1m1 0h1m31 0h1m44 0h3m5 0h1m6 0h1m25 0h2m-122 1h1m1 0h1m31 0h2m4 0h1m40 0h2m4 0h1m4 0h1m16 0h1m11 0h1m-123 1h1m1 0h2m30 0h1m1 0h1m3 0h2m10 0h1m17 0h2m15 0h1m5 0h1m28 0h1m-123 1h1m1 0h2m17 0h1m15 0h6m9 0h1m17 0h2m14 0h2m-86 1h1m35 0h5m21 0h2m18 0h2m1 0h1m11 0h1m11 0h1m11 0h1m-123 1h1m3 0h1m8 0h2m11 0h1m14 0h1m21 0h2m16 0h2m2 0h3m19 0h1m2 0h1m7 0h1m-87 1h1m9 0h1m20 0h3m14 0h2m36 0h1m-116 1h1m1 0h1m36 0h1m8 0h2m10 0h3m13 0h1m36 0h1m-114 1h1m8 0h1m13 0h1m6 0h1m17 0h2m11 0h2m11 0h2m1 0h1m29 0h1m5 0h1m1 0h1m-116 1h1m1 0h1m28 0h1m6 0h1m8 0h4m11 0h2m6 0h4m39 0h1m1 0h1m-84 1h1m8 0h1m2 0h3m3 0h1m11 0h4m3 0h2m1 0h2m7 0h1m22 0h1m8 0h1m1 0h1m-115 1h1m30 0h1m7 0h1m10 0h2m2 0h1m6 0h2m1 0h4m44 0h1m1 0h1m-115 1h3m26 0h1m9 0h1m10 0h2m4 0h2m5 0h2m1 0h1m20 0h1m2 0h1m21 0h1m1 0h1m-114 1h2m47 0h1m11 0h1m14 0h1m34 0h1m1 0h1m4 0h2m-120 1h1m20 0h5m24 0h1m2 0h1m6 0h1m3 0h1m5 0h1m38 0h1m1 0h1m6 0h2m-90 1h1m15 0h1m4 0h1m1 0h1m18 0h2m3 0h1m13 0h1m-96 1h1m8 0h1m40 0h1m7 0h1m12 0h2m9 0h1m-83 1h1m5 0h2m16 0h1m47 0h1m17 0h1m2 0h1m22 0h1m-85 1h1m32 0h1m24 0h1m15 0h1m10 0h1m-70 1h1m3 0h2m58 0h1m4 0h1m-82 1h1m45 0h1m34 0h1m-101 1h1m95 0h1m3 0h1m-88 1h1m24 0h1m12 0h1m5 0h1m29 0h1m12 0h2m-116 1h2m34 0h1m13 0h1m63 0h2m-116 1h2m32 0h1m13 0h1m60 0h1m4 0h2m-110 1h1m35 0h1m64 0h1m6 0h2m-119 1h1m9 0h1m10 0h1m4 0h1m29 0h1m19 0h1m10 0h1m23 0h1m8 0h1m-121 1h1m48 0h1m18 0h1m10 0h1m-80 1h2m27 0h1m8 0h1m39 0h1m30 0h2m-111 1h2m8 0h1m3 0h1m18 0h1m4 0h2m43 0h1m6 0h1m18 0h1m-109 1h1m8 0h2m2 0h1m-4 1h2m2 0h2m24 0h1m3 0h1m-32 1h1m19 0h4m27 0h1m-51 1h2m45 0h1m37 0h1m11 0h1m10 0h1m-108 1h1m1 0h3m1 0h1m21 0h2m18 0h1m26 0h1m20 0h1m-112 1h1m15 0h1m30 0h1m12 0h1m4 0h3m-68 1h1m7 0h2m7 0h1m8 0h1m9 0h1m44 0h1m-82 1h2m5 0h3m8 0h2m21 0h1m1 0h1m36 0h1m-81 1h2m5 0h4m11 0h1m71 0h1m6 0h1m-101 1h1m6 0h2m16 0h1m17 0h2m7 0h1m8 0h1m13 0h1m12 0h1m10 0h2m-101 1h1m6 0h2m20 0h2m1 0h7m4 0h1m37 0h1m16 0h2m-50 1h1m47 0h2m-34 1h1m5 0h1m11 0h1m4 0h1m8 0h1m-35 1h1m1 0h1m21 0h1m29 0h1m-112 1h2m17 0h4m18 0h1m1 0h1m13 0h1m1 0h1m16 0h1m1 0h2m-80 1h3m16 0h3m6 0h7m3 0h1m4 0h1m13 0h1m17 0h3m32 0h1m-111 1h4m15 0h3m51 0h3m-85 1h1m2 0h1m6 0h4m39 0h1m25 0h3m-72 1h4m27 0h5m5 0h1m7 0h1m-49 1h3m27 0h3m7 0h3m3 0h1m9 0h1m-27 1h3m10 0h3m10 1h4m-4 1h4m-4 1h4m32 0h2m8 0h4m-64 1h2m12 0h4m32 0h1m8 0h4m-110 1h1m31 0h1m13 0h3m13 0h3m9 0h2m30 0h4m-109 1h1m43 0h4m14 0h2m41 0h1m1 0h1m-107 1h1m43 0h3m15 0h1m-63 1h1m12 0h3m29 0h2m33 0h3m-70 1h4m29 0h2m31 0h4m12 0h2m-83 1h3m29 0h4m29 0h4m11 0h3m-95 1h1m12 0h3m28 0h5m42 0h4m-94 1h1m42 0h6m41 0h3m-93 1h2m42 0h5m41 0h2m-91 1h1m9 1h2m55 2h4m-34 1h2m27 0h5m-36 1h4m26 0h4m8 0h4m-47 1h4m26 0h4m10 0h3m-68 1h2m7 0h2m40 0h3m-59 1h1m5 0h3m5 0h3m38 0h2m-56 1h1m5 0h3m4 0h4m-16 1h1m6 0h1m6 0h2m11 0h4m43 0h1m-74 1h1m25 0h5m35 0h1m4 0h2m-72 1h1m24 0h6m32 0h1m5 0h1m1 0h1m-45 1h3m-1 1h2m-2 1h5m-4 1h6m-5 1h5m25 0h1m-44 1h3m38 0h1m-44 1h1m3 0h3m22 1h5m-6 1h3"/><path stroke="#e7d4cf" d="M0 0m60 0h2m-9 1h1m-9 1h1m16 1h1m3 0h1m4 0h1m2 0h1m-27 1h1m11 0h1m3 0h2m3 0h1m4 0h2m5 0h1m-42 1h1m32 0h1m-34 1h1m10 0h1m24 0h2m9 0h1m-42 1h1m2 0h2m-19 1h1m52 0h1m-42 1h1m38 0h1m3 0h1m6 0h1m-55 1h1m1 0h2m-3 1h2m-18 1h1m8 0h1m6 0h1m48 0h1m2 0h1m-55 1h1m-17 1h1m-1 1h1m67 0h1m2 0h1m-67 1h1m62 0h1m-71 1h1m11 0h1m58 0h1m3 0h1m-75 1h1m70 0h1m12 0h1m3 0h1m-79 1h2m60 0h1m6 0h1m3 0h1m5 0h1m-92 1h1m13 0h1m61 0h1m-80 1h2m15 0h1m60 1h1m16 0h1m-84 1h1m3 0h1m61 0h1m1 0h1m-70 1h1m67 1h1m17 0h1m-102 1h1m14 0h1m67 0h2m-85 1h1m14 0h1m3 0h1m63 0h1m-65 1h1m-3 1h3m80 0h1m3 0h1m-102 1h1m1 0h1m6 0h1m1 0h1m4 0h1m64 0h2m-71 1h2m1 0h1m64 0h4m16 0h1m1 0h1m-87 1h1m63 0h1m2 0h1m6 0h1m-98 1h1m4 0h1m11 0h1m1 0h1m2 0h2m66 0h2m4 0h1m13 0h1m-106 1h1m13 0h1m1 0h1m66 0h1m1 0h2m-70 1h1m63 0h1m1 0h1m1 0h3m-87 1h1m17 0h1m61 0h3m-89 1h1m24 0h1m60 0h2m3 0h1m-80 1h1m11 0h1m61 0h3m11 0h1m-101 1h1m86 0h1m1 0h1m2 0h1m-72 1h2m61 0h1m2 0h1m20 0h1m2 0h1m-106 1h1m6 0h1m10 0h1m2 0h1m55 0h1m1 0h3m4 0h1m16 0h1m-87 1h1m3 0h1m54 0h1m2 0h3m5 0h1m-81 1h1m9 0h1m3 0h1m54 0h1m2 0h1m1 0h2m16 0h1m-93 1h2m8 0h1m57 0h1m3 0h1m1 0h1m13 0h1m1 0h1m2 0h1m1 0h1m-86 1h2m2 0h3m51 0h1m3 0h2m14 0h1m-95 1h1m8 0h2m7 0h1m4 0h1m50 0h1m19 0h1m1 0h1m-74 1h5m42 0h2m3 0h4m9 0h1m-98 1h1m28 0h2m3 0h1m2 0h1m40 0h1m3 0h1m7 0h1m2 0h1m3 0h1m-98 1h1m36 0h1m40 0h1m4 0h1m6 0h1m4 0h1m1 0h1m10 0h1m5 0h1m-115 1h2m35 0h1m37 0h1m-76 1h1m25 0h1m5 0h1m40 0h1m2 0h1m7 0h1m11 0h1m2 0h1m1 0h1m-102 1h1m29 0h1m10 0h2m3 0h3m21 0h1m2 0h1m26 0h1m-88 1h1m8 0h1m2 0h1m10 0h1m3 0h1m2 0h7m13 0h1m4 0h1m1 0h1m22 0h1m-72 1h1m17 0h1m2 0h2m4 0h1m8 0h5m-60 1h1m17 0h2m5 0h1m1 0h1m9 0h1m8 0h1m5 0h1m4 0h2m4 0h1m6 0h1m-72 1h3m12 0h1m12 0h1m13 0h7m9 0h1m9 0h1m1 0h2m20 0h1m3 0h1m-97 1h4m16 0h1m16 0h1m3 0h1m4 0h1m2 0h1m13 0h1m3 0h4m2 0h1m18 0h1m15 0h1m-109 1h3m17 0h2m28 0h1m12 0h3m2 0h1m5 0h1m1 0h1m-74 1h2m16 0h1m18 0h1m4 0h1m13 0h1m49 0h1m-107 1h2m31 0h1m12 0h1m31 0h1m12 0h1m14 0h1m-107 1h1m1 0h1m71 0h1m3 0h1m11 0h1m3 0h1m10 0h1m-103 1h1m47 0h1m48 0h1m3 0h2m-105 1h1m3 0h3m15 0h1m9 0h1m70 0h1m-103 1h1m14 0h1m86 0h1m-101 1h1m2 0h1m22 0h1m72 0h2m-100 1h1m97 0h1m-98 1h1m2 0h1m10 0h1m77 0h1m4 0h1m-97 1h1m11 0h4m42 0h1m36 0h1m-88 1h1m17 0h1m33 0h1m10 0h1m23 0h1m-59 1h1m-13 1h1m11 0h1m24 0h1m25 0h1m-89 1h1m18 0h1m7 0h3m11 0h1m19 0h1m5 0h1m-57 1h1m6 1h1m4 0h1m-2 1h1m26 0h1m25 0h1m6 0h1m-81 1h1m3 0h1m17 0h1m2 0h2m2 0h1m6 0h1m8 0h2m6 0h1m4 0h1m20 0h1m2 0h1m-82 1h2m29 0h2m11 0h2m5 0h1m28 0h1m-80 1h2m76 0h1m-77 1h3m16 0h2m3 0h1m3 0h1m46 0h1m-73 1h3m11 0h6m4 0h1m7 0h1m21 0h1m3 0h1m1 0h1m-57 1h1m9 0h2m42 0h1m1 0h1m8 0h1m-61 1h1m7 0h4m37 0h1m6 0h1m2 0h1m-36 1h1m12 0h1m20 0h1m-5 1h1m2 0h1m-29 1h1m6 0h1m3 0h1m12 0h4m-39 1h1m13 0h1m3 0h3m14 0h1m-39 1h4m7 0h1m5 0h1m-9 1h1m6 0h1m-11 1h1m5 0h2m-10 1h7m-5 1h3"/><path stroke="#e0c1b6" d="M0 0m54 0h1m4 0h1m8 0h1m-4 1h1m13 0h1m-29 1h1m5 0h1m8 0h1m11 0h1m-29 2h1m4 0h1m2 0h2m6 0h3m-19 1h1m23 0h4m12 1h1m-57 1h1m9 0h1m2 0h2m-9 1h1m2 1h1m41 1h1m2 0h1m-60 1h1m10 0h1m47 0h1m11 0h1m-74 1h1m2 0h1m6 0h1m2 0h1m62 0h1m-80 1h1m12 0h2m55 0h1m-66 1h1m-6 1h1m2 0h2m63 0h2m-72 1h1m9 0h1m1 0h3m55 0h3m5 0h2m3 0h1m-72 1h2m59 0h1m1 0h1m-70 1h1m4 2h1m73 0h1m-80 1h1m70 0h1m-69 1h3m-17 1h1m78 0h1m-82 1h1m80 0h1m11 0h1m-91 1h1m81 0h1m-70 1h1m76 0h1m-5 1h1m-2 1h1m-91 1h1m3 0h1m93 1h1m3 0h1m-99 1h1m88 0h1m4 0h1m2 0h1m-96 1h1m8 0h4m65 0h2m13 0h1m-84 1h2m66 0h2m10 0h1m-101 1h1m3 0h1m15 0h1m68 0h1m10 0h1m-101 1h1m19 0h2m67 0h1m10 0h1m5 0h1m-107 1h1m9 0h1m6 0h1m2 0h1m1 0h2m65 0h2m6 0h1m9 0h1m-98 1h1m6 0h1m3 0h1m2 0h1m63 0h2m-68 1h2m65 0h1m1 0h1m9 0h1m-12 1h1m2 0h1m5 0h2m-101 1h1m14 0h1m76 0h1m-82 1h1m10 0h1m2 0h2m57 0h1m-63 1h1m1 0h1m58 0h2m24 0h1m-88 1h1m1 0h1m1 0h1m56 0h2m14 0h4m5 0h1m-85 1h3m55 0h3m3 0h1m7 0h1m-97 1h1m1 0h1m4 0h1m2 0h1m14 0h2m55 0h1m4 0h2m14 0h1m2 0h1m-81 1h4m52 0h1m2 0h2m1 0h1m2 0h1m3 0h1m10 0h1m-98 1h1m16 0h1m2 0h1m58 0h1m20 0h1m-109 1h1m31 0h2m42 0h3m16 0h1m9 0h1m2 0h1m-78 1h1m44 0h1m31 0h1m-84 1h1m4 0h1m45 0h1m10 0h1m6 0h1m4 0h1m8 0h1m-38 1h2m30 0h1m4 0h1m-103 1h1m4 0h1m17 0h1m3 0h1m39 0h1m19 0h1m14 0h1m-102 1h1m30 0h2m26 0h1m3 0h1m2 0h1m13 0h1m6 0h1m5 0h1m7 0h1m-100 1h1m7 0h2m9 0h1m3 0h1m5 0h2m2 0h4m18 0h1m2 0h1m2 0h1m2 0h1m16 0h1m9 0h1m7 0h1m-86 1h2m13 0h8m7 0h4m10 0h1m16 0h1m10 0h1m2 0h1m5 0h1m3 0h1m-79 1h1m6 0h1m2 0h1m11 0h1m10 0h1m7 0h1m2 0h1m5 0h1m27 0h1m-96 1h1m6 0h1m25 0h2m4 0h1m4 0h1m5 0h1m14 0h1m16 0h1m12 0h1m-107 1h1m6 0h1m35 0h1m2 0h1m4 0h1m3 0h1m11 0h1m14 0h1m6 0h1m15 0h2m-23 1h1m1 0h1m14 0h1m3 0h1m-95 1h1m25 0h1m4 0h1m9 0h1m31 0h1m9 0h1m10 0h1m-105 1h1m9 0h1m22 0h1m4 0h1m23 0h1m18 0h1m-82 1h2m9 0h1m26 0h1m16 0h1m11 0h1m28 0h1m-96 1h3m3 0h1m41 0h1m18 0h1m4 0h1m-72 1h2m23 0h1m4 0h1m3 0h1m10 0h1m43 0h1m-72 1h1m24 0h1m30 0h2m12 0h1m4 0h1m-69 1h1m15 0h2m20 0h1m-29 1h1m12 0h1m33 0h1m-44 1h2m12 0h1m15 0h1m16 0h1m-81 1h1m24 0h1m5 0h1m3 0h1m2 0h1m17 0h1m-35 1h2m6 0h1m36 0h1m-53 1h1m8 0h1m-19 1h1m28 0h1m-19 1h1m7 0h3m11 0h1m18 0h1m5 0h1m-52 1h3m13 0h1m3 0h1m5 0h1m5 0h1m10 0h1m5 0h1m7 0h1m3 0h1m6 0h1m-52 1h2m14 0h1m7 0h1m-32 1h2m5 0h1m-28 1h5m39 0h2m4 0h1m24 0h1m-75 1h6m39 0h4m1 0h1m13 0h1m8 0h1m1 0h1m-73 1h16m6 0h3m9 0h1m8 0h1m14 0h1m1 0h1m8 0h1m1 0h1m-69 1h5m3 0h3m6 0h4m17 0h1m10 0h2m5 0h1m8 0h3m-66 1h9m36 0h1m8 0h1m7 0h2m-40 1h1m18 0h1m17 0h2m-39 1h1m34 0h3m-22 1h1m3 0h1m14 0h2m-27 1h3m4 0h3m-13 1h2m2 0h1m-5 1h5m-7 1h6m-9 1h5"/><path stroke="#d7a491" d="M0 0m52 0h2m3 0h1m11 0h1m-9 1h1m15 0h1m-30 1h1m15 0h1m16 0h1m-41 1h1m9 0h1m6 0h1m8 0h1m2 0h1m9 0h1m6 0h1m-37 1h1m4 0h2m26 0h1m3 0h1m-50 1h1m40 0h1m7 0h1m-54 1h1m14 0h1m27 0h1m2 0h1m-49 1h1m1 0h1m9 0h1m-9 1h1m2 1h1m43 0h2m3 0h1m1 0h1m-6 1h1m-53 1h1m4 0h1m58 0h1m2 0h2m-64 1h1m51 0h1m10 1h1m-76 1h2m67 0h2m-69 2h1m65 0h1m-65 1h1m61 0h2m-1 1h1m1 0h2m6 0h1m-84 1h1m5 0h1m67 0h1m-70 1h1m4 0h2m-4 1h1m3 0h1m76 0h2m-94 1h1m11 0h1m-13 1h1m3 0h1m3 0h1m78 0h1m5 0h1m-86 1h1m70 0h1m8 0h1m-92 1h1m8 0h1m72 0h1m0 1h1m10 0h1m-96 1h1m7 0h1m8 0h1m67 0h1m14 0h1m-86 1h3m68 0h1m9 0h1m3 0h1m-100 1h1m93 0h1m5 0h1m-101 1h1m10 0h1m83 0h1m-92 1h1m83 0h1m3 0h1m2 0h1m-97 1h1m12 0h1m76 0h1m11 0h1m-104 1h1m11 0h1m78 0h1m6 0h1m-8 1h1m10 0h1m1 0h1m-105 1h2m12 0h2m83 0h1m4 0h1m-91 1h2m1 0h1m74 0h1m-90 1h1m7 0h2m5 0h2m66 0h1m6 0h1m9 0h1m-101 1h1m82 0h1m6 0h2m8 0h1m-17 1h1m-1 1h1m10 0h1m2 0h1m-106 1h1m19 0h2m73 0h1m2 0h1m9 0h1m-109 1h1m18 0h1m5 0h2m72 0h4m5 0h1m-109 1h2m6 0h1m16 0h1m83 0h1m-110 1h2m5 0h1m4 0h1m2 0h1m6 0h1m77 0h1m4 0h1m3 0h1m-109 1h1m20 0h1m60 0h2m11 0h1m3 0h1m4 0h1m3 0h1m-109 1h2m15 0h1m2 0h1m61 0h2m2 0h1m8 0h1m12 0h1m-109 1h1m1 0h1m23 0h2m57 0h1m4 0h2m3 0h1m9 0h1m-7 1h1m-88 1h2m18 0h2m43 0h3m15 0h1m3 0h1m-99 1h1m9 0h1m5 0h1m15 0h1m43 0h1m14 0h1m-88 1h1m27 0h1m43 0h1m9 0h1m6 0h1m4 0h1m-29 1h2m14 0h1m10 0h1m4 0h1m-100 1h1m1 0h1m19 0h1m2 0h1m2 0h1m38 0h1m20 0h1m-88 1h1m19 0h1m39 0h2m4 0h1m32 0h1m-91 1h1m16 0h1m32 0h3m4 0h1m1 0h1m16 0h1m6 0h1m-60 1h2m13 0h4m7 0h1m1 0h1m5 0h2m5 0h1m4 0h1m5 0h1m5 0h1m2 0h1m2 0h1m-64 1h1m13 0h1m2 0h1m7 0h2m7 0h1m10 0h1m-73 1h1m26 0h1m6 0h2m8 0h1m11 0h1m5 0h1m11 0h1m8 0h1m-84 1h1m6 0h1m8 0h2m5 0h1m9 0h1m2 0h1m5 0h1m2 0h1m11 0h1m6 0h1m14 0h1m2 0h1m6 0h1m-90 1h1m23 0h1m1 0h1m6 0h1m1 0h1m10 0h1m10 0h1m6 0h1m8 0h1m5 0h1m-76 1h1m23 0h1m28 0h1m15 0h1m5 0h1m-66 1h1m9 0h1m54 0h2m-77 1h1m3 0h1m5 0h1m2 0h1m10 0h1m16 0h1m10 0h1m23 0h1m-86 1h2m16 0h1m10 0h1m1 0h1m27 0h1m12 0h1m11 0h2m8 0h1m-95 1h2m22 0h1m17 0h1m15 0h1m25 0h1m-84 1h2m38 0h2m21 0h1m9 0h1m10 0h1m-84 1h2m16 0h1m13 0h10m1 0h1m28 0h1m-72 1h1m3 0h1m23 0h1m4 0h1m2 0h4m47 0h1m1 0h1m-2 1h1m-86 1h1m4 0h1m16 0h1m13 0h1m35 0h1m11 0h1m-73 1h1m10 0h4m9 0h1m-23 1h1m27 0h1m4 0h1m35 0h1m-70 1h1m27 0h1m30 0h1m6 0h1m1 0h1m-63 1h2m4 0h1m17 0h2m35 0h1m-63 1h2m5 0h2m2 0h1m5 0h1m30 0h1m11 0h2m-52 1h1m22 0h1m13 0h1m2 0h1m8 0h2m-15 1h1m1 0h1m9 0h2m-38 1h1m9 0h1m12 0h1m11 0h1m-31 1h2m16 0h1m10 0h1m-63 1h3m20 1h1m6 0h1m12 0h2m-23 1h1m4 0h1m13 0h3m-22 1h3m14 0h4m-5 1h3m-11 2h2"/><path stroke="#cb7c63" d="M0 0m58 0h1m21 1h2m-38 1h1m20 0h1m16 0h1m-36 1h1m8 0h1m11 0h2m5 0h1m9 0h2m2 1h1m-12 1h2m7 0h1m2 0h1m-57 1h1m2 0h1m9 0h3m29 0h2m-43 2h1m47 0h1m8 0h1m-59 1h1m48 0h1m9 0h1m1 0h2m-13 1h1m12 0h1m-73 1h1m1 0h1m7 0h1m50 0h2m-53 1h1m58 0h1m0 3h2m-74 1h2m75 0h1m-76 1h1m77 0h1m-83 1h1m70 0h1m3 0h1m-75 1h1m80 0h1m-10 1h1m-67 1h2m67 0h1m-81 1h1m-5 1h1m87 0h1m-87 1h1m4 0h1m3 0h1m70 0h1m-1 1h1m8 0h1m1 0h1m-81 1h2m70 0h1m4 0h1m6 0h1m-91 1h1m6 0h1m71 0h1m-89 1h1m93 0h2m2 0h1m-12 1h1m1 0h1m7 0h1m-95 1h1m84 0h2m8 0h2m-94 1h1m6 0h1m-15 1h1m94 0h1m2 0h1m-88 1h1m82 0h1m4 0h1m-8 1h1m7 0h1m-9 1h1m-93 1h1m99 1h1m-97 1h2m-6 1h1m7 0h1m3 0h1m81 0h1m2 0h1m3 0h1m-101 1h2m5 0h1m80 0h2m3 0h3m-89 1h1m80 0h1m5 0h4m-93 1h1m10 0h1m73 0h1m-87 1h1m8 0h1m75 0h1m-87 1h1m7 0h1m78 1h1m-88 1h2m90 0h1m4 0h1m-104 1h1m84 0h1m12 0h1m4 0h1m-104 1h3m81 0h1m18 0h1m-104 1h2m1 0h1m80 0h1m18 0h1m-103 1h1m11 0h1m16 0h2m62 0h1m8 0h1m-103 1h2m11 0h1m3 0h1m6 0h1m3 0h3m71 0h1m-102 1h3m13 0h1m10 0h1m1 0h1m61 0h1m1 0h1m2 0h1m4 0h1m-100 1h1m5 0h1m3 0h2m55 0h1m5 0h1m18 0h2m4 0h2m-99 1h3m5 0h1m8 0h1m48 0h1m8 0h1m15 0h2m4 0h1m-98 1h1m21 0h1m43 0h1m18 0h1m4 0h1m6 0h1m-76 1h2m35 0h1m37 0h1m-67 1h2m15 0h2m18 0h1m4 0h1m6 0h1m15 0h2m-68 1h3m15 0h2m21 0h1m11 0h1m12 0h2m-93 1h1m24 0h1m1 0h1m7 0h2m7 0h2m10 0h1m27 0h1m6 0h1m-85 1h1m1 0h1m9 0h1m6 0h1m8 0h1m19 0h1m34 0h2m-89 1h2m10 0h1m3 0h1m6 0h3m14 0h1m3 0h1m34 0h1m6 0h1m1 0h1m-74 1h1m10 0h1m28 0h1m-42 1h1m7 0h1m32 0h1m18 0h1m2 0h1m7 0h1m1 0h1m-73 1h1m7 0h1m13 0h1m4 0h1m14 0h1m4 0h1m11 0h1m4 0h1m-70 1h1m5 0h1m19 0h1m37 0h1m1 0h1m1 0h1m-70 1h1m5 0h1m20 0h1m13 0h1m14 0h2m9 0h2m6 0h1m1 0h1m-78 1h1m27 0h1m23 0h1m23 0h1m-89 1h3m25 0h1m2 0h1m55 0h1m-87 1h1m3 0h1m20 0h1m3 0h1m5 0h2m19 0h1m5 0h1m2 0h1m1 0h1m6 0h1m3 0h1m6 0h1m-62 1h1m3 0h1m6 0h2m24 0h1m2 0h2m18 0h1m-82 1h1m4 0h5m22 0h2m23 0h1m3 0h1m8 0h1m2 0h1m6 0h2m-79 1h1m7 0h1m20 0h1m23 0h1m12 0h1m2 0h1m6 0h2m-75 1h1m4 0h1m32 0h1m10 0h1m12 0h1m10 0h1m-60 1h4m6 0h1m22 0h1m3 0h1m9 0h1m10 0h1m-60 1h1m3 0h1m5 0h1m21 0h1m3 0h1m10 0h1m1 0h1m-41 1h4m34 0h1m-15 1h1m11 0h1m-2 1h1m-28 2h1m6 0h1m-9 1h1m4 0h1m-7 1h1m2 0h1"/><path stroke="#ba4d39" d="M0 0m62 1h1m1 0h1m-16 1h1m9 0h1m23 0h2m-35 1h1m6 0h1m20 0h2m-39 1h1m49 1h1m-48 1h1m43 0h1m4 0h2m-59 1h1m58 0h1m-4 1h1m3 0h2m-3 1h1m-62 1h1m3 0h2m56 0h1m1 0h1m0 1h1m-72 1h1m63 0h1m8 0h1m-75 1h1m1 0h1m70 2h1m-78 1h1m6 0h2m-10 1h1m4 0h1m1 0h1m74 0h1m0 1h1m1 0h1m-12 1h1m11 0h1m0 1h1m-90 1h1m9 0h1m-2 1h1m-9 1h1m6 0h1m76 1h1m6 0h1m-14 1h1m-76 1h1m74 0h1m-71 1h1m70 0h1m6 0h1m2 0h1m-10 1h1m-88 1h1m-2 1h1m-1 1h2m8 0h1m2 1h1m-4 1h1m84 1h1m3 0h1m-99 2h1m99 0h1m-102 1h1m1 0h1m-3 1h1m9 2h1m86 0h1m-8 1h1m-83 1h1m7 0h1m73 0h1m-85 1h1m1 0h1m8 0h1m73 0h1m-86 1h2m9 0h1m73 0h1m-88 1h2m5 0h1m5 0h1m-3 1h2m66 2h1m4 0h1m-89 1h1m87 0h1m-89 1h2m13 0h1m59 0h3m4 0h1m-82 1h1m11 0h1m61 0h1m13 0h1m2 0h1m-81 1h1m10 0h1m4 0h1m46 0h1m2 0h1m10 0h1m-81 1h1m4 0h2m11 0h2m64 0h1m2 0h1m-90 1h1m13 0h1m4 0h1m1 0h1m63 0h1m3 0h1m-93 1h1m22 0h1m48 0h1m19 0h1m-93 1h1m0 1h1m3 0h1m77 0h1m-54 2h1m30 0h1m16 0h1m-59 1h1m27 0h1m1 0h1m30 0h1m5 0h1m-78 1h1m2 0h1m67 0h1m12 0h1m-87 1h1m4 0h1m6 0h2m8 0h3m48 0h1m4 0h1m1 0h1m4 0h2m-75 1h1m9 0h3m27 0h1m2 0h1m19 0h1m2 0h1m6 0h1m-75 1h1m1 0h1m40 0h1m20 0h1m8 0h2m-46 1h1m15 0h1m4 0h1m1 0h1m10 0h1m9 0h2m-73 1h1m22 0h1m2 0h1m21 0h1m1 0h1m9 0h2m9 0h1m-76 1h3m36 0h1m4 0h1m9 0h3m7 0h4m6 0h1m-59 1h2m33 0h1m1 0h2m1 0h1m6 0h1m-75 1h3m22 0h3m34 0h2m1 0h1m-65 1h4m19 0h3m16 0h1m4 0h1m12 0h2m10 0h1m2 0h1m-74 1h4m53 0h3m-57 1h3m3 0h1m23 0h1m22 0h4m9 0h1m-64 1h4m20 0h1m24 0h4m9 0h2m-37 1h1m19 0h3m11 0h2m-50 1h3m7 0h1m2 0h1m18 0h3m12 0h1m-17 1h1m13 0h1m-16 1h2m-12 1h1m3 0h1m-2 1h1m-2 1h1m-7 1h4m-5 1h2"/><path stroke="#9a2125" d="M0 0m63 1h1m-14 1h1m7 0h1m-17 1h2m32 0h2m-32 1h1m35 0h1m-38 1h2m-9 1h2m6 0h1m42 0h1m-53 1h1m51 0h1m-54 1h1m50 0h2m4 0h1m-58 1h1m2 0h1m-5 1h1m57 0h1m-65 2h1m-2 1h1m69 0h1m0 1h2m-76 3h2m3 0h1m-6 1h3m70 0h1m-73 1h1m70 0h2m-1 1h1m-72 2h2m75 0h1m-86 4h1m80 0h1m9 0h1m-10 1h1m6 0h1m2 0h1m-10 1h1m-1 1h1m-89 1h1m6 1h2m1 0h3m-2 1h1m81 0h1m-88 1h1m1 0h1m85 0h1m4 2h1m-97 1h2m94 0h1m-97 1h1m96 0h1m-100 1h1m6 0h4m88 0h1m-101 1h2m6 0h1m1 0h1m-3 1h1m-3 2h1m-1 1h1m7 0h2m-12 1h1m7 0h1m-2 1h2m69 4h1m-75 1h2m77 0h1m-75 1h1m6 0h2m53 0h2m4 0h1m5 0h1m-80 1h1m3 0h1m1 0h1m4 0h1m71 0h1m-83 1h2m8 0h1m1 0h1m55 0h1m13 0h1m-83 1h1m16 0h1m60 0h1m4 0h1m-89 1h3m18 0h1m50 0h1m5 1h1m-77 2h2m73 0h1m3 1h1m-71 1h1m8 0h2m26 0h1m10 0h2m26 0h1m-69 1h3m25 0h3m8 0h1m1 0h1m20 0h1m5 0h1m-42 1h1m2 0h1m7 0h1m2 0h1m20 0h2m-38 1h1m10 0h1m1 0h1m12 0h1m9 0h1m4 0h1m-68 1h1m24 0h1m10 0h1m1 0h1m23 0h1m-65 1h1m2 0h2m21 0h1m17 0h1m7 0h1m-54 1h1m1 0h2m24 0h2m7 0h1m15 0h1m-18 1h1m9 0h1m5 0h2m-16 1h1m5 0h2m6 0h1m2 0h1m8 0h3m-34 1h1m29 0h3m-2 1h1m-3 1h2m-66 1h3m23 0h1m37 0h1m-38 1h1m8 0h1m-13 1h1m1 0h1m-3 1h2m19 1h2m-13 2h1m-4 1h1m-2 1h5"/><path stroke="#5f0c1e" d="M0 0m79 2h2m-33 1h2m-3 1h1m35 0h1m-39 2h1m45 0h1m-2 1h2m1 0h1m-55 1h1m-5 1h1m2 0h1m51 0h1m1 1h1m1 1h2m0 1h1m4 3h1m0 1h1m0 1h1m-5 2h2m-2 1h4m-2 1h3m-85 1h1m83 0h1m-85 1h2m6 0h1m-9 1h4m-4 1h5m82 0h1m-87 1h4m83 0h1m3 2h1m0 1h1m-93 3h5m-4 1h1m-8 4h1m3 0h1m-5 1h1m8 1h1m3 5h3m-3 1h3m66 5h1m-75 1h3m3 0h1m67 0h1m-74 1h2m2 0h1m6 0h2m53 0h2m4 0h2m4 0h1m-68 1h1m54 0h2m4 0h2m4 0h1m-81 1h2m66 0h2m4 0h2m-76 1h3m71 0h2m-79 1h6m71 0h1m-77 1h3m73 0h1m-8 1h2m10 0h1m-14 1h3m10 0h1m-14 1h3m9 0h2m-73 1h2m47 0h1m9 0h3m10 0h1m3 0h1m-79 1h4m35 0h2m9 0h2m9 0h3m14 0h1m-78 1h3m34 0h3m8 0h1m11 0h2m-26 1h3m8 0h1m5 0h1m6 0h2m-53 1h2m24 0h3m7 0h3m5 0h1m-46 1h1m36 0h2m5 0h2m-10 1h2m6 0h1m-11 1h3m-4 1h4m-5 1h4m26 0h1m-32 1h5m-5 1h4m-13 1h2m7 0h2m-11 1h1m9 4h2m-5 1h4"/></g><g filter="url(#b3)"><ellipse cx="521.8" cy="595.8" rx="9.5" ry="5.6" transform="rotate(-35 521.8 595.8)" fill="none" stroke="#d9a593" stroke-width="1.6"/><ellipse cx="521.8" cy="595.8" rx="6" ry="3.2" transform="rotate(-35 521.8 595.8)" fill="#f4f0ef" stroke="#35515c" stroke-width="0.7" stroke-dasharray="2 1.2"/><circle cx="650.5" cy="652.4" r="13" fill="none" stroke="#e3bdb0" stroke-width="3" opacity="0.8"/><circle cx="650.5" cy="652.4" r="9" fill="none" stroke="#b5d2dc" stroke-width="3.2" opacity="0.85"/><circle cx="650.5" cy="652.4" r="6.2" fill="#f1ebeb" stroke="#27404d" stroke-width="0.9" stroke-dasharray="2.2 1.3"/></g></g><g clip-path="url(#c5)"><circle cx="901" cy="692" r="130" fill="#f3efee"/><g transform="translate(772 564) scale(2)" fill="none" stroke-width="1.02" filter="url(#b2)"><path stroke="#212d6e" d="M0 0m57 0h4m8 0h3m6 1h2m-38 3h3m39 0h1m1 0h1m-48 1h1m47 0h1m9 6h1m5 3h2m-1 1h1m-3 2h1m0 1h2m0 1h1m3 7h1m1 0h1m-3 1h2m-1 1h1m-5 1h2m2 0h1m-89 1h1m84 0h2m-1 1h1m4 4h1m-102 1h2m92 0h1m6 0h1m-102 1h2m99 0h2m1 0h1m-106 1h2m7 0h3m86 0h2m3 0h1m1 0h1m-105 1h1m7 0h3m86 0h3m-95 1h2m2 0h2m86 0h3m-95 1h2m91 0h2m-95 1h1m-1 7h3m85 0h1m4 0h2m-95 1h3m8 0h1m75 0h3m3 0h2m-94 1h2m2 0h7m75 0h3m4 0h1m-89 1h5m76 0h3m-2 1h1m-70 3h2m-2 4h2m-13 1h5m6 0h2m70 0h1m-82 1h4m4 0h2m-2 1h3m6 0h2m33 0h1m-44 1h2m23 1h3m30 0h1m-34 1h2m20 0h1m-41 2h2m28 0h2m10 0h1m-43 1h2m40 0h1m-7 3h2m-3 1h3m-1 1h1m-16 1h2m-3 1h3m-3 1h2"/><path stroke="#1557ad" d="M0 0m68 0h1m-22 1h3m23 0h1m6 2h1m2 0h2m2 1h1m4 2h3m-62 3h1m61 0h1m1 1h1m7 5h1m-1 1h1m-3 1h1m-81 1h1m81 0h1m-83 1h1m80 0h1m1 0h1m-84 1h1m-7 3h1m86 1h1m-87 1h1m85 0h1m3 0h1m2 0h1m1 0h1m-97 1h2m1 1h1m90 0h2m-7 1h1m4 0h1m1 0h1m-91 2h1m-12 1h1m9 0h3m82 0h1m0 1h1m-4 3h2m7 1h2m-105 1h1m94 0h1m2 0h2m-4 1h1m9 0h1m-107 1h1m7 0h1m96 0h2m-102 2h1m-1 1h1m1 0h1m92 0h1m-103 1h1m16 0h1m78 0h1m-81 1h2m78 0h1m-81 1h1m88 2h1m-104 1h1m99 0h1m2 0h1m-87 1h1m85 0h1m-95 1h1m6 0h1m86 0h1m-95 1h1m89 0h1m3 0h1m-93 1h1m5 0h1m81 0h2m-86 1h1m79 0h1m-2 1h1m-73 1h1m-1 1h3m2 0h1m59 0h1m-62 1h1m64 2h1m-85 1h2m4 0h4m10 0h1m62 0h2m5 0h1m-90 1h1m15 0h1m-5 1h1m5 0h1m7 0h4m30 0h2m26 0h2m-63 1h2m32 0h1m-46 1h1m8 0h2m15 0h4m13 0h1m15 0h2m-36 1h1m34 0h1m-36 1h1m2 0h1m7 0h2m9 0h1m1 0h1m8 0h3m-35 1h2m9 0h4m7 0h3m7 0h3m-51 1h1m15 0h2m9 0h1m2 0h1m8 0h1m1 0h1m7 0h1m-63 1h5m4 0h2m18 0h1m10 0h2m10 0h1m-52 1h1m7 0h2m-14 1h3m20 0h2m-25 1h3m31 0h3m12 0h1m2 0h1m-20 1h3m12 0h1m3 0h1m-17 1h3m9 0h3m-31 1h1m14 0h1m2 0h1m-5 1h1m18 0h2m-21 1h1m2 0h1m13 0h3m-15 4h3m-2 1h2"/><path stroke="#2d7fbb" d="M0 0m50 1h1m29 0h1m-41 4h4m51 2h1m-6 1h2m-58 1h1m60 1h1m-64 2h1m63 0h1m1 0h1m-74 1h1m77 0h1m-3 3h1m-79 1h1m2 1h1m-5 1h1m1 0h1m1 0h1m82 0h1m-85 4h1m77 0h1m-88 1h1m7 0h1m78 0h1m8 0h1m-97 1h1m2 0h1m85 1h1m6 0h1m1 0h1m-99 1h1m4 1h1m-1 1h1m-1 1h1m2 0h1m-13 2h1m11 0h1m-14 1h1m3 0h1m2 0h1m86 1h1m-93 1h1m6 2h2m-9 1h1m5 0h1m91 0h1m-5 1h1m-100 1h1m108 0h1m-110 1h1m100 0h1m-102 1h2m95 0h1m4 0h1m-103 1h1m16 0h1m-18 1h2m96 0h1m-98 1h1m16 0h1m-18 1h2m-2 1h3m2 0h1m-6 1h2m99 0h1m-101 1h3m16 0h1m76 0h1m-81 1h1m2 0h1m73 0h1m-87 1h1m3 0h1m81 0h1m15 0h1m-6 1h1m4 0h1m-93 1h1m76 0h1m5 0h2m-96 1h1m17 1h3m61 0h1m-60 1h4m54 0h1m1 0h1m14 0h1m-17 1h1m-78 2h1m79 0h1m-82 1h2m13 0h1m41 0h2m8 0h2m20 0h1m-92 1h1m1 0h1m3 0h1m5 0h1m7 0h1m8 0h2m28 0h3m7 0h2m18 0h1m1 0h1m-96 1h1m11 0h1m17 0h1m33 0h1m8 0h1m21 0h1m-96 1h2m13 0h1m4 0h1m13 0h1m14 0h2m13 0h1m28 0h3m-95 1h2m29 0h1m32 0h1m-64 1h1m47 0h1m6 0h2m10 0h2m8 0h1m-24 1h1m-27 1h1m8 0h1m6 0h1m2 0h1m7 0h1m10 0h1m3 0h1m9 0h2m-77 1h2m8 0h1m3 0h1m6 0h1m10 0h1m6 0h1m10 0h1m21 0h1m1 0h3m-77 1h4m6 0h1m13 0h1m14 0h1m1 0h1m8 0h1m2 0h1m20 0h3m-76 1h4m3 0h4m1 0h3m6 0h1m8 0h3m15 0h3m10 0h2m11 0h1m-69 1h1m3 0h2m17 0h1m2 0h1m-27 1h1m3 0h1m33 0h1m-37 1h2m29 0h1m3 0h3m-19 1h1m13 0h2m16 0h1m-41 1h8m1 0h1m26 0h4m-14 1h1m13 0h1m-20 1h1m-14 1h2m9 0h3m-19 1h1m22 2h1m3 0h1m-4 1h1m2 0h1"/><path stroke="#639fbd" d="M0 0m74 1h1m-34 3h1m3 0h2m-3 1h1m-11 1h1m-1 1h1m53 0h2m4 0h1m-2 1h1m-59 1h1m-9 3h1m2 1h2m71 2h1m0 1h1m1 0h1m-7 1h1m-77 1h1m83 0h1m-84 1h1m-4 1h1m3 0h1m79 0h1m3 0h1m-88 1h1m-7 1h1m8 0h1m75 1h1m8 0h1m-94 1h2m5 0h1m-12 1h1m8 0h1m79 0h1m8 0h1m-5 1h1m1 0h1m2 0h1m-93 1h1m92 0h1m-95 1h1m91 0h1m-91 1h1m88 0h1m-100 1h1m93 0h1m4 0h1m-87 1h1m-15 1h1m3 0h1m9 0h1m-11 2h2m1 0h1m84 0h1m-1 1h2m9 0h1m4 0h1m-15 1h1m-82 1h1m82 0h1m7 0h1m4 0h1m-6 1h1m4 0h1m-113 1h1m14 0h1m90 0h2m-104 1h1m3 0h1m2 0h2m83 0h1m0 1h1m-80 1h3m-14 1h1m11 0h1m78 0h1m-80 1h1m-20 1h1m1 0h1m95 0h1m7 1h1m-102 1h1m-2 1h3m3 0h1m86 0h1m-90 1h1m82 0h1m2 0h3m12 0h1m-108 1h3m104 0h1m1 0h1m-109 1h1m23 0h2m83 0h1m-86 1h2m83 0h1m-106 1h1m9 0h1m93 0h1m-105 1h1m1 0h1m80 0h1m7 0h1m-90 1h1m19 0h1m4 0h1m54 0h1m16 0h1m-106 1h1m33 0h2m-35 1h1m19 0h1m5 0h1m1 0h1m3 0h1m54 0h1m1 0h1m-90 1h2m9 0h1m80 0h1m-92 1h1m6 0h1m1 0h1m56 0h2m7 0h2m15 0h4m1 0h2m-99 1h2m4 0h1m4 0h2m4 0h1m47 0h1m9 0h1m16 0h5m-96 1h2m7 0h1m24 0h1m2 0h1m3 0h1m22 0h1m3 0h1m12 0h1m7 0h1m2 0h2m-93 1h1m18 0h1m16 0h1m3 0h2m12 0h3m-57 1h1m2 0h1m13 0h1m2 0h1m9 0h1m10 0h1m7 0h1m2 0h2m25 0h1m2 0h1m-82 1h1m28 0h1m48 0h2m2 0h1m10 0h3m4 0h1m-98 1h1m59 0h1m18 0h1m12 0h1m3 0h2m-98 1h1m78 0h1m12 0h1m3 0h1m-71 1h1m1 0h1m6 0h1m1 0h1m58 0h1m-94 1h1m2 0h1m6 0h1m1 0h1m1 0h1m19 0h1m8 0h1m48 0h1m-83 1h1m9 0h1m29 0h1m15 0h1m7 0h1m6 0h1m-74 1h1m11 0h1m3 0h1m10 0h1m39 0h1m1 0h1m2 0h1m5 0h1m-83 1h4m6 0h1m7 0h1m39 0h1m14 0h3m4 0h2m-79 1h1m23 0h2m9 0h1m41 0h2m-77 1h1m38 0h1m34 0h2m-57 1h1m1 0h1m11 0h1m40 0h1m-53 1h1m11 0h1m12 0h1m4 0h4m17 0h2m-63 1h3m5 0h2m27 0h3m11 0h3m-68 1h4m48 0h1m3 0h1m7 0h3m-65 1h3m16 0h1m14 0h1m15 0h2m9 0h3m-57 1h4m2 0h2m1 0h6m8 0h1m8 0h1m19 0h4m-56 1h10m21 0h3m17 0h4m-19 1h1m13 0h4m-23 1h1m4 0h1m12 0h4m-27 1h1m5 0h3m14 0h3m-42 1h2m37 0h2m-20 2h3m-7 1h5"/><path stroke="#96b9c5" d="M0 0m46 2h1m8 0h1m23 1h1m5 1h1m-50 2h2m-5 1h1m1 1h1m53 0h1m6 1h1m-65 1h1m0 2h1m-8 1h1m2 0h1m2 0h1m64 0h1m1 3h1m-81 1h1m87 0h1m-89 1h1m2 0h1m78 0h1m-78 2h1m80 0h1m-4 2h1m-77 1h1m-13 1h1m8 0h1m78 0h1m7 0h1m-98 1h1m91 0h1m-93 1h1m2 0h1m3 0h1m83 0h1m-92 1h1m101 0h1m-101 1h1m91 0h1m1 0h1m5 0h1m-104 1h1m10 0h1m89 0h1m-101 1h1m4 0h1m98 0h1m-107 1h1m9 0h1m-4 1h2m6 0h1m91 0h1m-100 1h1m5 0h2m-16 1h1m92 0h1m13 0h2m-108 1h1m1 0h1m100 0h1m-101 1h1m8 0h1m78 0h2m11 0h1m2 0h2m-4 1h1m-110 1h1m14 0h1m82 0h1m1 0h1m4 0h1m-6 1h1m12 0h1m-99 1h1m88 0h1m3 0h1m4 0h1m-95 1h2m75 0h1m7 0h1m4 0h1m3 0h1m-107 1h1m105 0h1m-106 1h1m101 0h1m-1 1h1m-99 1h1m84 0h1m16 0h1m-112 1h1m1 0h1m92 0h1m15 0h1m-111 1h1m97 0h2m3 0h1m6 0h1m-108 1h1m1 0h1m1 0h1m95 0h1m1 0h1m4 0h1m-103 1h1m77 0h1m1 0h1m14 0h2m2 0h1m2 0h1m-100 1h1m1 0h1m73 0h1m2 0h1m12 0h1m4 0h1m-109 1h1m24 0h1m79 0h1m-106 1h1m8 0h1m15 0h1m-15 1h1m66 0h1m4 0h1m18 0h1m5 0h1m-107 1h1m74 0h1m5 0h1m1 0h1m12 0h2m2 0h1m4 0h2m-113 1h1m23 0h1m8 0h1m1 0h2m43 0h1m30 0h1m-110 1h1m21 0h1m55 0h1m30 0h1m-111 1h1m10 0h1m10 0h1m9 0h1m45 0h1m26 0h1m4 0h1m-111 1h1m10 0h1m9 0h2m45 0h2m7 0h2m10 0h1m6 0h1m9 0h2m2 0h1m-110 1h1m1 0h1m4 0h1m1 0h1m2 0h1m14 0h1m38 0h1m30 0h1m7 0h2m-104 1h1m37 0h4m34 0h1m4 0h1m20 0h1m-102 1h1m16 0h1m18 0h3m1 0h1m12 0h3m16 0h1m7 0h1m7 0h1m3 0h1m-95 1h1m2 0h1m18 0h1m17 0h1m2 0h1m10 0h1m19 0h1m5 0h2m10 0h1m5 0h1m-83 1h1m2 0h2m20 0h1m13 0h2m17 0h1m6 0h1m10 0h1m5 0h1m3 0h1m-98 1h1m47 0h1m19 0h1m5 0h1m18 0h1m-96 1h1m62 0h1m29 0h1m1 0h1m-93 1h1m40 0h1m13 0h1m2 0h1m8 0h1m22 0h1m5 0h1m-97 1h2m50 0h1m37 0h1m3 0h1m-89 1h1m8 0h1m2 0h1m15 0h1m45 0h1m2 0h1m5 0h2m4 0h1m-89 1h1m3 0h1m7 0h1m15 0h2m28 0h1m14 0h1m1 0h1m5 0h2m3 0h2m-87 1h1m10 0h1m13 0h1m33 0h1m12 0h2m5 0h1m1 0h1m3 0h2m-96 1h1m5 0h1m17 0h1m1 0h1m6 0h1m13 0h2m15 0h1m6 0h1m7 0h1m3 0h1m5 0h1m3 0h2m-94 1h2m13 0h1m16 0h1m2 0h1m13 0h1m9 0h1m4 0h1m4 0h2m7 0h3m11 0h1m-92 1h2m11 0h1m16 0h2m58 0h1m-63 1h1m3 0h1m9 0h1m6 0h1m33 0h1m1 0h1m-82 1h1m61 0h1m7 0h2m-71 1h4m12 0h1m3 0h1m2 0h2m2 0h1m24 0h2m6 0h1m10 0h1m5 0h2m-78 1h2m22 0h2m10 0h1m5 0h1m26 0h1m6 0h1m-75 1h2m3 0h7m12 0h1m7 0h1m4 0h1m13 0h1m2 0h1m7 0h1m3 0h1m-64 1h3m1 0h2m4 0h2m9 0h1m6 0h1m1 0h1m6 0h1m1 0h1m22 0h1m5 0h1m-64 1h1m10 0h1m19 0h1m3 0h1m2 0h2m21 0h2m-61 1h1m28 0h1m6 0h1m22 0h1m-31 1h1m22 0h1m-29 1h1m1 0h2m2 0h1m3 0h1m16 0h1m-45 1h2m2 0h6m30 0h1m2 0h1m-44 1h5m19 0h4m11 0h4m-22 1h2m3 0h1m11 0h3m-23 1h1m5 0h1m10 0h4m-21 1h5m9 0h5m-6 1h3"/><path stroke="#bccdd3" d="M0 0m52 1h1m19 0h1m-19 1h1m1 0h1m21 1h1m-41 2h1m6 0h1m45 0h1m-57 1h1m-4 2h1m4 0h1m-11 3h1m5 0h2m-7 1h1m1 0h1m3 0h1m-8 1h1m-4 1h2m-2 1h1m-5 1h1m-1 1h1m-1 1h1m81 0h1m7 1h1m-4 1h1m-89 1h1m2 0h1m-5 1h1m-5 1h1m2 1h1m93 0h1m-95 1h1m3 1h1m91 1h1m-103 1h1m7 0h1m-2 1h1m89 0h1m7 0h1m-107 1h1m99 0h1m3 0h1m1 0h1m-8 1h1m7 1h1m-109 1h1m6 0h1m86 0h1m8 0h1m5 0h1m-105 1h1m0 1h2m101 0h1m-108 1h1m2 0h1m-7 1h1m5 0h1m7 0h2m-10 1h1m3 1h1m85 0h1m-77 1h1m76 0h1m-87 1h1m9 0h1m-1 1h1m88 0h1m-8 1h1m10 1h1m-99 1h1m93 0h3m-107 1h1m95 0h1m8 0h1m-14 1h1m12 0h1m-23 1h1m1 0h1m6 0h1m12 0h1m-111 1h1m3 0h1m1 0h1m11 0h1m69 0h1m11 0h1m-94 1h1m5 0h1m86 0h1m2 0h1m3 0h1m5 0h1m-117 1h1m22 0h1m4 0h1m3 0h1m70 0h1m2 0h1m2 0h1m6 0h1m-117 1h2m12 0h1m82 0h1m18 0h1m-116 1h1m6 0h1m1 0h1m5 0h1m66 0h1m4 0h1m3 0h1m23 0h1m-115 1h1m24 0h1m54 0h1m5 0h1m1 0h1m-88 1h1m5 0h2m1 0h1m70 0h1m6 0h1m2 0h1m20 0h1m-113 1h1m78 0h1m8 0h1m16 0h1m1 0h1m-108 1h1m12 0h1m10 0h1m10 0h1m33 0h2m9 0h1m7 0h1m16 0h1m1 0h2m-41 1h1m2 0h1m21 0h1m1 0h1m2 0h1m2 0h1m4 0h1m-106 1h1m6 0h1m37 0h1m33 0h1m25 0h1m4 0h1m-110 1h1m37 0h3m4 0h1m10 0h2m11 0h1m13 0h1m25 0h1m-109 1h1m10 0h1m22 0h1m9 0h1m14 0h1m32 0h1m11 0h1m3 0h1m-101 1h1m5 0h1m7 0h1m31 0h1m11 0h1m3 0h1m6 0h1m16 0h1m9 0h1m-78 1h1m10 0h1m41 0h1m2 0h1m1 0h1m6 0h1m11 0h1m-82 1h1m3 0h1m38 0h1m6 0h1m28 0h1m-69 1h1m-30 1h1m58 0h1m-64 1h1m7 0h1m25 0h1m12 0h1m16 0h1m25 0h1m6 0h1m-97 1h1m5 0h1m8 0h2m16 0h1m23 0h1m12 0h1m18 0h1m-89 1h1m5 0h1m7 0h1m10 0h1m12 0h1m46 0h1m-85 1h2m4 0h1m5 0h1m28 0h1m12 0h1m3 0h1m27 0h1m8 0h1m-96 1h2m1 0h1m36 0h1m7 0h1m6 0h2m6 0h1m4 0h1m11 0h1m-80 1h2m8 0h1m41 0h1m34 0h1m5 0h1m1 0h1m-94 1h1m9 0h1m19 0h1m2 0h1m8 0h1m44 0h1m4 0h1m-91 1h2m21 0h4m13 0h1m15 0h1m31 0h2m-88 1h1m1 0h1m15 0h1m16 0h1m37 0h1m12 0h2m-87 1h1m4 0h1m16 0h2m60 0h2m-85 1h1m6 0h1m10 0h2m4 0h1m2 0h1m26 0h1m21 0h1m5 0h2m-82 1h1m12 0h1m2 0h3m2 0h1m17 0h4m30 0h2m5 0h1m-74 1h1m23 0h1m19 0h1m9 0h1m9 0h1m1 0h1m-53 1h1m23 0h2m2 0h2m14 0h1m6 0h1m-63 1h1m1 0h1m56 0h1m1 0h1m-3 1h3m-47 1h3m6 0h1m4 0h2m5 0h1m11 0h1m-31 1h9m5 0h4m-29 1h1m5 0h5m13 0h1m14 0h1m-38 1h3m16 0h1m6 0h1m8 0h2m3 0h1m-17 1h1m8 0h1m4 0h1m-39 1h5m4 0h8m5 0h1m7 0h1m5 0h1m-8 1h1m3 0h2m-9 1h7m-7 1h4"/><path stroke="#d5dadc" d="M0 0m61 0h1m14 0h1m4 1h1m-25 1h1m23 1h1m-43 1h1m41 0h1m-45 1h1m48 0h1m-51 3h1m52 1h2m-63 1h1m1 0h1m2 0h1m62 0h1m-68 1h1m5 0h1m-5 1h1m71 0h1m0 1h1m-76 1h1m72 0h1m-3 1h1m-77 1h1m81 1h1m-89 1h1m6 0h1m1 0h1m-10 1h1m8 0h1m-3 1h1m-8 1h1m7 0h1m-13 1h1m0 1h1m85 0h1m-89 1h1m-2 1h1m11 0h1m85 0h1m4 0h1m-104 1h1m1 0h1m4 0h1m-8 1h1m5 0h1m86 0h2m-94 1h1m87 0h1m14 0h1m-102 1h1m86 0h1m-1 1h2m14 0h1m-101 1h1m92 0h1m-103 1h1m17 0h1m91 0h1m-93 1h1m92 0h1m-112 1h1m92 0h1m9 0h1m7 0h1m-98 2h1m85 0h1m11 0h1m-3 1h1m-96 1h1m97 0h1m-107 1h1m103 0h1m1 0h1m-116 1h1m3 0h1m15 0h1m-21 1h1m1 0h1m102 1h1m10 0h1m-96 1h1m71 0h1m20 0h1m-117 1h1m14 0h1m80 0h1m17 0h1m-114 1h1m14 0h1m92 0h1m-107 1h1m11 0h1m2 0h3m92 0h1m1 0h1m-24 1h1m-69 1h1m68 0h1m17 0h1m1 0h1m-7 1h1m5 0h1m-113 1h1m14 0h1m2 0h1m11 0h3m59 0h1m19 0h1m-112 1h1m110 0h1m-106 1h1m20 0h1m54 0h2m18 0h1m2 0h1m4 0h2m-113 1h1m6 0h1m10 0h1m63 0h1m-82 1h1m35 0h2m45 0h1m31 0h1m-78 1h1m76 0h1m-103 1h1m99 0h1m1 0h1m-96 1h1m1 0h1m3 0h1m6 0h1m38 0h1m42 0h1m-26 1h1m1 0h1m22 0h1m-100 1h1m12 0h1m16 0h1m12 0h1m12 0h1m5 0h1m8 0h1m-48 1h1m20 0h1m45 0h1m1 0h1m-100 1h1m48 0h1m22 0h1m24 0h1m-65 1h1m13 0h1m5 0h1m43 0h1m4 0h1m-35 1h1m1 0h1m30 0h1m-106 1h1m33 0h1m12 0h1m54 0h1m2 0h1m-110 1h1m4 0h1m29 0h1m28 0h1m11 0h1m6 0h1m14 0h1m10 0h1m-109 1h2m41 0h1m20 0h1m37 0h1m4 0h2m-109 1h2m5 0h1m12 0h1m24 0h1m51 0h1m9 0h2m-108 1h2m28 0h1m45 0h1m23 0h1m5 0h1m-106 1h2m24 0h1m20 0h1m15 0h1m26 0h1m5 0h1m4 0h1m-101 1h2m30 0h1m32 0h1m15 0h1m-29 1h1m10 0h1m1 0h2m6 0h1m1 0h1m22 0h1m-93 1h1m13 0h1m64 0h1m-83 1h1m3 0h1m74 0h1m14 0h1m-93 1h1m2 0h1m36 0h1m25 0h2m7 0h3m13 0h1m-15 1h1m4 0h1m5 0h1m-79 1h1m73 0h1m2 0h1m-69 1h1m2 0h1m60 0h1m5 0h1m-69 1h2m35 0h1m4 0h1m22 0h1m1 0h1m-79 1h1m36 0h1m9 0h1m1 0h1m17 0h1m8 0h2m-83 1h1m9 0h1m23 0h1m18 0h1m8 0h1m8 0h1m3 0h1m-75 1h2m8 0h1m3 0h1m34 0h1m10 0h1m4 0h1m7 0h1m-73 1h5m34 0h1m7 0h1m10 0h1m9 0h1m3 0h1m-70 1h4m15 0h3m3 0h1m39 0h5m-56 1h1m19 0h2m7 0h1m10 0h1m12 0h2m-58 1h3m11 0h1m17 0h1m6 0h3m-40 1h3m3 0h1m14 0h1m14 0h2m-37 1h7m11 0h1m15 0h1m-35 1h2m5 0h4m28 0h1m-38 1h15m13 0h1m6 0h1m-3 1h1m-10 1h2m4 0h2m-13 1h5"/><path stroke="#e4e4e4" d="M0 0m67 0h1m-10 1h1m-8 4h1m23 1h2m-21 1h2m12 0h3m20 0h1m-36 1h1m9 0h1m19 0h1m-26 1h1m-10 1h1m7 0h1m13 0h2m-52 1h1m30 0h1m4 0h1m3 0h1m9 0h2m9 0h2m9 0h1m-37 1h2m9 0h2m6 0h1m5 0h3m-30 1h1m20 0h1m3 0h3m-31 1h1m29 0h1m-50 1h2m8 0h2m3 0h2m-34 1h1m27 0h1m5 0h1m27 0h3m6 0h1m-54 1h2m9 0h2m17 0h1m12 0h3m12 0h1m3 0h1m-34 1h1m12 0h2m5 0h2m19 0h1m-91 1h1m82 0h1m-84 1h1m51 0h1m2 0h4m8 0h1m24 0h1m-47 1h1m3 0h1m43 0h1m-99 1h1m13 0h1m7 0h1m17 0h4m9 0h1m32 0h1m11 0h2m-92 1h1m23 1h4m3 0h1m10 0h1m9 0h1m-20 1h1m20 0h1m4 0h2m25 0h1m-78 1h2m3 0h2m20 0h1m18 0h1m5 0h2m11 0h1m2 0h1m-82 1h1m15 0h3m22 0h1m19 0h1m5 0h3m11 0h1m-89 1h1m22 0h2m22 0h1m12 0h1m7 0h2m5 0h4m26 0h1m-45 1h1m8 0h1m7 0h1m10 0h1m-93 1h1m15 0h1m34 0h1m13 0h1m-65 1h1m6 0h1m14 0h1m19 0h1m64 0h3m-97 1h1m50 0h2m33 0h1m-46 1h1m2 0h1m7 0h2m25 0h1m1 0h1m-57 1h1m18 0h1m8 0h1m-33 1h1m22 0h1m23 0h4m-87 1h1m7 0h1m26 0h2m36 0h2m9 0h3m15 0h1m-68 1h1m23 0h1m14 0h2m20 0h1m-63 1h2m7 0h1m15 0h1m9 0h1m-73 1h1m11 0h1m23 0h1m13 0h2m11 0h1m8 0h2m45 0h1m-120 1h1m23 0h1m25 0h2m11 0h1m9 0h1m13 0h3m13 0h1m15 0h1m-70 1h2m16 0h1m19 0h1m29 0h3m-119 1h1m22 0h1m24 0h1m11 0h1m5 0h1m26 0h2m2 0h1m20 0h1m-121 1h1m45 0h2m14 0h1m5 0h1m9 0h2m16 0h1m23 0h1m-120 1h1m8 0h1m8 0h1m25 0h3m19 0h1m10 0h3m-81 1h1m16 0h2m3 0h1m22 0h2m5 0h1m-52 1h1m15 0h1m33 0h2m47 0h1m3 0h1m5 0h1m-110 1h1m48 0h3m5 0h1m41 0h1m3 0h1m8 0h1m1 0h1m-115 1h1m21 0h1m26 0h2m5 0h2m6 0h2m9 0h3m25 0h1m-105 1h2m31 0h1m43 0h3m16 0h1m18 0h1m6 0h1m-123 1h1m46 0h2m46 0h1m-96 1h1m46 0h1m-48 1h1m61 0h2m54 0h1m-112 1h1m83 0h2m25 0h1m-118 1h1m73 0h1m-67 1h1m80 0h1m9 0h1m-88 1h1m59 0h2m15 0h1m-85 1h1m3 0h1m18 0h2m3 0h1m55 0h1m24 0h1m-113 1h1m6 0h1m101 0h1m-116 1h1m21 0h1m30 0h1m11 0h1m54 0h1m-121 1h1m36 0h1m55 0h1m26 0h1m-100 1h1m8 0h1m1 0h1m9 0h1m47 0h1m3 0h1m-97 1h1m3 0h1m11 0h1m1 0h1m1 0h1m17 0h1m12 0h1m42 0h3m6 0h1m2 0h1m11 0h1m-119 1h1m118 0h1m-120 1h1m8 0h1m63 0h1m29 0h1m18 0h1m-113 1h1m59 0h1m5 0h1m5 0h1m39 0h1m5 0h1m-120 1h1m2 0h1m41 0h1m9 0h1m32 0h1m9 0h1m2 0h1m11 0h1m-114 1h1m3 0h1m7 0h1m29 0h1m35 0h1m10 0h1m15 0h1m7 0h1m-113 1h1m40 0h1m7 0h1m46 0h1m11 0h1m3 0h1m-112 1h1m34 0h1m8 0h1m7 0h1m5 0h1m47 0h1m-79 1h1m21 0h2m14 0h1m26 0h1m11 0h2m-96 1h1m12 0h1m33 0h1m46 0h1m-68 1h1m26 0h1m18 0h1m19 0h1m-47 1h1m17 0h1m7 0h1m1 0h1m29 0h1m-125 1h1m38 0h1m14 0h2m23 0h1m33 0h1m6 0h1m3 0h1m-125 1h3m15 0h1m82 0h1m10 0h2m5 0h2m-121 1h3m8 0h1m1 0h1m92 0h1m5 0h2m5 0h1m2 0h1m-122 1h3m7 0h2m1 0h1m42 0h1m29 0h1m14 0h1m9 0h1m6 0h1m-119 1h1m1 0h1m7 0h2m29 0h1m12 0h1m10 0h1m18 0h1m12 0h1m6 0h1m13 0h1m1 0h1m-111 1h2m36 0h1m8 0h1m13 0h1m24 0h1m3 0h1m2 0h1m-94 1h2m6 0h2m1 0h1m5 0h3m70 0h1m-95 1h2m2 0h3m6 0h2m2 0h1m12 0h4m50 0h1m-84 1h1m2 0h3m8 0h1m5 0h2m29 0h3m34 0h1m-85 1h2m9 0h3m4 0h1m11 0h3m7 0h1m3 0h1m13 0h1m15 0h1m3 0h1m5 0h2m4 0h3m15 0h1m-93 1h4m31 0h2m5 0h1m14 0h1m6 0h1m2 0h1m5 0h4m14 0h1m1 0h1m-86 1h1m15 0h1m10 0h1m20 0h1m7 0h3m6 0h3m12 0h1m2 0h1m-84 1h3m7 0h1m36 0h1m7 0h3m21 0h1m-78 1h2m11 0h3m19 0h1m7 0h1m7 0h4m21 0h2m-80 1h4m49 0h2m23 0h1m-110 1h1m32 0h4m15 0h5m-57 1h1m10 0h2m72 0h1m-85 1h1m10 0h1m47 0h1m8 0h1m21 0h2m-58 1h3m17 0h1m5 0h2m3 0h3m22 0h1m15 0h1m-73 1h5m4 0h15m10 0h5m32 0h2m-73 1h6m28 0h5m22 0h1m8 0h2m-72 1h5m28 0h4m7 0h2m19 0h1m4 0h2m-86 1h2m14 0h2m28 0h3m7 0h4m18 0h1m-86 1h5m2 0h4m40 0h3m9 0h3m-75 1h1m9 0h10m38 0h5m-62 1h1m8 0h6m42 0h4m-57 1h1m5 0h2m68 0h4m-73 1h1m17 0h1m49 0h5m5 0h2m-80 1h2m16 0h2m48 0h5m3 0h4m8 0h2m-90 1h3m28 0h3m34 0h4m4 0h3m8 0h2m-100 1h1m11 0h3m28 0h3m51 0h2m-99 1h2m12 0h1m74 0h1m7 0h1m-98 1h3m6 0h2m3 0h1m-14 1h1m8 0h2m3 0h2m79 0h1m-86 1h2m3 0h2m77 0h1m-79 1h2m74 0h2m-76 1h1m73 0h1m-54 1h2m-4 1h4m-21 1h4m14 0h3m10 0h4m-34 1h4m5 0h3m18 0h3m7 1h4m-20 1h6m10 0h2m-17 1h4m23 0h2m-5 2h1m-40 1h2m33 0h5m10 0h2m-58 1h2m2 0h8m28 0h4m-42 1h2m2 0h4m24 1h4m5 0h1m-3 1h1m-37 1h1m1 0h3m31 0h2m-8 2h1"/><path stroke="#ece1de" d="M0 0m59 1h1m-9 1h1m1 0h1m4 0h1m4 0h3m-12 1h3m3 0h2m12 0h1m1 0h1m-25 1h3m20 0h2m-29 1h1m-7 1h2m2 0h1m35 0h2m-40 1h1m15 0h2m22 0h1m-54 1h1m10 0h1m17 0h2m12 0h2m2 0h3m5 0h1m-46 1h1m18 0h2m8 0h2m2 0h1m9 0h2m5 0h1m-61 1h1m6 0h5m7 0h2m8 0h1m9 0h1m18 0h2m-55 1h2m12 0h2m7 0h2m3 0h1m3 0h1m10 0h1m-43 1h1m4 0h1m25 0h1m-45 1h1m3 0h1m4 0h1m2 0h1m13 0h2m6 0h1m19 0h1m17 0h1m1 0h1m-73 1h3m6 0h1m14 0h2m7 0h1m22 0h2m9 0h2m2 0h1m-76 1h1m11 0h1m16 0h1m29 0h3m2 0h2m6 0h1m11 0h1m-55 1h2m5 0h1m8 0h1m18 0h3m5 0h1m6 0h1m-76 1h1m25 0h1m13 0h1m31 0h1m8 0h1m-77 1h1m21 0h1m17 0h2m18 0h3m1 0h1m13 0h1m-82 1h1m2 0h1m5 0h2m3 0h3m17 0h1m2 0h1m3 0h2m21 0h5m-66 1h1m4 0h2m5 0h4m8 0h2m3 0h1m1 0h1m5 0h1m12 0h2m11 0h3m14 0h1m-86 1h1m2 0h1m66 0h1m-76 1h2m1 0h1m8 0h1m28 0h1m7 0h1m14 0h2m10 0h1m-70 1h1m3 0h2m18 0h4m18 0h3m3 0h2m-54 1h2m5 0h2m61 0h1m5 0h1m2 0h1m6 0h1m-86 1h1m5 0h1m22 0h1m9 0h1m19 0h2m9 0h1m15 0h1m-87 1h1m16 0h1m8 0h1m16 0h1m-47 1h1m33 0h1m20 0h2m33 0h1m-100 1h1m10 0h1m12 0h2m16 0h1m13 0h1m9 0h1m8 0h1m6 0h1m-90 1h1m47 0h1m15 0h2m2 0h1m29 0h1m7 0h1m-101 1h1m2 0h1m59 0h2m5 0h2m-69 1h1m34 0h1m7 0h1m6 0h1m28 0h1m-83 1h1m4 0h1m5 0h2m9 0h1m13 0h2m8 0h1m7 0h1m23 0h5m3 0h1m-97 1h2m21 0h1m7 0h1m12 0h2m9 0h1m2 0h1m6 0h2m21 0h5m5 0h1m-100 1h2m9 0h1m9 0h1m2 0h4m16 0h2m10 0h1m2 0h1m3 0h1m4 0h1m21 0h3m-82 1h1m12 0h3m17 0h1m46 0h2m-92 1h1m23 0h1m17 0h2m47 0h3m-76 1h1m23 0h1m29 0h1m9 0h1m18 0h1m13 0h1m-116 1h1m22 0h2m47 0h2m16 0h1m-85 1h1m18 0h1m20 0h1m21 0h1m4 0h1m16 0h1m14 0h1m-107 1h1m26 0h3m17 0h1m21 0h1m4 0h1m16 0h1m-92 1h1m8 0h1m10 0h1m4 0h1m1 0h3m13 0h1m8 0h1m11 0h1m4 0h1m4 0h2m15 0h1m3 0h1m-96 1h1m18 0h1m7 0h2m13 0h2m8 0h1m11 0h1m10 0h1m4 0h5m8 0h1m-93 1h1m26 0h1m13 0h1m21 0h1m18 0h3m3 0h3m12 0h1m-90 1h1m6 0h1m6 0h1m44 0h2m8 0h5m4 0h1m-97 1h1m24 0h1m6 0h1m17 0h2m25 0h2m9 0h4m5 0h1m9 0h1m-108 1h1m31 0h5m13 0h1m5 0h2m29 0h4m17 0h1m-111 1h1m36 0h3m18 0h2m25 0h1m1 0h3m5 0h1m1 0h2m-70 1h1m7 0h3m18 0h2m5 0h2m19 0h2m7 0h1m23 0h1m-84 1h1m2 0h2m6 0h1m17 0h1m10 0h2m8 0h2m-59 1h1m12 0h5m30 0h2m7 0h4m5 0h2m-65 1h1m10 0h4m15 0h2m14 0h1m5 0h3m10 0h1m-88 1h1m17 0h1m17 0h1m15 0h2m17 0h1m16 0h1m-92 1h1m8 0h1m17 0h2m7 0h2m1 0h2m25 0h3m5 0h1m8 0h1m1 0h1m5 0h1m-87 1h1m32 0h4m2 0h4m17 0h4m2 0h1m41 0h1m-71 1h2m3 0h2m1 0h4m8 0h4m18 0h1m16 0h1m10 0h1m-115 1h1m13 0h1m9 0h1m25 0h1m2 0h5m2 0h1m4 0h2m3 0h1m38 0h1m4 0h1m-122 1h1m5 0h1m37 0h1m15 0h1m3 0h3m22 0h1m27 0h1m3 0h1m5 0h1m-128 1h1m5 0h1m9 0h1m5 0h1m6 0h1m35 0h3m50 0h1m8 0h1m-122 1h1m1 0h1m59 0h1m27 0h1m21 0h1m5 0h1m-116 1h1m6 0h1m17 0h1m11 0h1m9 0h1m12 0h1m10 0h1m37 0h1m5 0h1m-86 1h1m3 0h1m21 0h1m50 0h1m3 0h1m3 0h1m-118 1h1m48 0h1m-48 1h1m2 0h1m40 1h2m11 0h1m16 0h1m36 0h1m-78 1h1m47 0h1m23 0h1m-30 1h1m-86 1h1m21 0h1m18 0h1m-42 1h1m16 0h1m18 0h1m2 0h1m51 0h1m6 0h2m15 0h1m-116 1h1m25 0h1m65 0h1m-93 1h1m1 0h1m5 0h1m7 0h1m32 0h1m9 0h1m7 0h1m17 0h1m15 0h1m12 0h1m3 0h2m6 0h1m-125 1h1m5 0h5m5 0h1m24 0h1m17 0h1m5 0h1m3 0h1m28 0h1m5 0h1m10 0h3m-111 1h4m1 0h1m54 0h1m41 0h1m5 0h2m-110 1h2m2 0h3m16 0h1m18 0h1m29 0h1m30 0h1m5 0h1m-109 1h1m3 0h3m-1 1h1m7 0h1m49 0h1m10 0h1m5 0h1m17 0h1m1 0h1m-95 1h1m20 0h1m35 0h1m24 0h1m9 0h2m-93 1h1m3 0h1m8 0h1m94 0h1m-108 1h1m66 0h1m-65 1h1m87 0h2m12 0h1m-100 1h1m3 0h1m17 0h2m2 0h1m25 0h1m31 0h3m-107 1h1m23 0h2m1 0h1m11 0h1m19 0h1m9 0h1m34 0h2m6 0h1m3 0h1m4 0h1m-121 1h1m26 0h1m1 0h1m1 0h1m13 0h1m1 0h1m63 0h1m7 0h1m-92 1h1m8 0h1m11 0h1m35 0h1m28 0h1m-86 1h5m1 0h1m37 0h2m10 0h1m-79 1h1m42 0h2m14 0h1m19 0h1m-80 1h2m34 0h3m2 0h1m16 0h1m4 0h1m12 0h2m7 0h3m-87 1h2m34 0h2m4 0h1m27 0h1m3 0h2m7 0h4m-86 1h1m51 0h1m19 0h2m8 0h3m18 0h1m-91 1h1m42 0h1m13 0h1m11 0h1m12 0h1m6 0h2m-91 1h3m4 0h4m11 0h6m23 0h1m3 0h1m25 0h2m1 0h2m3 0h2m-91 1h4m4 0h2m7 0h5m11 0h4m13 0h1m1 0h2m26 0h2m1 0h3m2 0h2m-104 1h1m13 0h4m19 0h2m32 0h3m22 0h3m-105 1h1m6 0h1m7 0h1m5 0h2m37 0h4m12 0h3m5 0h3m15 0h2m-101 1h1m11 0h2m40 0h6m20 0h3m16 0h1m-100 1h2m78 0h2m-81 1h2m51 0h4m-56 1h1m49 0h5m11 0h2m27 0h2m8 0h1m-85 1h2m26 0h6m10 0h2m27 0h3m7 0h1m-110 1h2m24 0h3m26 0h4m34 0h1m4 0h3m7 0h1m-108 1h1m24 0h5m-6 1h6m-23 1h2m30 0h2m-34 1h3m30 0h2m34 0h4m-71 1h2m65 0h4m-4 1h2m20 1h1m-66 1h4m59 0h3m-66 1h5m33 0h1m23 0h3m-64 1h4m29 0h6m-53 1h1m13 0h5m28 0h4m-51 1h3m4 0h2m5 0h5m-10 1h2m5 0h3m54 0h1m2 0h1m-33 1h2m9 0h4m13 0h1m2 0h1m-79 1h2m54 0h4m9 0h3m-70 1h1m22 0h5m26 0h1m11 0h2m5 0h1m-73 1h1m13 0h4m4 0h6m11 0h2m30 0h1m-71 1h1m13 0h3m32 0h1m11 0h2m6 0h1m-68 1h1m56 0h3m5 0h1m-64 1h1m2 0h3m48 0h2m-52 4h4m10 0h4m9 0h3m20 0h1m-23 1h2m-9 1h3m10 0h3m9 0h2m-18 1h3m9 0h1m2 0h1m-34 1h1m0 1h4"/><path stroke="#e7d4cf" d="M0 0m54 1h1m9 0h3m-8 1h1m2 0h1m3 0h5m8 0h1m-32 1h1m4 0h1m-4 1h1m26 0h1m4 0h2m-38 1h2m42 0h1m-47 1h2m-5 1h1m1 0h1m43 0h1m-49 1h3m45 0h1m6 0h1m-66 1h1m9 0h2m52 0h2m-67 2h1m-4 1h1m9 0h2m55 0h1m1 0h2m3 0h1m-66 1h2m64 0h1m1 0h1m-70 1h2m-2 1h1m61 0h1m11 0h1m-76 1h1m63 0h3m8 0h1m-83 1h1m5 0h1m66 0h1m-70 1h1m1 0h1m68 0h1m-84 1h1m10 0h1m69 0h2m11 0h1m-96 1h1m10 0h5m71 0h1m-88 1h1m8 0h1m2 0h1m69 0h1m13 0h1m-97 1h1m82 0h2m-83 1h2m7 0h2m70 0h2m0 1h1m11 0h1m-92 1h1m2 0h1m3 0h1m72 0h1m-81 1h1m6 0h1m85 0h3m-103 1h1m13 0h1m78 0h1m-82 1h2m73 0h1m-84 1h1m4 0h1m3 0h1m71 0h1m17 0h1m-91 1h1m72 0h1m-93 1h1m9 0h1m7 0h2m73 0h1m12 0h1m-100 1h1m4 0h1m80 0h1m-86 1h1m11 0h1m70 0h1m-93 1h1m17 0h1m1 0h2m-21 1h1m1 0h1m6 0h1m10 0h1m72 0h1m-81 1h1m6 0h1m88 0h1m-112 1h1m21 0h1m68 0h3m2 0h1m-79 1h1m3 0h1m68 0h1m1 0h1m-95 1h1m24 0h1m66 0h1m1 0h1m4 0h1m-74 1h1m65 0h1m7 0h1m8 0h1m6 0h1m-102 1h2m9 0h1m65 0h3m5 0h1m15 0h1m-6 1h1m1 0h1m2 0h1m-105 1h1m1 0h1m10 0h3m68 0h1m-69 1h1m60 0h1m1 0h2m12 0h1m11 0h1m-90 1h1m62 0h3m23 0h1m-94 1h5m59 0h1m1 0h1m1 0h3m16 0h1m5 0h1m-104 1h1m8 0h2m1 0h1m3 0h2m53 0h3m22 0h1m6 0h1m-104 1h1m10 0h1m5 0h1m51 0h2m10 0h1m2 0h1m18 0h1m-117 1h1m23 0h1m57 0h2m32 0h1m-111 1h1m20 0h1m5 0h3m48 0h1m-79 1h1m25 0h1m3 0h1m47 0h1m-78 1h1m2 0h1m1 0h1m13 0h1m9 0h4m36 0h5m6 0h1m1 0h1m24 0h1m-89 1h2m8 0h1m2 0h1m65 0h1m8 0h1m-86 1h1m40 0h2m38 0h1m-78 1h1m5 0h1m2 0h2m2 0h3m19 0h2m1 0h1m2 0h1m5 0h1m2 0h1m15 0h1m9 0h1m-103 1h1m2 0h1m8 0h1m24 0h3m14 0h4m2 0h3m16 0h1m6 0h1m-94 1h1m44 0h2m3 0h1m3 0h3m3 0h5m29 0h1m16 0h1m-112 1h1m4 0h1m40 0h2m2 0h1m2 0h1m3 0h1m3 0h2m19 0h1m14 0h1m8 0h1m-107 1h1m42 0h2m4 0h1m1 0h3m23 0h1m5 0h1m2 0h1m5 0h1m17 0h1m-111 1h2m66 0h1m14 0h1m7 0h1m-92 1h2m1 0h1m4 0h1m41 0h1m6 0h1m-57 1h2m7 0h1m67 0h1m5 0h1m10 0h1m8 0h1m8 0h1m-94 1h1m23 0h1m36 0h1m1 0h1m14 0h1m5 0h1m1 0h1m6 0h1m-111 1h1m22 0h1m14 0h1m22 0h1m2 0h1m29 0h1m-93 1h2m60 0h2m3 0h1m23 0h1m8 0h1m-100 1h1m5 0h1m7 0h1m15 0h1m-13 1h1m2 0h2m12 0h1m1 0h1m5 0h1m1 0h1m5 0h1m36 0h1m14 0h1m-92 1h1m1 0h1m22 0h1m18 0h1m12 0h1m26 0h1m4 0h2m-90 1h1m29 0h1m19 0h1m33 0h1m4 0h1m-70 1h1m27 0h1m1 0h1m31 0h1m4 0h2m-75 1h1m15 0h1m46 0h1m9 0h2m-101 1h1m10 0h1m22 0h1m51 0h1m12 0h1m-26 1h1m13 0h1m9 0h1m-72 1h1m14 0h1m27 0h1m12 0h1m7 0h1m1 0h1m3 0h2m-95 1h3m85 0h1m4 0h1m-93 1h3m83 0h1m-86 1h1m15 0h1m15 0h1m15 0h1m26 0h1m3 0h1m4 0h1m-84 1h4m60 0h2m7 0h1m-71 1h4m34 0h1m7 0h1m24 0h1m5 0h1m1 0h1m-77 1h1m1 0h1m70 0h1m1 0h1m-57 1h1m5 0h2m22 0h1m23 0h2m-67 1h1m24 0h1m-25 1h3m18 0h2m15 0h1m-34 1h1m32 0h1m4 0h1m9 0h3m-33 1h2m3 0h1m12 0h1m10 0h5m-32 1h1m25 0h3m-32 1h2m15 0h1m10 0h3m-5 1h4m-22 1h1m15 0h4m-29 1h8m4 0h1m11 0h3m-33 1h11m18 0h1"/><path stroke="#e0c1b6" d="M0 0m52 0h1m-2 1h1m11 0h1m3 0h1m1 0h3m-27 1h1m4 0h1m9 0h2m13 0h2m-26 1h2m-13 1h1m8 0h1m28 0h2m2 1h1m1 1h1m2 0h1m-48 1h1m1 0h1m42 0h1m4 0h1m-53 1h1m57 0h1m-61 1h1m-3 1h1m56 0h1m6 0h1m-8 1h1m1 1h1m3 0h1m-4 1h1m-65 1h1m1 0h1m63 0h1m-72 1h2m4 0h2m64 0h1m1 0h1m-69 1h1m76 0h1m-80 1h2m78 0h1m-82 1h1m1 0h1m68 0h1m-70 1h2m-15 1h1m80 0h3m-84 1h1m81 0h3m10 1h1m-97 1h1m96 0h1m-99 1h1m84 0h1m-73 1h1m85 0h1m-88 1h2m-3 1h1m1 0h1m87 0h1m-101 1h1m5 0h1m3 0h1m78 0h1m-3 1h1m8 0h1m1 0h1m-104 1h1m88 0h1m3 0h1m-90 1h2m83 0h1m15 0h1m-17 1h1m11 0h1m-89 1h1m76 0h1m6 0h1m10 0h1m-101 1h1m81 0h1m-78 1h1m3 0h1m91 0h1m-96 1h1m81 0h1m9 0h1m-13 1h1m15 0h1m-107 1h1m83 0h1m1 0h1m17 0h1m1 0h1m-95 1h4m68 0h1m1 0h1m-93 1h1m4 0h2m14 0h2m67 0h3m-82 1h1m2 0h1m84 0h1m-7 1h1m-74 1h1m82 0h1m-106 1h1m25 0h1m62 0h1m6 0h1m-97 1h1m6 0h2m17 0h1m61 0h2m6 0h1m7 0h1m9 0h1m-115 1h1m18 0h1m2 0h1m65 0h1m5 0h2m-96 1h1m11 0h1m4 0h1m8 0h3m58 0h2m4 0h1m-94 1h2m23 0h1m3 0h1m54 0h3m18 0h1m-87 1h1m9 0h1m54 0h2m28 0h1m-30 1h1m28 0h1m-112 1h1m31 0h1m52 0h2m10 0h1m13 0h1m-104 1h1m23 0h1m49 0h1m4 0h1m9 0h1m5 0h1m1 0h1m-33 1h5m4 0h1m14 0h1m1 0h1m3 0h1m-91 1h1m18 0h1m39 0h1m4 0h1m3 0h2m20 0h1m1 0h1m2 0h1m-106 1h1m25 0h1m7 0h2m28 0h1m39 0h1m-102 1h1m10 0h1m21 0h2m3 0h3m23 0h1m2 0h2m1 0h1m5 0h1m12 0h1m11 0h1m-104 1h1m4 0h1m6 0h1m22 0h3m2 0h1m1 0h1m15 0h1m2 0h1m8 0h2m5 0h3m9 0h1m1 0h1m-89 1h3m8 0h1m4 0h1m2 0h1m13 0h3m2 0h2m4 0h3m6 0h2m3 0h1m8 0h1m5 0h1m-78 1h1m1 0h1m14 0h2m17 0h1m7 0h1m3 0h1m2 0h1m4 0h2m4 0h1m-46 1h1m12 0h1m1 0h1m11 0h5m2 0h1m5 0h1m10 0h1m10 0h1m24 0h1m-109 1h1m6 0h1m16 0h1m29 0h1m11 0h1m9 0h1m-76 1h2m10 0h1m1 0h1m37 0h1m26 0h1m26 0h2m-108 1h2m30 0h1m27 0h1m13 0h1m31 0h2m-107 1h2m63 0h1m34 0h1m4 0h2m-83 1h1m80 0h1m-103 1h2m10 0h1m24 0h1m4 0h2m11 0h1m32 0h1m12 0h2m-103 1h2m6 0h1m1 0h1m1 0h1m42 0h1m33 0h1m2 0h1m8 0h1m-101 1h1m23 0h1m8 0h2m-34 1h1m2 0h1m30 0h1m7 0h1m18 0h1m9 0h1m21 0h1m4 0h1m-97 1h1m39 0h2m15 0h1m3 0h1m23 0h1m5 0h1m-74 1h1m8 0h1m3 0h1m23 0h1m10 0h1m9 0h1m7 0h1m5 0h1m-88 1h1m20 0h2m57 0h2m4 0h2m-87 1h1m4 0h1m19 0h1m38 0h1m11 0h1m7 0h2m-78 1h2m20 0h1m16 0h1m13 0h1m3 0h1m18 0h1m-68 1h1m15 0h1m3 0h1m2 0h1m25 0h1m16 0h1m-76 1h1m7 0h1m47 0h1m9 0h1m7 0h1m-84 1h2m10 0h1m10 0h1m2 0h1m11 0h1m16 0h1m10 0h1m15 0h1m-34 1h1m5 0h1m6 0h2m11 0h2m4 0h2m-48 1h1m8 0h1m8 0h1m5 0h1m3 0h2m7 0h2m7 0h1m-75 1h1m24 0h1m2 0h1m3 0h1m4 0h1m19 0h1m8 0h1m6 0h1m-48 1h1m22 0h1m15 0h1m-55 1h2m10 0h1m3 0h1m18 0h1m8 0h1m6 0h1m1 0h1m-54 1h5m38 0h1m7 0h2m-17 1h4m-18 1h3m10 0h1m1 0h1m-21 1h1m3 0h1m12 0h1m2 0h1m-6 1h1m2 0h1m-6 1h1m3 0h1m-7 1h5m-7 1h4"/><path stroke="#d7a491" d="M0 0m53 0h1m2 0h1m-2 1h1m1 0h1m2 0h1m1 0h1m5 0h1m8 0h1m-26 1h1m18 0h2m7 0h1m-34 2h1m40 1h1m-3 2h1m4 0h1m-59 1h1m63 0h1m-68 1h3m5 0h1m53 0h1m-58 1h3m-6 1h1m59 0h1m1 0h1m4 0h1m1 2h1m-7 1h1m2 0h1m-3 1h1m-72 1h1m4 0h1m-5 1h1m80 1h1m-88 2h1m3 1h1m83 0h1m-90 1h1m90 0h1m-7 1h1m4 0h1m-90 1h1m1 0h1m4 0h2m-14 1h1m4 0h2m4 0h1m74 0h1m-76 1h1m74 0h1m-80 1h1m-6 1h1m90 0h1m-95 1h1m2 0h1m7 0h1m1 0h1m-14 1h1m12 0h1m73 1h1m-92 1h1m9 0h1m80 0h1m13 0h1m-106 1h1m1 0h1m10 0h1m85 0h1m5 0h1m-106 1h1m1 0h1m10 0h1m1 0h1m80 0h1m-6 1h1m7 0h1m6 0h1m-97 1h1m7 0h1m72 0h1m-74 1h1m72 0h1m9 0h1m6 0h1m-93 1h1m1 0h1m74 0h1m14 0h1m-104 1h1m8 0h1m1 0h1m86 0h1m4 0h1m-93 1h1m76 0h1m10 0h1m3 0h1m1 0h1m-109 1h1m1 0h1m87 0h2m15 0h1m-106 1h1m-1 1h1m4 0h1m4 0h1m5 0h1m72 0h1m9 0h1m3 0h1m2 0h1m-111 1h1m3 0h1m1 0h1m14 0h2m77 0h1m3 0h1m2 0h1m-105 1h1m15 0h1m1 0h2m76 0h1m7 0h1m-103 1h1m3 0h1m8 0h1m87 0h1m4 0h1m-99 1h1m1 0h1m76 0h1m18 0h1m-89 1h3m58 0h2m25 0h1m-114 1h1m23 0h1m2 0h1m57 0h3m-88 1h2m21 0h3m59 0h1m1 0h1m-88 1h1m23 0h1m7 0h2m50 0h1m4 0h1m2 0h1m12 0h1m-106 1h1m6 0h1m23 0h1m53 0h1m22 0h1m-108 1h1m27 0h1m4 0h1m72 0h2m-108 1h1m2 0h1m70 0h3m21 0h1m8 0h1m-107 1h1m8 0h1m62 0h3m7 0h1m11 0h1m13 0h1m-106 1h1m11 0h1m20 0h3m32 0h2m2 0h1m4 0h2m14 0h1m11 0h1m-103 1h1m1 0h1m3 0h1m25 0h1m6 0h1m17 0h2m5 0h1m2 0h1m6 0h1m13 0h1m1 0h1m2 0h1m-96 1h1m12 0h1m6 0h1m14 0h1m22 0h1m7 0h1m2 0h1m7 0h1m1 0h1m13 0h2m-84 1h1m8 0h1m13 0h1m13 0h2m7 0h1m8 0h1m1 0h2m29 0h1m-100 1h2m15 0h1m10 0h1m1 0h1m17 0h2m7 0h1m12 0h1m25 0h1m2 0h1m-56 1h5m8 0h1m18 0h1m20 0h1m1 0h1m3 0h1m-43 1h1m21 0h1m2 0h1m12 0h1m-96 1h2m6 0h1m47 0h3m25 0h1m-85 1h1m20 0h1m1 0h1m7 0h1m2 0h1m14 0h1m2 0h1m4 0h1m11 0h1m18 0h1m5 0h1m-87 1h1m15 0h1m4 0h1m4 0h3m31 0h1m3 0h1m6 0h1m13 0h1m-88 1h1m3 0h1m18 0h1m50 0h1m4 0h1m2 0h1m4 0h1m-96 1h1m8 0h1m7 0h1m15 0h1m7 0h1m52 0h2m-96 1h2m8 0h1m11 0h1m25 0h1m16 0h1m21 0h1m1 0h1m4 0h1m-94 1h2m38 0h1m10 0h1m9 0h2m2 0h1m20 0h2m-86 1h2m43 0h1m16 0h1m5 0h3m3 0h1m-74 1h2m15 0h3m6 0h3m25 0h2m17 0h1m-72 1h3m16 0h1m2 0h1m2 0h1m23 0h1m22 0h1m-72 1h1m10 0h1m8 0h1m9 0h1m5 0h1m29 0h1m4 0h1m4 0h3m-78 1h1m4 0h1m10 0h1m14 0h1m32 0h3m2 0h1m6 0h2m-76 1h1m26 0h2m6 0h1m25 0h1m1 0h3m5 0h1m2 0h1m-70 1h1m5 0h1m15 0h1m14 0h1m5 0h1m12 0h4m8 0h1m-66 1h2m9 0h2m6 0h1m31 0h2m1 0h2m6 0h3m-4 1h1m-43 1h1m9 0h2m6 0h3m9 0h1m-30 1h2m23 0h1m3 0h2m7 0h2m-47 1h1m3 0h1m3 0h1m3 0h1m4 0h1m13 0h1m4 0h2m6 0h2m-52 1h10m8 0h1m15 0h2m5 0h1m8 0h1m-17 1h2m2 0h3m-7 2h1m-19 1h3m14 0h2m-4 1h2m-4 1h3"/><path stroke="#cb7c63" d="M0 0m72 0h1m-20 1h1m7 0h1m13 0h1m-3 1h2m7 0h1m-42 1h1m4 0h1m38 0h1m-38 1h1m34 1h1m-43 1h1m43 0h1m2 0h1m-50 1h1m52 1h1m2 0h1m-59 1h1m54 1h1m-63 1h1m62 0h1m8 0h1m-74 1h1m70 0h1m1 0h1m-2 2h1m-79 1h1m4 0h1m1 0h1m-9 1h1m80 0h1m-82 1h1m5 0h1m-8 1h1m84 0h1m-86 1h1m78 0h2m5 0h1m-4 1h1m3 0h1m-2 1h1m-84 1h1m81 1h1m5 0h1m-86 2h1m78 0h1m-84 1h1m78 0h2m3 0h1m-6 1h1m11 1h1m-89 1h1m78 0h1m9 0h1m-97 1h1m6 0h1m-14 1h1m100 0h1m-10 1h1m5 0h1m-98 1h1m101 0h1m-104 1h1m101 0h2m-95 1h1m2 0h1m1 0h1m89 0h1m-109 1h1m7 0h1m9 0h1m74 0h1m-87 1h1m9 0h2m-12 1h1m10 0h1m77 0h1m6 0h1m-104 1h2m92 0h1m15 0h1m-110 1h1m2 0h1m88 0h1m16 0h1m-107 1h1m93 0h1m8 0h1m3 0h1m-108 1h1m6 0h1m82 0h1m9 0h1m6 0h1m-108 1h1m100 0h1m-102 1h1m8 0h2m5 0h2m81 0h2m-103 1h1m7 0h1m10 0h1m73 0h1m10 0h2m-95 2h1m5 0h1m72 0h1m1 0h1m8 0h2m-87 1h1m85 0h1m-89 1h1m7 0h2m78 0h1m-100 1h2m78 0h1m18 0h1m-105 1h1m4 0h1m1 0h1m76 0h2m6 0h1m-93 1h2m5 0h1m15 0h1m7 0h2m60 0h1m-93 1h2m9 0h1m7 0h1m2 0h1m8 0h1m61 0h1m-94 1h2m6 0h1m3 0h1m3 0h1m59 0h1m22 0h1m2 0h1m-102 1h2m7 0h1m2 0h1m7 0h1m53 0h2m4 0h1m17 0h1m1 0h1m-101 1h2m9 0h3m5 0h1m73 0h1m4 0h2m-99 1h2m3 0h1m27 0h1m1 0h1m33 0h2m25 0h1m1 0h1m-98 1h1m9 0h1m11 0h1m2 0h1m9 0h1m24 0h2m7 0h1m9 0h1m17 0h1m-97 1h1m11 0h3m3 0h1m14 0h1m24 0h3m6 0h1m9 0h1m18 0h1m-29 1h1m8 0h1m7 0h1m-58 1h1m39 0h1m8 0h1m20 0h1m-90 1h1m33 0h1m3 0h1m9 0h1m18 0h1m21 0h1m-91 1h1m16 0h1m31 0h1m1 0h1m15 0h1m10 0h2m10 0h1m-84 1h1m20 0h2m3 0h1m12 0h2m11 0h1m7 0h1m7 0h1m2 0h3m-84 1h1m3 0h3m1 0h1m6 0h1m3 0h1m12 0h1m13 0h1m3 0h1m11 0h1m20 0h1m1 0h1m1 0h1m-87 1h1m2 0h1m1 0h1m3 0h1m57 0h1m16 0h2m-74 1h1m3 0h1m62 0h1m4 0h2m-50 1h1m1 0h1m45 0h1m-58 1h1m1 0h1m42 0h1m-44 1h1m17 0h1m12 0h1m5 1h1m3 0h1m-56 1h1m10 0h1m28 0h1m10 0h1m3 0h4m-70 1h3m8 0h1m6 0h1m1 0h1m9 0h1m15 0h1m19 0h2m-67 1h4m3 0h1m20 0h2m20 0h1m15 0h2m5 0h2m-73 1h5m28 0h1m37 0h2m-68 1h2m2 0h1m17 0h5m2 0h1m35 0h2m-41 1h1m16 0h1m-23 1h1m3 0h1m13 0h1m3 0h1m-22 1h2m25 0h2m-22 1h1m2 0h1m17 0h1m-35 1h3m5 0h3m1 0h4m15 0h4m-27 1h3m18 0h5m-5 1h2"/><path stroke="#ba4d39" d="M0 0m54 0h2m19 0h1m-20 1h1m-13 1h1m2 0h1m33 0h1m1 0h2m-43 1h1m2 0h1m1 0h1m2 0h1m35 0h1m-3 2h1m4 0h1m-4 1h1m4 0h1m-56 1h1m61 2h2m-7 1h1m6 1h2m-75 4h1m1 0h1m72 0h1m-77 1h4m78 3h1m-8 1h2m-1 1h4m3 0h1m-7 1h4m1 0h1m-87 1h1m84 0h1m2 0h1m-96 3h1m9 0h1m80 0h1m-82 1h1m77 0h2m2 0h1m-94 1h1m10 0h1m77 0h1m0 1h1m-90 1h2m88 0h1m7 0h1m-9 1h1m4 0h1m-4 1h1m6 0h1m1 0h1m-93 2h1m84 0h1m4 0h1m2 0h1m-108 1h1m15 0h1m85 0h1m-103 1h1m8 0h1m1 0h1m4 0h1m-18 1h1m92 0h1m-94 1h2m7 0h1m83 0h1m-78 1h1m76 0h1m-79 1h1m-15 1h1m103 0h1m-8 1h2m5 0h1m-94 1h1m87 0h1m-91 1h1m95 0h1m-104 1h1m100 0h1m-87 1h1m75 0h1m9 0h1m-96 1h1m2 0h1m82 0h1m-80 1h2m-6 1h3m-9 2h1m14 0h2m68 1h1m7 0h1m-71 1h3m67 0h1m-85 1h2m11 0h1m2 0h2m-21 1h2m1 0h3m73 0h1m6 0h1m4 0h1m-85 1h1m72 0h3m4 0h1m2 0h1m-89 1h1m1 0h1m20 0h1m65 0h1m-71 1h6m33 0h1m-53 1h1m3 0h1m11 0h2m45 0h1m19 0h1m-81 1h2m6 0h1m31 0h3m8 0h1m27 0h2m-15 1h1m-60 1h1m2 0h1m15 0h3m13 0h1m7 0h1m-63 1h2m1 0h1m1 0h1m14 0h2m14 0h1m3 0h1m11 0h1m9 0h1m14 0h1m-79 1h1m2 0h5m1 0h1m1 0h1m1 0h1m7 0h1m41 0h1m5 0h1m10 0h1m5 0h1m-78 1h1m21 0h1m4 0h1m24 0h1m8 0h1m8 0h4m3 0h1m-85 1h2m7 0h1m3 0h3m5 0h1m5 0h3m27 0h1m9 0h1m2 0h1m7 0h3m-25 1h1m10 0h1m11 0h1m-44 1h1m10 0h1m8 0h1m2 0h1m7 0h1m-41 1h1m15 0h1m15 0h1m7 0h1m-42 1h2m16 0h2m23 0h1m-34 1h1m3 0h1m23 0h1m5 0h2m-53 1h1m4 0h1m9 0h1m4 0h1m22 0h1m-48 1h1m3 0h2m3 0h2m8 0h1m2 0h1m26 0h1m6 0h2m-61 1h7m-8 1h2m2 0h3m35 0h1m-41 1h2m23 0h2m12 0h1m-20 1h1m14 0h1m4 0h1m-21 1h3m5 2h2m16 0h2"/><path stroke="#9a2125" d="M0 0m66 0h1m6 0h2m2 2h1m-35 1h2m4 0h1m32 0h1m4 0h1m0 1h2m-5 1h1m-48 1h3m-6 1h1m1 0h2m53 0h1m4 2h1m-69 1h1m64 0h1m5 0h1m0 2h1m-3 1h1m-79 7h1m87 0h1m-89 1h1m84 0h1m3 0h1m-90 1h1m87 0h1m1 0h1m-92 1h2m2 3h1m-11 1h1m8 1h2m79 0h1m7 2h1m2 0h1m-102 1h1m91 0h1m5 0h2m-94 2h3m91 0h1m-93 1h1m-4 1h1m90 0h1m-3 1h1m-99 1h1m6 0h1m-1 1h1m7 2h1m87 0h1m-103 1h1m12 0h2m87 0h1m1 0h1m-106 1h1m1 0h1m8 0h1m1 0h2m-15 1h1m96 0h1m7 0h1m-99 1h1m89 0h1m1 0h1m6 0h1m-5 1h1m-9 1h1m7 0h1m-87 1h2m-7 1h4m-1 1h1m82 1h1m0 1h1m-8 1h1m-84 1h1m1 0h1m79 0h1m1 0h1m-82 1h1m5 0h1m3 0h1m6 0h2m60 0h1m2 0h1m4 0h1m-8 1h3m4 0h1m-80 1h1m77 0h1m4 0h1m-89 1h1m82 0h1m3 0h1m-88 1h1m1 0h1m12 0h1m1 0h1m69 0h2m-74 1h1m2 0h3m66 0h1m-71 1h1m-2 1h2m30 0h3m8 0h2m14 0h1m-28 1h2m10 0h1m14 0h1m-76 1h1m32 0h3m23 0h1m15 0h1m-80 1h2m5 0h1m3 0h1m24 0h4m38 0h1m-79 1h3m6 0h1m3 0h1m7 0h1m6 0h2m6 0h3m28 0h2m-58 1h1m5 0h1m27 0h1m14 0h1m8 0h2m-54 1h1m3 0h1m23 0h1m2 0h1m11 0h1m10 0h1m-3 1h3m-25 1h1m13 0h1m7 0h3m-1 1h2m-35 1h3m-25 1h4m16 0h4m12 0h1m1 0h1m10 0h1m-49 1h3m16 0h2m17 0h1m7 0h2m-15 1h1m-37 1h2m33 0h5m-5 1h4m-18 1h3m12 0h4m-2 1h3"/><path stroke="#5f0c1e" d="M0 0m62 0h4m10 1h1m-29 1h2m28 0h1m11 4h1m8 4h1m0 4h1m0 1h1m-82 6h1m-1 1h1m86 0h1m0 1h1m-88 1h1m87 0h1m-87 3h2m-9 2h1m-4 3h2m91 0h1m3 0h1m2 0h1m-101 1h1m92 0h2m2 0h2m1 0h1m-94 1h2m85 0h2m1 0h2m-92 1h2m85 0h2m2 0h1m-94 1h1m92 0h2m-95 1h1m93 0h1m-102 5h1m10 0h1m92 0h2m-106 1h2m9 0h2m84 0h1m7 0h1m-106 1h2m5 0h1m89 0h1m-93 1h3m88 0h2m-93 1h3m88 0h2m-93 1h2m89 0h2m-2 1h2m-2 1h2m-1 1h1m-79 2h2m-13 1h1m10 0h2m69 0h1m-83 1h2m7 0h3m70 0h2m-76 1h4m-6 3h1m14 0h1m-1 1h2m-2 3h2m41 0h1m14 0h1m-1 1h1m-69 2h3m6 0h2m25 0h3m-37 1h2m4 0h4m24 0h3m10 0h1m-42 1h3m25 0h2m10 0h2m9 0h2m-26 1h3m10 0h2m-15 1h2m6 3h1m10 0h1m-14 1h4m-4 1h4"/></g><g filter="url(#b3)"><ellipse cx="838.4" cy="597.4" rx="22" ry="12.5" transform="rotate(-33 838.4 597.4)" fill="#f3efee" stroke="#ecd3cb" stroke-width="1.5"/><ellipse cx="838.4" cy="597.4" rx="19.5" ry="10" transform="rotate(-33 838.4 597.4)" fill="#f4f0ef" stroke="#bdd6df" stroke-width="1.5"/><path d="M820.5 595.5A127 127 0 0 1 832 583.6" fill="none" stroke="#1a2458" stroke-width="3.2"/><path d="M832.5 583A127 127 0 0 1 841 576" fill="none" stroke="#6f0f22" stroke-width="3"/><path d="M811.5 607A125 125 0 0 1 820 596.5" fill="none" stroke="#a32a26" stroke-width="3" opacity="0.9"/></g></g>
<!-- colorbar 1 -->
<rect x="1176" y="240" width="24" height="216" fill="url(#gT)"/>
<rect x="1176" y="240" width="24" height="216" fill="none" stroke="#000" stroke-width="2"/>
<g stroke="#000" stroke-width="2">
<path d="M1201 240h10M1201 283.2h10M1201 326.4h10M1201 369.6h10M1201 412.8h10M1201 456h10"/>
</g>
<g font-size="40">
<text x="1217" y="254.5">30</text>
<text x="1217" y="297.7">25</text>
<text x="1217" y="340.9">20</text>
<text x="1217" y="384.1">15</text>
<text x="1217" y="427.3">10</text>
<text x="1217" y="470.5">5</text>
<text transform="translate(1311.2 348) rotate(-90)" text-anchor="middle">Temperature [°C]</text>
</g>
<!-- colorbar 2 -->
<rect x="1176" y="584" width="24" height="216" fill="url(#gB)"/>
<rect x="1176" y="584" width="24" height="216" fill="none" stroke="#000" stroke-width="2"/>
<g stroke="#000" stroke-width="2">
<path d="M1201 638h10M1201 692h10M1201 746h10"/>
</g>
<g font-size="40">
<text x="1217" y="652.5">10<tspan class="sup">⁻⁵</tspan></text>
<text x="1217" y="706.5">0</text>
<text x="1217" y="760.5">-10<tspan class="sup">⁻⁵</tspan></text>
<text transform="translate(1360.6 690.8) rotate(-90)" text-anchor="middle">Vorticity [s<tspan class="sup">⁻</tspan>¹]</text>
</g>
</svg>
</body></html>
